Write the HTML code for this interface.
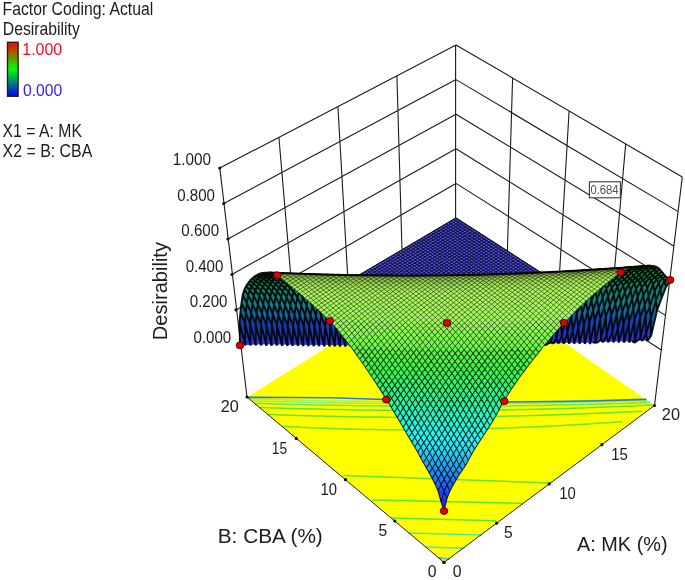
<!DOCTYPE html>
<html><head><meta charset="utf-8"><title>Desirability 3D surface</title>
<style>
html,body{margin:0;padding:0;background:#fff}
body{width:685px;height:580px;position:relative;overflow:hidden;font-family:"Liberation Sans",Arial,sans-serif}
svg text{font-family:"Liberation Sans",Arial,sans-serif}
.bar{position:absolute;left:6.4px;top:41.5px;width:9.9px;height:52.7px;border:1.3px solid #222;background:linear-gradient(to bottom,#ff0000 0%,#00ff00 50%,#0000ff 100%)}
</style></head><body>
<svg width="685" height="580" viewBox="0 0 685 580" style="position:absolute;left:0;top:0">
<path d="M219.8 168.1 L247.0 397.0M682.3 176.9 L654.5 405.5M455.6 45.0 L455.6 218.0M219.8 168.1 L456.0 45.0M456.0 45.0 L682.3 176.9M240.0 345.4 L456.0 218.0M661.7 350.3 L456.0 218.0M236.0 309.9 L456.0 183.4M665.8 315.6 L456.0 183.4M231.9 274.5 L456.0 148.8M669.9 280.9 L456.0 148.8M227.9 239.0 L456.0 114.2M674.1 246.3 L456.0 114.2M223.8 203.6 L456.0 79.6M678.2 211.6 L456.0 79.6M278.9 137.3 L294.0 313.5M625.7 143.9 L610.3 317.2M337.9 106.5 L348.0 281.7M569.1 111.0 L558.9 284.1M396.9 75.8 L402.0 249.8M512.6 78.0 L507.4 251.1" stroke="#1a1a1a" stroke-width="1.1" fill="none"/>
<polygon points="444.0,562.4 247.0,397.0 456.0,267.0 654.5,405.5" fill="#ffff00"/>
<path d="M343.2 475.4 L550.3 483.1" stroke="#62e628" stroke-width="1.5" fill="none"/>
<path d="M372.1 500.1 L523.0 503.4" stroke="#5ae630" stroke-width="1.5" fill="none"/>
<path d="M391.0 518.0 L496.1 520.7" stroke="#54e644" stroke-width="1.5" fill="none"/>
<path d="M408.5 532.9 L482.1 535.0" stroke="#5ae696" stroke-width="1.5" fill="none"/>
<path d="M425.2 547.0 L464.6 548.2" stroke="#5adcc8" stroke-width="1.5" fill="none"/>
<path d="M438.3 557.8 L449.7 559.2" stroke="#50aae6" stroke-width="1.5" fill="none"/>
<polyline points="622.8,421.6 619.9,421.8 616.2,422.1 613.1,422.3 610.7,422.5 607.1,422.7 603.5,423.0 601.1,423.1 597.9,423.3 594.2,423.6 591.5,423.8 588.7,423.9 585.0,424.2 582.0,424.3 579.5,424.5 575.7,424.7 572.5,424.9 570.1,425.0 566.4,425.2 563.0,425.4 560.6,425.6 557.1,425.7 553.6,425.9 551.2,426.0 547.7,426.2 544.2,426.4 541.9,426.5 538.2,426.7 534.9,426.8 532.5,426.9 528.7,427.1 525.6,427.2 523.0,427.3 519.2,427.5 516.4,427.6 513.5,427.7 509.6,427.8 507.2,427.9 503.9,428.1 500.4,428.2 498.1,428.2 494.2,428.4 491.2,428.5 488.4,428.6 484.5,428.7 482.2,428.7 478.7,428.8 475.4,428.9 472.8,429.0 468.9,429.1 466.4,429.1 463.1,429.2 459.7,429.3 457.2,429.3 453.2,429.4 450.8,429.5 447.3,429.5 444.1,429.6 441.4,429.6 437.5,429.6 435.3,429.7 431.4,429.7 428.7,429.7 425.5,429.8 422.2,429.8 419.4,429.8 415.7,429.8 413.4,429.8 409.4,429.8 407.0,429.9 403.3,429.9 400.5,429.8 397.3,429.8 394.1,429.8 391.2,429.8 387.8,429.8 385.0,429.7 381.4,429.7 378.9,429.7 375.1,429.6 372.7,429.6 368.9,429.5 366.5,429.5 362.6,429.4 360.3,429.3 356.4,429.2 354.1,429.2 350.3,429.1 347.8,429.0 344.1,428.9 341.5,428.8 338.0,428.7 335.2,428.6 332.0,428.5 328.9,428.4 325.9,428.3 322.5,428.2 319.9,428.1 316.1,427.9 313.9,427.8 310.0,427.7 307.6,427.6 304.0,427.4 301.2,427.3 298.0,427.1 294.8,427.0 292.1,426.9 288.4,426.7 286.2,426.6 282.3,426.4" stroke="#68e828" stroke-width="1.5" fill="none"/>
<polyline points="642.0,411.3 639.1,411.4 635.4,411.5 633.1,411.7 629.8,411.8 626.2,412.0 623.9,412.1 620.5,412.3 617.1,412.4 614.8,412.5 611.1,412.7 608.0,412.8 605.4,412.9 601.7,413.1 599.0,413.2 596.0,413.3 592.2,413.4 590.0,413.5 586.5,413.7 583.2,413.8 580.9,413.9 577.1,414.0 574.2,414.1 571.4,414.2 567.6,414.4 565.2,414.5 561.9,414.6 558.4,414.7 556.1,414.8 552.3,414.9 549.5,415.0 546.6,415.1 542.8,415.2 540.5,415.3 537.0,415.4 533.8,415.5 531.3,415.5 527.4,415.7 524.9,415.7 521.6,415.8 518.2,415.9 515.8,416.0 512.0,416.1 509.3,416.1 506.2,416.2 502.7,416.3 500.4,416.3 496.5,416.4 493.8,416.5 490.6,416.6 487.2,416.6 484.8,416.7 480.9,416.7 478.4,416.8 475.0,416.8 471.9,416.9 469.1,416.9 465.3,417.0 463.1,417.0 459.3,417.0 456.6,417.1 453.4,417.1 450.1,417.1 447.4,417.2 443.6,417.2 441.5,417.2 437.5,417.2 435.0,417.3 431.5,417.3 428.6,417.3 425.6,417.3 422.1,417.3 419.6,417.3 415.7,417.3 413.6,417.3 409.5,417.3 407.2,417.3 403.5,417.3 400.9,417.3 397.5,417.3 394.5,417.2 391.4,417.2 388.2,417.2 385.3,417.2 381.9,417.1 379.3,417.1 375.6,417.1 373.2,417.0 369.3,417.0 367.1,417.0 363.1,416.9 360.9,416.9 356.9,416.8 354.8,416.8 350.7,416.7 348.6,416.7 344.5,416.6 342.4,416.6 338.4,416.5 336.2,416.4 332.2,416.3 330.1,416.3 326.0,416.2 323.9,416.1 319.8,416.0 317.7,416.0 313.7,415.9 311.5,415.8 307.6,415.7 305.3,415.7 301.5,415.5 299.1,415.5 295.5,415.4 292.8,415.3 289.4,415.2 286.6,415.1 283.4,415.0 280.3,414.9 277.4,414.8 274.0,414.6 271.4,414.5 267.7,414.4" stroke="#62e62c" stroke-width="1.5" fill="none"/>
<polyline points="653.7,405.0 649.8,404.9 647.7,404.9 644.2,405.2 640.7,405.4 638.4,405.5 635.3,405.9 632.1,406.4 629.0,406.1 625.8,406.2 622.3,406.3 620.1,406.4 616.4,406.6 613.3,406.7 610.8,406.8 607.0,407.0 604.3,407.1 601.4,407.2 597.6,407.3 595.4,407.4 591.9,407.5 588.7,407.6 586.3,407.7 582.5,407.9 579.8,408.0 576.8,408.1 573.1,408.2 570.9,408.2 567.3,408.4 564.2,408.5 561.5,408.5 557.7,408.6 555.4,408.7 552.0,408.8 548.7,408.9 546.2,409.0 542.4,409.1 539.9,409.1 536.6,409.2 533.3,409.3 530.8,409.3 527.0,409.4 524.6,409.5 521.2,409.5 518.0,409.6 515.3,409.7 511.5,409.7 509.3,409.8 505.6,409.8 502.8,409.9 499.8,409.9 496.3,410.0 493.9,410.0 490.0,410.1 487.6,410.1 484.1,410.1 481.1,410.2 478.2,410.2 474.7,410.2 472.3,410.3 468.4,410.3 466.1,410.3 462.5,410.3 459.6,410.4 456.6,410.4 453.2,410.4 450.6,410.4 446.8,410.4 444.7,410.4 440.7,410.4 438.3,410.4 434.7,410.5 432.0,410.5 428.7,410.5 425.6,410.5 422.8,410.5 419.3,410.4 416.8,410.4 412.9,410.4 410.7,410.4 406.7,410.4 404.5,410.4 400.7,410.4 398.2,410.3 394.7,410.3 391.9,410.3 388.6,410.3 385.7,410.2 382.6,410.2 379.4,410.2 376.5,410.2 373.2,410.1 370.4,410.1 366.9,410.0 364.3,410.0 360.7,410.0 358.2,409.9 354.5,409.9 352.1,409.8 348.3,409.8 346.0,409.7 342.1,409.6 339.9,409.6 336.0,409.5 333.8,409.5 329.8,409.4 327.6,409.4 323.7,409.3 321.5,409.2 317.6,409.1 315.3,409.1 311.4,409.0 309.1,408.9 305.3,408.8 303.0,408.8 299.2,408.7 296.8,408.6 293.2,408.5 290.6,408.5 287.1,408.4 284.4,408.3 281.0,408.2 278.2,408.1 275.0,408.0 272.0,407.9 268.9,407.8 265.7,407.7 262.9,407.6 259.5,407.5" stroke="#5ee634" stroke-width="1.5" fill="none"/>
<polyline points="649.8,402.2 646.3,402.4 644.0,402.5 640.8,402.9 637.5,403.3 634.9,402.9 631.2,403.1 628.3,403.2 625.6,403.2 621.8,403.4 619.5,403.4 616.1,403.6 612.9,403.6 610.4,403.7 606.6,403.8 604.1,403.9 600.9,404.0 597.6,404.1 595.2,404.2 591.4,404.3 588.8,404.3 585.6,404.4 582.2,404.5 579.9,404.6 576.0,404.7 573.5,404.7 570.3,404.8 567.0,404.9 564.5,404.9 560.7,405.0 558.3,405.1 554.9,405.1 551.8,405.2 549.1,405.2 545.3,405.3 543.1,405.4 539.4,405.4 536.6,405.5 533.6,405.5 530.1,405.6 527.8,405.6 523.9,405.7 521.5,405.7 518.1,405.8 515.0,405.8 512.2,405.8 508.6,405.9 506.3,405.9 502.4,406.0 500.0,406.0 496.6,406.0 493.6,406.1 490.7,406.1 487.2,406.1 484.8,406.1 480.8,406.2 478.7,406.2 474.9,406.2 472.3,406.2 469.0,406.2 465.9,406.3 463.1,406.3 459.5,406.3 457.2,406.3 453.2,406.3 451.0,406.3 447.2,406.3 444.7,406.3 441.3,406.3 438.3,406.3 435.3,406.3 432.0,406.3 429.3,406.3 425.7,406.3 423.4,406.3 419.4,406.3 417.3,406.3 413.4,406.2 411.0,406.2 407.4,406.2 404.7,406.2 401.3,406.2 398.5,406.2 395.3,406.1 392.2,406.1 389.3,406.1 386.0,406.1 383.2,406.0 379.7,406.0 377.2,406.0 373.5,405.9 371.1,405.9 367.3,405.8 365.1,405.8 361.1,405.8 359.0,405.7 354.9,405.7 352.8,405.6 348.9,405.6 346.6,405.6 342.8,405.5 340.5,405.4 336.7,405.4 334.3,405.3 330.5,405.3 328.1,405.2 324.4,405.2 322.0,405.1 318.3,405.0 315.9,405.0 312.2,404.9 309.8,404.8 306.0,404.8 303.6,404.7 299.9,404.6 297.6,404.6 293.7,404.5 291.5,404.4 287.6,404.3 285.4,404.2 281.4,404.1 279.3,404.1 275.3,404.0 273.2,403.9 269.2,403.8 267.0,403.7 263.2,403.6 260.8,403.6 257.1,403.4 254.6,403.4" stroke="#6ae856" stroke-width="1.5" fill="none"/>
<polyline points="647.1,400.3 643.9,400.9 640.4,401.2 637.8,400.7 634.8,400.8 632.1,400.9 628.3,401.0 626.0,401.1 622.6,401.2 619.4,401.3 617.0,401.4 613.2,401.5 610.7,401.5 607.5,401.6 604.1,401.7 601.7,401.8 597.9,401.9 595.4,402.0 592.2,402.0 588.9,402.1 586.5,402.2 582.6,402.3 580.2,402.3 576.9,402.4 573.7,402.5 571.1,402.5 567.3,402.6 565.0,402.7 561.5,402.7 558.6,402.8 555.7,402.8 552.1,402.9 549.9,402.9 546.0,403.0 543.5,403.1 540.2,403.1 537.0,403.2 534.4,403.2 530.6,403.3 528.4,403.3 524.7,403.3 522.0,403.4 518.8,403.4 515.5,403.5 513.0,403.5 509.1,403.5 507.0,403.5 503.2,403.6 500.6,403.6 497.3,403.6 494.2,403.7 491.5,403.7 487.8,403.7 485.6,403.7 481.6,403.8 479.3,403.8 475.7,403.8 472.9,403.8 469.8,403.8 466.6,403.8 463.9,403.8 460.2,403.9 457.9,403.9 454.0,403.9 451.8,403.9 448.0,403.9 445.5,403.9 442.1,403.9 439.2,403.9 436.1,403.9 432.8,403.9 430.1,403.9 426.5,403.8 424.2,403.8 420.3,403.8 418.2,403.8 414.2,403.8 411.9,403.8 408.2,403.8 405.6,403.7 402.2,403.7 399.4,403.7 396.1,403.7 393.1,403.6 390.1,403.6 386.9,403.6 384.1,403.6 380.7,403.5 378.1,403.5 374.5,403.5 372.0,403.4 368.3,403.4 365.9,403.4 362.1,403.3 359.9,403.3 355.9,403.2 353.8,403.2 349.8,403.1 347.6,403.1 343.7,403.0 341.5,403.0 337.6,402.9 335.3,402.9 331.5,402.8 329.2,402.8 325.4,402.7 323.0,402.7 319.3,402.6 316.9,402.5 313.2,402.5 310.8,402.4 307.0,402.3 304.7,402.3 300.9,402.2 298.6,402.1 294.8,402.0 292.5,402.0 288.6,401.9 286.4,401.8 282.5,401.7 280.3,401.7 276.3,401.6 274.2,401.5 270.2,401.4 268.1,401.3 264.2,401.2 261.9,401.2 258.2,401.1 255.7,401.0 252.1,400.9" stroke="#96ee64" stroke-width="1.5" fill="none"/>
<polyline points="645.7,399.4 643.6,399.4 640.0,399.1 637.6,399.2 633.8,399.3 631.3,399.4 628.1,399.5 624.7,399.6 622.4,399.6 618.6,399.8 616.0,399.8 612.9,399.9 609.5,400.0 607.2,400.0 603.4,400.1 600.8,400.2 597.7,400.3 594.3,400.4 591.9,400.4 588.1,400.5 585.7,400.6 582.3,400.6 579.2,400.7 576.6,400.8 572.8,400.8 570.6,400.9 566.9,400.9 564.1,401.0 561.2,401.1 557.7,401.1 555.3,401.1 551.5,401.2 549.1,401.2 545.7,401.3 542.6,401.3 539.9,401.4 536.2,401.4 534.0,401.4 530.1,401.5 527.7,401.5 524.3,401.6 521.3,401.6 518.4,401.7 514.9,401.7 512.6,401.7 508.6,401.7 506.4,401.8 502.8,401.8 500.0,401.8 496.9,401.8 493.6,401.9 491.0,401.9 487.3,401.9 485.1,401.9 481.2,401.9 478.8,401.9 475.3,402.0 472.4,402.0 469.4,402.0 466.1,402.0 463.4,402.0 459.8,402.0 457.5,402.0 453.5,402.0 451.4,402.0 447.6,402.0 445.1,402.0 441.6,402.0 438.8,402.0 435.7,402.0 432.5,402.0 429.7,402.0 426.3,401.9 423.7,401.9 420.0,401.9 417.7,401.9 413.8,401.9 411.7,401.8 407.7,401.8 405.4,401.8 401.7,401.8 399.2,401.8 395.7,401.8 392.9,401.7 389.7,401.7 386.7,401.7 383.6,401.6 380.5,401.6 377.6,401.6 374.3,401.5 371.6,401.5 368.1,401.5 365.5,401.4 361.9,401.4 359.4,401.3 355.8,401.3 353.4,401.2 349.6,401.2 347.3,401.1 343.5,401.1 341.2,401.0 337.3,401.0 335.1,400.9 331.2,400.9 329.0,400.8 325.0,400.7 322.9,400.7 318.9,400.6 316.8,400.6 312.8,400.5 310.7,400.5 306.7,400.4 304.6,400.3 300.6,400.2 298.5,400.2 294.5,400.1 292.3,400.0 288.4,400.0 286.2,399.9 282.3,399.8 280.1,399.7 276.3,399.7 273.9,399.6 270.2,399.5 267.8,399.4 264.1,399.3 261.6,399.3 258.1,399.2 255.4,399.1 252.1,399.0 249.3,398.9" stroke="#aaf05a" stroke-width="1.5" fill="none"/>
<polyline points="247,397.4 290,397.5 330,397.8 386,399.5 445,401.2 505,402 560,401.5 600,400.7 646.5,399.4" stroke="#2878e6" stroke-width="1.6" fill="none"/>
<path d="M247.0 397.0 L444.0 562.4 L654.5 405.5" stroke="#222" stroke-width="1" fill="none"/>
<circle cx="444.0" cy="562.4" r="1.6" fill="#111"/>
<circle cx="444.0" cy="562.4" r="1.6" fill="#111"/>
<circle cx="394.8" cy="521.0" r="1.6" fill="#111"/>
<circle cx="496.6" cy="523.2" r="1.6" fill="#111"/>
<circle cx="345.5" cy="479.7" r="1.6" fill="#111"/>
<circle cx="549.2" cy="483.9" r="1.6" fill="#111"/>
<circle cx="296.2" cy="438.4" r="1.6" fill="#111"/>
<circle cx="601.9" cy="444.7" r="1.6" fill="#111"/>
<circle cx="247.0" cy="397.0" r="1.6" fill="#111"/>
<circle cx="654.5" cy="405.5" r="1.6" fill="#111"/>
<circle cx="240.0" cy="345.4" r="1.6" fill="#111"/>
<circle cx="236.0" cy="309.9" r="1.6" fill="#111"/>
<circle cx="231.9" cy="274.5" r="1.6" fill="#111"/>
<circle cx="227.9" cy="239.0" r="1.6" fill="#111"/>
<circle cx="223.8" cy="203.6" r="1.6" fill="#111"/>
<circle cx="219.8" cy="168.1" r="1.6" fill="#111"/>
<polygon points="240.0,345.4 264.3,344.1 290.7,344.5 317.0,344.8 343.1,345.0 369.2,345.1 395.1,345.1 420.9,345.1 446.6,344.9 472.1,344.7 497.5,344.3 522.7,343.9 547.8,343.4 572.7,342.8 597.4,342.1 622.0,341.3 646.3,340.4 456.0,218.0" fill="#4d4de4"/>
<path d="M350.7 283.1 L348.4 281.5M355.7 283.2 L353.4 281.5L351.1 279.9M360.7 283.3 L358.4 281.6L356.1 279.9L353.8 278.3M550.8 282.2 L553.3 280.6M365.7 283.3 L363.4 281.7L361.1 280.0L358.7 278.4L356.5 276.7M545.8 282.1 L548.3 280.5L550.7 278.9M370.7 283.4 L368.4 281.7L366.0 280.1L363.7 278.4L361.4 276.8L359.1 275.1M540.9 282.0 L543.3 280.5L545.7 278.9L548.2 277.3M375.7 283.4 L373.4 281.8L371.0 280.1L368.7 278.5L366.4 276.8L364.1 275.2L361.8 273.6M533.4 283.6 L535.9 282.0L538.3 280.4L540.7 278.8L543.2 277.2L545.6 275.6M380.7 283.5 L378.4 281.8L376.0 280.2L373.7 278.5L371.4 276.9L369.1 275.2L366.8 273.6L364.5 272.0M528.4 283.5 L530.9 281.9L533.3 280.3L535.8 278.7L538.2 277.2L540.6 275.6L543.1 274.0M385.7 283.5 L383.4 281.9L381.0 280.2L378.7 278.6L376.4 276.9L374.0 275.3L371.7 273.7L369.4 272.0L367.1 270.4M523.4 283.5 L525.9 281.9L528.3 280.3L530.8 278.7L533.2 277.1L535.7 275.5L538.1 274.0L540.5 272.4M390.7 283.6 L388.4 281.9L386.0 280.3L383.7 278.6L381.3 277.0L379.0 275.4L376.7 273.7L374.4 272.1L372.1 270.5L369.8 268.8M518.4 283.4 L520.9 281.8L523.3 280.2L525.8 278.6L528.3 277.1L530.7 275.5L533.2 273.9L535.6 272.3L538.0 270.8M395.7 283.7 L393.3 282.0L391.0 280.3L388.7 278.7L386.3 277.1L384.0 275.4L381.7 273.8L379.4 272.2L377.0 270.5L374.7 268.9L372.4 267.3M513.4 283.4 L515.9 281.8L518.3 280.2L520.8 278.6L523.3 277.0L525.7 275.4L528.2 273.8L530.6 272.3L533.1 270.7L535.5 269.1M398.3 282.1 L396.0 280.4L393.6 278.8L391.3 277.1L389.0 275.5L386.6 273.8L384.3 272.2L382.0 270.6L379.7 269.0L377.4 267.3L375.1 265.7M508.4 283.3 L510.9 281.7L513.4 280.1L515.8 278.5L518.3 276.9L520.8 275.4L523.2 273.8L525.7 272.2L528.1 270.6L530.6 269.1L533.0 267.5M403.3 282.1 L401.0 280.5L398.6 278.8L396.3 277.2L393.9 275.5L391.6 273.9L389.3 272.3L386.9 270.6L384.6 269.0L382.3 267.4L380.0 265.8L377.7 264.2M503.4 283.2 L505.9 281.6L508.4 280.1L510.8 278.5L513.3 276.9L515.8 275.3L518.3 273.7L520.7 272.2L523.2 270.6L525.6 269.0L528.1 267.5L530.5 265.9M408.3 282.2 L406.0 280.5L403.6 278.9L401.3 277.2L398.9 275.6L396.6 273.9L394.2 272.3L391.9 270.7L389.6 269.1L387.3 267.5L384.9 265.8L382.6 264.2L380.3 262.6M498.4 283.2 L500.9 281.6L503.4 280.0L505.9 278.4L508.3 276.8L510.8 275.2L513.3 273.7L515.8 272.1L518.2 270.5L520.7 269.0L523.1 267.4L525.6 265.8L528.0 264.3M413.3 282.2 L411.0 280.6L408.6 278.9L406.2 277.3L403.9 275.6L401.5 274.0L399.2 272.4L396.8 270.7L394.5 269.1L392.2 267.5L389.9 265.9L387.6 264.3L385.3 262.7L383.0 261.1M493.4 283.1 L495.9 281.5L498.4 279.9L500.9 278.4L503.4 276.8L505.9 275.2L508.3 273.6L510.8 272.0L513.3 270.5L515.7 268.9L518.2 267.3L520.6 265.8L523.1 264.2L525.5 262.7M418.3 282.3 L416.0 280.6L413.6 279.0L411.2 277.3L408.9 275.7L406.5 274.1L404.1 272.4L401.8 270.8L399.5 269.2L397.1 267.6L394.8 266.0L392.5 264.3L390.2 262.7L387.9 261.1L385.6 259.5M488.4 283.1 L490.9 281.5L493.4 279.9L495.9 278.3L498.4 276.7L500.9 275.1L503.4 273.6L505.8 272.0L508.3 270.4L510.8 268.9L513.2 267.3L515.7 265.7L518.1 264.2L520.6 262.6L523.0 261.1M423.3 282.3 L421.0 280.7L418.6 279.0L416.2 277.4L413.8 275.8L411.5 274.1L409.1 272.5L406.8 270.9L404.4 269.2L402.1 267.6L399.7 266.0L397.4 264.4L395.1 262.8L392.8 261.2L390.5 259.6L388.2 258.0M483.4 283.0 L485.9 281.4L488.4 279.8L490.9 278.2L493.4 276.7L495.9 275.1L498.4 273.5L500.9 271.9L503.4 270.4L505.8 268.8L508.3 267.2L510.8 265.7L513.2 264.1L515.7 262.6L518.1 261.0L520.5 259.5M428.3 282.4 L426.0 280.7L423.6 279.1L421.2 277.4L418.8 275.8L416.4 274.2L414.1 272.5L411.7 270.9L409.4 269.3L407.0 267.7L404.7 266.1L402.3 264.5L400.0 262.9L397.7 261.3L395.4 259.7L393.1 258.1L390.8 256.5M478.4 283.0 L480.9 281.4L483.4 279.8L485.9 278.2L488.4 276.6L490.9 275.0L493.4 273.4L495.9 271.9L498.4 270.3L500.9 268.7L503.4 267.2L505.8 265.6L508.3 264.1L510.7 262.5L513.2 261.0L515.6 259.4L518.1 257.9M433.3 282.5 L430.9 280.8L428.5 279.1L426.2 277.5L423.8 275.9L421.4 274.2L419.0 272.6L416.7 271.0L414.3 269.4L411.9 267.7L409.6 266.1L407.3 264.5L404.9 262.9L402.6 261.3L400.3 259.7L398.0 258.1L395.7 256.5L393.4 254.9M473.4 282.9 L475.9 281.3L478.4 279.7L480.9 278.1L483.5 276.5L486.0 275.0L488.5 273.4L491.0 271.8L493.5 270.2L496.0 268.7L498.4 267.1L500.9 265.6L503.4 264.0L505.8 262.5L508.3 260.9L510.7 259.4L513.2 257.9L515.6 256.3M438.3 282.5 L435.9 280.9L433.5 279.2L431.1 277.6L428.7 275.9L426.4 274.3L424.0 272.7L421.6 271.0L419.2 269.4L416.9 267.8L414.5 266.2L412.2 264.6L409.9 263.0L407.5 261.4L405.2 259.8L402.9 258.2L400.6 256.6L398.2 255.0L395.9 253.4M468.4 282.8 L470.9 281.3L473.4 279.7L476.0 278.1L478.5 276.5L481.0 274.9L483.5 273.3L486.0 271.8L488.5 270.2L491.0 268.6L493.5 267.1L496.0 265.5L498.4 264.0L500.9 262.4L503.4 260.9L505.8 259.3L508.3 257.8L510.7 256.3L513.1 254.7M443.3 282.6 L440.9 280.9L438.5 279.3L436.1 277.6L433.7 276.0L431.3 274.3L428.9 272.7L426.6 271.1L424.2 269.5L421.8 267.8L419.5 266.2L417.1 264.6L414.8 263.0L412.4 261.4L410.1 259.8L407.8 258.2L405.4 256.6L403.1 255.1L400.8 253.5L398.5 251.9M463.4 282.8 L465.9 281.2L468.4 279.6L471.0 278.0L473.5 276.4L476.0 274.9L478.6 273.3L481.1 271.7L483.6 270.1L486.1 268.6L488.6 267.0L491.0 265.5L493.5 263.9L496.0 262.4L498.5 260.8L500.9 259.3L503.4 257.7L505.8 256.2L508.2 254.7L510.7 253.2M448.3 282.6 L445.9 281.0L443.5 279.3L441.1 277.7L438.7 276.0L436.3 274.4L433.9 272.8L431.5 271.1L429.1 269.5L426.8 267.9L424.4 266.3L422.0 264.7L419.7 263.1L417.3 261.5L415.0 259.9L412.7 258.3L410.3 256.7L408.0 255.1L405.7 253.5L403.4 252.0L401.1 250.4M458.4 282.7 L460.9 281.1L463.5 279.5L466.0 278.0L468.5 276.4L471.1 274.8L473.6 273.2L476.1 271.6L478.6 270.1L481.1 268.5L483.6 267.0L486.1 265.4L488.6 263.9L491.1 262.3L493.5 260.8L496.0 259.2L498.5 257.7L500.9 256.2L503.4 254.6L505.8 253.1L508.2 251.6M453.4 282.7 L450.9 281.0L448.5 279.4L446.1 277.7L443.7 276.1L441.3 274.5L438.9 272.8L436.5 271.2L434.1 269.6L431.7 268.0L429.3 266.3L427.0 264.7L424.6 263.1L422.3 261.5L419.9 259.9L417.6 258.3L415.2 256.8L412.9 255.2L410.6 253.6L408.3 252.0L406.0 250.4L403.7 248.9M453.4 282.7 L455.9 281.1L458.5 279.5L461.0 277.9L463.6 276.3L466.1 274.7L468.6 273.2L471.2 271.6L473.7 270.0L476.2 268.5L478.7 266.9L481.2 265.3L483.7 263.8L486.2 262.3L488.6 260.7L491.1 259.2L493.6 257.6L496.0 256.1L498.5 254.6L500.9 253.1L503.4 251.5L505.8 250.0M458.4 282.7 L455.9 281.1L453.5 279.4L451.1 277.8L448.6 276.1L446.2 274.5L443.8 272.9L441.4 271.3L439.0 269.6L436.7 268.0L434.3 266.4L431.9 264.8L429.5 263.2L427.2 261.6L424.8 260.0L422.5 258.4L420.1 256.8L417.8 255.2L415.5 253.6L413.1 252.1L410.8 250.5L408.5 248.9L406.2 247.4M448.3 282.6 L450.9 281.0L453.5 279.4L456.0 277.8L458.6 276.3L461.1 274.7L463.7 273.1L466.2 271.5L468.7 270.0L471.2 268.4L473.7 266.8L476.3 265.3L478.7 263.7L481.2 262.2L483.7 260.7L486.2 259.1L488.7 257.6L491.1 256.0L493.6 254.5L496.0 253.0L498.5 251.5L500.9 250.0L503.4 248.5M463.4 282.8 L460.9 281.1L458.5 279.5L456.0 277.8L453.6 276.2L451.2 274.6L448.8 272.9L446.4 271.3L444.0 269.7L441.6 268.1L439.2 266.5L436.8 264.8L434.5 263.2L432.1 261.6L429.7 260.0L427.4 258.5L425.0 256.9L422.7 255.3L420.3 253.7L418.0 252.1L415.7 250.6L413.4 249.0L411.1 247.4L408.8 245.9M443.3 282.6 L445.9 281.0L448.5 279.4L451.1 277.8L453.6 276.2L456.2 274.6L458.7 273.0L461.2 271.5L463.8 269.9L466.3 268.3L468.8 266.8L471.3 265.2L473.8 263.7L476.3 262.1L478.8 260.6L481.3 259.1L483.8 257.5L486.2 256.0L488.7 254.5L491.2 252.9L493.6 251.4L496.1 249.9L498.5 248.4L500.9 246.9M468.4 282.8 L465.9 281.2L463.5 279.5L461.0 277.9L458.6 276.3L456.2 274.6L453.7 273.0L451.3 271.4L448.9 269.7L446.5 268.1L444.1 266.5L441.8 264.9L439.4 263.3L437.0 261.7L434.6 260.1L432.3 258.5L429.9 256.9L427.6 255.3L425.2 253.8L422.9 252.2L420.6 250.6L418.2 249.0L415.9 247.5L413.6 245.9L411.3 244.4M438.3 282.5 L440.9 280.9L443.5 279.3L446.1 277.7L448.6 276.1L451.2 274.6L453.7 273.0L456.3 271.4L458.8 269.9L461.4 268.3L463.9 266.7L466.4 265.2L468.9 263.6L471.4 262.1L473.9 260.5L476.4 259.0L478.9 257.5L481.4 255.9L483.8 254.4L486.3 252.9L488.7 251.4L491.2 249.9L493.6 248.3L496.1 246.8L498.5 245.3M473.4 282.9 L470.9 281.3L468.4 279.6L466.0 278.0L463.6 276.3L461.1 274.7L458.7 273.0L456.3 271.4L453.9 269.8L451.5 268.2L449.1 266.6L446.7 265.0L444.3 263.4L441.9 261.8L439.5 260.2L437.2 258.6L434.8 257.0L432.5 255.4L430.1 253.8L427.8 252.2L425.4 250.7L423.1 249.1L420.8 247.5L418.5 246.0L416.1 244.4L413.8 242.9M433.3 282.5 L435.9 280.9L438.5 279.3L441.1 277.7L443.7 276.1L446.2 274.5L448.8 272.9L451.3 271.4L453.9 269.8L456.4 268.2L458.9 266.7L461.5 265.1L464.0 263.6L466.5 262.0L469.0 260.5L471.5 258.9L474.0 257.4L476.5 255.9L478.9 254.4L481.4 252.8L483.9 251.3L486.3 249.8L488.8 248.3L491.2 246.8L493.7 245.3L496.1 243.8M478.4 283.0 L475.9 281.3L473.4 279.7L471.0 278.0L468.5 276.4L466.1 274.7L463.7 273.1L461.2 271.5L458.8 269.9L456.4 268.2L454.0 266.6L451.6 265.0L449.2 263.4L446.8 261.8L444.4 260.2L442.1 258.6L439.7 257.0L437.3 255.4L435.0 253.9L432.6 252.3L430.3 250.7L428.0 249.1L425.6 247.6L423.3 246.0L421.0 244.5L418.7 242.9L416.4 241.4M428.3 282.4 L430.9 280.8L433.5 279.2L436.1 277.6L438.7 276.0L441.3 274.5L443.8 272.9L446.4 271.3L448.9 269.7L451.5 268.2L454.0 266.6L456.5 265.1L459.1 263.5L461.6 262.0L464.1 260.4L466.6 258.9L469.1 257.4L471.6 255.8L474.1 254.3L476.5 252.8L479.0 251.3L481.5 249.7L483.9 248.2L486.4 246.7L488.8 245.2L491.3 243.7L493.7 242.2M483.4 283.0 L480.9 281.4L478.4 279.7L476.0 278.1L473.5 276.4L471.1 274.8L468.6 273.2L466.2 271.5L463.8 269.9L461.4 268.3L458.9 266.7L456.5 265.1L454.1 263.5L451.7 261.9L449.4 260.3L447.0 258.7L444.6 257.1L442.2 255.5L439.9 253.9L437.5 252.3L435.2 250.8L432.8 249.2L430.5 247.6L428.2 246.1L425.8 244.5L423.5 243.0L421.2 241.4L418.9 239.9M423.3 282.3 L426.0 280.7L428.5 279.1L431.1 277.6L433.7 276.0L436.3 274.4L438.9 272.8L441.4 271.3L444.0 269.7L446.5 268.1L449.1 266.6L451.6 265.0L454.1 263.5L456.7 261.9L459.2 260.4L461.7 258.8L464.2 257.3L466.7 255.8L469.2 254.2L471.7 252.7L474.1 251.2L476.6 249.7L479.1 248.2L481.5 246.7L484.0 245.2L486.4 243.7L488.9 242.2L491.3 240.7M488.4 283.1 L485.9 281.4L483.4 279.8L480.9 278.1L478.5 276.5L476.0 274.9L473.6 273.2L471.2 271.6L468.7 270.0L466.3 268.3L463.9 266.7L461.5 265.1L459.1 263.5L456.7 261.9L454.3 260.3L451.9 258.7L449.5 257.1L447.1 255.6L444.8 254.0L442.4 252.4L440.0 250.8L437.7 249.3L435.3 247.7L433.0 246.1L430.7 244.6L428.4 243.0L426.0 241.5L423.7 239.9L421.4 238.4M418.3 282.3 L421.0 280.7L423.6 279.1L426.2 277.5L428.7 275.9L431.3 274.3L433.9 272.8L436.5 271.2L439.0 269.6L441.6 268.1L444.1 266.5L446.7 265.0L449.2 263.4L451.7 261.9L454.3 260.3L456.8 258.8L459.3 257.2L461.8 255.7L464.3 254.2L466.8 252.7L469.3 251.2L471.7 249.6L474.2 248.1L476.7 246.6L479.1 245.1L481.6 243.6L484.0 242.1L486.5 240.6L488.9 239.2M493.4 283.1 L490.9 281.5L488.4 279.8L485.9 278.2L483.5 276.5L481.0 274.9L478.6 273.3L476.1 271.6L473.7 270.0L471.2 268.4L468.8 266.8L466.4 265.2L464.0 263.6L461.6 262.0L459.2 260.4L456.8 258.8L454.4 257.2L452.0 255.6L449.6 254.0L447.3 252.5L444.9 250.9L442.6 249.3L440.2 247.7L437.9 246.2L435.5 244.6L433.2 243.1L430.9 241.5L428.5 240.0L426.2 238.5L423.9 236.9M413.3 282.2 L416.0 280.6L418.6 279.0L421.2 277.4L423.8 275.9L426.4 274.3L428.9 272.7L431.5 271.1L434.1 269.6L436.7 268.0L439.2 266.5L441.8 264.9L444.3 263.4L446.8 261.8L449.4 260.3L451.9 258.7L454.4 257.2L456.9 255.7L459.4 254.1L461.9 252.6L464.4 251.1L466.9 249.6L469.3 248.1L471.8 246.6L474.3 245.1L476.7 243.6L479.2 242.1L481.6 240.6L484.1 239.1L486.5 237.6M498.4 283.2 L495.9 281.5L493.4 279.9L490.9 278.2L488.4 276.6L486.0 275.0L483.5 273.3L481.1 271.7L478.6 270.1L476.2 268.5L473.7 266.8L471.3 265.2L468.9 263.6L466.5 262.0L464.1 260.4L461.7 258.8L459.3 257.2L456.9 255.7L454.5 254.1L452.1 252.5L449.8 250.9L447.4 249.4L445.1 247.8L442.7 246.2L440.4 244.7L438.0 243.1L435.7 241.6L433.4 240.0L431.1 238.5L428.7 237.0L426.4 235.4M408.3 282.2 L411.0 280.6L413.6 279.0L416.2 277.4L418.8 275.8L421.4 274.2L424.0 272.7L426.6 271.1L429.1 269.5L431.7 268.0L434.3 266.4L436.8 264.8L439.4 263.3L441.9 261.8L444.4 260.2L447.0 258.7L449.5 257.1L452.0 255.6L454.5 254.1L457.0 252.6L459.5 251.0L462.0 249.5L464.5 248.0L467.0 246.5L469.4 245.0L471.9 243.5L474.4 242.0L476.8 240.5L479.2 239.0L481.7 237.6L484.1 236.1M503.4 283.2 L500.9 281.6L498.4 279.9L495.9 278.3L493.4 276.7L490.9 275.0L488.5 273.4L486.0 271.8L483.6 270.1L481.1 268.5L478.7 266.9L476.3 265.3L473.8 263.7L471.4 262.1L469.0 260.5L466.6 258.9L464.2 257.3L461.8 255.7L459.4 254.1L457.0 252.6L454.6 251.0L452.3 249.4L449.9 247.9L447.6 246.3L445.2 244.7L442.9 243.2L440.5 241.6L438.2 240.1L435.9 238.6L433.6 237.0L431.2 235.5L428.9 234.0M403.3 282.1 L406.0 280.5L408.6 278.9L411.2 277.3L413.8 275.8L416.4 274.2L419.0 272.6L421.6 271.0L424.2 269.5L426.8 267.9L429.3 266.3L431.9 264.8L434.5 263.2L437.0 261.7L439.5 260.2L442.1 258.6L444.6 257.1L447.1 255.6L449.6 254.0L452.1 252.5L454.6 251.0L457.1 249.5L459.6 248.0L462.1 246.5L464.6 245.0L467.1 243.5L469.5 242.0L472.0 240.5L474.4 239.0L476.9 237.5L479.3 236.0L481.7 234.6M508.4 283.3 L505.9 281.6L503.4 280.0L500.9 278.4L498.4 276.7L495.9 275.1L493.4 273.4L491.0 271.8L488.5 270.2L486.1 268.6L483.6 267.0L481.2 265.3L478.7 263.7L476.3 262.1L473.9 260.5L471.5 258.9L469.1 257.4L466.7 255.8L464.3 254.2L461.9 252.6L459.5 251.0L457.1 249.5L454.8 247.9L452.4 246.4L450.1 244.8L447.7 243.2L445.4 241.7L443.0 240.2L440.7 238.6L438.4 237.1L436.0 235.5L433.7 234.0L431.4 232.5M398.3 282.1 L401.0 280.5L403.6 278.9L406.2 277.3L408.9 275.7L411.5 274.1L414.1 272.5L416.7 271.0L419.2 269.4L421.8 267.8L424.4 266.3L427.0 264.7L429.5 263.2L432.1 261.6L434.6 260.1L437.2 258.6L439.7 257.0L442.2 255.5L444.8 254.0L447.3 252.5L449.8 250.9L452.3 249.4L454.8 247.9L457.3 246.4L459.7 244.9L462.2 243.4L464.7 241.9L467.2 240.4L469.6 238.9L472.1 237.5L474.5 236.0L476.9 234.5L479.4 233.0M513.4 283.4 L510.9 281.7L508.4 280.1L505.9 278.4L503.4 276.8L500.9 275.1L498.4 273.5L495.9 271.9L493.5 270.2L491.0 268.6L488.6 267.0L486.1 265.4L483.7 263.8L481.2 262.2L478.8 260.6L476.4 259.0L474.0 257.4L471.6 255.8L469.2 254.2L466.8 252.7L464.4 251.1L462.0 249.5L459.6 248.0L457.3 246.4L454.9 244.9L452.5 243.3L450.2 241.8L447.8 240.2L445.5 238.7L443.2 237.1L440.9 235.6L438.5 234.1L436.2 232.5L433.9 231.0M390.7 283.6 L393.3 282.0L396.0 280.4L398.6 278.8L401.3 277.2L403.9 275.6L406.5 274.1L409.1 272.5L411.7 270.9L414.3 269.4L416.9 267.8L419.5 266.2L422.0 264.7L424.6 263.1L427.2 261.6L429.7 260.0L432.3 258.5L434.8 257.0L437.3 255.4L439.9 253.9L442.4 252.4L444.9 250.9L447.4 249.4L449.9 247.9L452.4 246.4L454.9 244.9L457.4 243.4L459.9 241.9L462.3 240.4L464.8 238.9L467.2 237.4L469.7 235.9L472.1 234.4L474.6 233.0L477.0 231.5M518.4 283.4 L515.9 281.8L513.4 280.1L510.8 278.5L508.3 276.8L505.9 275.2L503.4 273.6L500.9 271.9L498.4 270.3L496.0 268.7L493.5 267.1L491.0 265.5L488.6 263.9L486.2 262.3L483.7 260.7L481.3 259.1L478.9 257.5L476.5 255.9L474.1 254.3L471.7 252.7L469.3 251.2L466.9 249.6L464.5 248.0L462.1 246.5L459.7 244.9L457.4 243.4L455.0 241.8L452.7 240.3L450.3 238.7L448.0 237.2L445.7 235.7L443.3 234.1L441.0 232.6L438.7 231.1L436.4 229.6M385.7 283.5 L388.4 281.9L391.0 280.3L393.6 278.8L396.3 277.2L398.9 275.6L401.5 274.0L404.1 272.4L406.8 270.9L409.4 269.3L411.9 267.7L414.5 266.2L417.1 264.6L419.7 263.1L422.3 261.5L424.8 260.0L427.4 258.5L429.9 256.9L432.5 255.4L435.0 253.9L437.5 252.3L440.0 250.8L442.6 249.3L445.1 247.8L447.6 246.3L450.1 244.8L452.5 243.3L455.0 241.8L457.5 240.3L460.0 238.8L462.4 237.3L464.9 235.9L467.3 234.4L469.8 232.9L472.2 231.5L474.6 230.0M523.4 283.5 L520.9 281.8L518.3 280.2L515.8 278.5L513.3 276.9L510.8 275.2L508.3 273.6L505.8 272.0L503.4 270.4L500.9 268.7L498.4 267.1L496.0 265.5L493.5 263.9L491.1 262.3L488.6 260.7L486.2 259.1L483.8 257.5L481.4 255.9L478.9 254.4L476.5 252.8L474.1 251.2L471.7 249.6L469.3 248.1L467.0 246.5L464.6 245.0L462.2 243.4L459.9 241.9L457.5 240.3L455.1 238.8L452.8 237.2L450.5 235.7L448.1 234.2L445.8 232.7L443.5 231.1L441.2 229.6L438.9 228.1M380.7 283.5 L383.4 281.9L386.0 280.3L388.7 278.7L391.3 277.1L393.9 275.5L396.6 273.9L399.2 272.4L401.8 270.8L404.4 269.2L407.0 267.7L409.6 266.1L412.2 264.6L414.8 263.0L417.3 261.5L419.9 259.9L422.5 258.4L425.0 256.9L427.6 255.3L430.1 253.8L432.6 252.3L435.2 250.8L437.7 249.3L440.2 247.7L442.7 246.2L445.2 244.7L447.7 243.2L450.2 241.8L452.7 240.3L455.1 238.8L457.6 237.3L460.1 235.8L462.5 234.3L465.0 232.9L467.4 231.4L469.9 229.9L472.3 228.5M528.4 283.5 L525.9 281.9L523.3 280.2L520.8 278.6L518.3 276.9L515.8 275.3L513.3 273.7L510.8 272.0L508.3 270.4L505.8 268.8L503.4 267.2L500.9 265.6L498.4 264.0L496.0 262.4L493.5 260.8L491.1 259.2L488.7 257.6L486.2 256.0L483.8 254.4L481.4 252.8L479.0 251.3L476.6 249.7L474.2 248.1L471.8 246.6L469.4 245.0L467.1 243.5L464.7 241.9L462.3 240.4L460.0 238.8L457.6 237.3L455.3 235.8L452.9 234.2L450.6 232.7L448.3 231.2L446.0 229.7L443.6 228.2L441.3 226.7M375.7 283.4 L378.4 281.8L381.0 280.2L383.7 278.6L386.3 277.1L389.0 275.5L391.6 273.9L394.2 272.3L396.8 270.7L399.5 269.2L402.1 267.6L404.7 266.1L407.3 264.5L409.9 263.0L412.4 261.4L415.0 259.9L417.6 258.3L420.1 256.8L422.7 255.3L425.2 253.8L427.8 252.2L430.3 250.7L432.8 249.2L435.3 247.7L437.9 246.2L440.4 244.7L442.9 243.2L445.4 241.7L447.8 240.2L450.3 238.7L452.8 237.2L455.3 235.8L457.7 234.3L460.2 232.8L462.6 231.3L465.1 229.9L467.5 228.4L469.9 227.0M533.4 283.6 L530.9 281.9L528.3 280.3L525.8 278.6L523.3 277.0L520.8 275.4L518.3 273.7L515.8 272.1L513.3 270.5L510.8 268.9L508.3 267.2L505.8 265.6L503.4 264.0L500.9 262.4L498.5 260.8L496.0 259.2L493.6 257.6L491.1 256.0L488.7 254.5L486.3 252.9L483.9 251.3L481.5 249.7L479.1 248.2L476.7 246.6L474.3 245.1L471.9 243.5L469.5 242.0L467.2 240.4L464.8 238.9L462.4 237.3L460.1 235.8L457.7 234.3L455.4 232.8L453.1 231.2L450.7 229.7L448.4 228.2L446.1 226.7L443.8 225.2M370.7 283.4 L373.4 281.8L376.0 280.2L378.7 278.6L381.3 277.0L384.0 275.4L386.6 273.8L389.3 272.3L391.9 270.7L394.5 269.1L397.1 267.6L399.7 266.0L402.3 264.5L404.9 262.9L407.5 261.4L410.1 259.8L412.7 258.3L415.2 256.8L417.8 255.2L420.3 253.7L422.9 252.2L425.4 250.7L428.0 249.1L430.5 247.6L433.0 246.1L435.5 244.6L438.0 243.1L440.5 241.6L443.0 240.2L445.5 238.7L448.0 237.2L450.5 235.7L452.9 234.2L455.4 232.8L457.9 231.3L460.3 229.8L462.7 228.4L465.2 226.9L467.6 225.5M538.4 283.6 L535.9 282.0L533.3 280.3L530.8 278.7L528.3 277.1L525.7 275.4L523.2 273.8L520.7 272.2L518.2 270.5L515.7 268.9L513.2 267.3L510.8 265.7L508.3 264.1L505.8 262.5L503.4 260.9L500.9 259.3L498.5 257.7L496.0 256.1L493.6 254.5L491.2 252.9L488.7 251.4L486.3 249.8L483.9 248.2L481.5 246.7L479.1 245.1L476.7 243.6L474.4 242.0L472.0 240.5L469.6 238.9L467.2 237.4L464.9 235.9L462.5 234.3L460.2 232.8L457.9 231.3L455.5 229.8L453.2 228.3L450.9 226.8L448.6 225.3L446.2 223.8M365.7 283.3 L368.4 281.7L371.0 280.1L373.7 278.5L376.4 276.9L379.0 275.4L381.7 273.8L384.3 272.2L386.9 270.6L389.6 269.1L392.2 267.5L394.8 266.0L397.4 264.4L400.0 262.9L402.6 261.3L405.2 259.8L407.8 258.2L410.3 256.7L412.9 255.2L415.5 253.6L418.0 252.1L420.6 250.6L423.1 249.1L425.6 247.6L428.2 246.1L430.7 244.6L433.2 243.1L435.7 241.6L438.2 240.1L440.7 238.6L443.2 237.1L445.7 235.7L448.1 234.2L450.6 232.7L453.1 231.2L455.5 229.8L458.0 228.3L460.4 226.9L462.8 225.4L465.3 224.0M540.9 282.0 L538.3 280.4L535.8 278.7L533.2 277.1L530.7 275.5L528.2 273.8L525.7 272.2L523.2 270.6L520.7 269.0L518.2 267.3L515.7 265.7L513.2 264.1L510.7 262.5L508.3 260.9L505.8 259.3L503.4 257.7L500.9 256.2L498.5 254.6L496.0 253.0L493.6 251.4L491.2 249.9L488.8 248.3L486.4 246.7L484.0 245.2L481.6 243.6L479.2 242.1L476.8 240.5L474.4 239.0L472.1 237.5L469.7 235.9L467.3 234.4L465.0 232.9L462.6 231.3L460.3 229.8L458.0 228.3L455.6 226.8L453.3 225.3L451.0 223.8L448.7 222.3M360.7 283.3 L363.4 281.7L366.0 280.1L368.7 278.5L371.4 276.9L374.0 275.3L376.7 273.7L379.4 272.2L382.0 270.6L384.6 269.0L387.3 267.5L389.9 265.9L392.5 264.3L395.1 262.8L397.7 261.3L400.3 259.7L402.9 258.2L405.4 256.6L408.0 255.1L410.6 253.6L413.1 252.1L415.7 250.6L418.2 249.0L420.8 247.5L423.3 246.0L425.8 244.5L428.4 243.0L430.9 241.5L433.4 240.0L435.9 238.6L438.4 237.1L440.9 235.6L443.3 234.1L445.8 232.7L448.3 231.2L450.7 229.7L453.2 228.3L455.6 226.8L458.1 225.4L460.5 223.9L462.9 222.5M545.8 282.1 L543.3 280.5L540.7 278.8L538.2 277.2L535.7 275.5L533.2 273.9L530.6 272.3L528.1 270.6L525.6 269.0L523.1 267.4L520.6 265.8L518.1 264.2L515.7 262.6L513.2 261.0L510.7 259.4L508.3 257.8L505.8 256.2L503.4 254.6L500.9 253.1L498.5 251.5L496.1 249.9L493.6 248.3L491.2 246.8L488.8 245.2L486.4 243.7L484.0 242.1L481.6 240.6L479.2 239.0L476.9 237.5L474.5 236.0L472.1 234.4L469.8 232.9L467.4 231.4L465.1 229.9L462.7 228.4L460.4 226.9L458.1 225.4L455.8 223.9L453.4 222.4L451.1 220.9M355.7 283.2 L358.4 281.6L361.1 280.0L363.7 278.4L366.4 276.8L369.1 275.2L371.7 273.7L374.4 272.1L377.0 270.5L379.7 269.0L382.3 267.4L384.9 265.8L387.6 264.3L390.2 262.7L392.8 261.2L395.4 259.7L398.0 258.1L400.6 256.6L403.1 255.1L405.7 253.5L408.3 252.0L410.8 250.5L413.4 249.0L415.9 247.5L418.5 246.0L421.0 244.5L423.5 243.0L426.0 241.5L428.5 240.0L431.1 238.5L433.6 237.0L436.0 235.5L438.5 234.1L441.0 232.6L443.5 231.1L446.0 229.7L448.4 228.2L450.9 226.8L453.3 225.3L455.8 223.9L458.2 222.4L460.6 221.0M550.8 282.2 L548.3 280.5L545.7 278.9L543.2 277.2L540.6 275.6L538.1 274.0L535.6 272.3L533.1 270.7L530.6 269.1L528.1 267.5L525.6 265.8L523.1 264.2L520.6 262.6L518.1 261.0L515.6 259.4L513.2 257.9L510.7 256.3L508.2 254.7L505.8 253.1L503.4 251.5L500.9 250.0L498.5 248.4L496.1 246.8L493.7 245.3L491.3 243.7L488.9 242.2L486.5 240.6L484.1 239.1L481.7 237.6L479.3 236.0L476.9 234.5L474.6 233.0L472.2 231.5L469.9 229.9L467.5 228.4L465.2 226.9L462.8 225.4L460.5 223.9L458.2 222.4L455.9 220.9L453.6 219.4M350.7 283.1 L353.4 281.5L356.1 279.9L358.7 278.4L361.4 276.8L364.1 275.2L366.8 273.6L369.4 272.0L372.1 270.5L374.7 268.9L377.4 267.3L380.0 265.8L382.6 264.2L385.3 262.7L387.9 261.1L390.5 259.6L393.1 258.1L395.7 256.5L398.2 255.0L400.8 253.5L403.4 252.0L406.0 250.4L408.5 248.9L411.1 247.4L413.6 245.9L416.1 244.4L418.7 242.9L421.2 241.4L423.7 239.9L426.2 238.5L428.7 237.0L431.2 235.5L433.7 234.0L436.2 232.5L438.7 231.1L441.2 229.6L443.6 228.2L446.1 226.7L448.6 225.3L451.0 223.8L453.4 222.4L455.9 220.9L458.3 219.5M555.8 282.2 L553.3 280.6L550.7 278.9L548.2 277.3L545.6 275.6L543.1 274.0L540.5 272.4L538.0 270.8L535.5 269.1L533.0 267.5L530.5 265.9L528.0 264.3L525.5 262.7L523.0 261.1L520.5 259.5L518.1 257.9L515.6 256.3L513.1 254.7L510.7 253.2L508.2 251.6L505.8 250.0L503.4 248.5L500.9 246.9L498.5 245.3L496.1 243.8L493.7 242.2L491.3 240.7L488.9 239.2L486.5 237.6L484.1 236.1L481.7 234.6L479.4 233.0L477.0 231.5L474.6 230.0L472.3 228.5L469.9 227.0L467.6 225.5L465.3 224.0L462.9 222.5L460.6 221.0L458.3 219.5L456.0 218.0M345.7 283.1 L348.4 281.5L351.1 279.9L353.8 278.3L356.5 276.7L359.1 275.1L361.8 273.6L364.5 272.0L367.1 270.4L369.8 268.8L372.4 267.3L375.1 265.7L377.7 264.2L380.3 262.6L383.0 261.1L385.6 259.5L388.2 258.0L390.8 256.5L393.4 254.9L395.9 253.4L398.5 251.9L401.1 250.4L403.7 248.9L406.2 247.4L408.8 245.9L411.3 244.4L413.8 242.9L416.4 241.4L418.9 239.9L421.4 238.4L423.9 236.9L426.4 235.4L428.9 234.0L431.4 232.5L433.9 231.0L436.4 229.6L438.9 228.1L441.3 226.7L443.8 225.2L446.2 223.8L448.7 222.3L451.1 220.9L453.6 219.4L456.0 218.0" stroke="#000" stroke-opacity="0.8" stroke-width="1.0" fill="none"/>
<polygon points="545.5,345.1 548.0,343.6 545.4,341.8 542.8,343.5" fill="#3b3be8"/>
<polygon points="634.6,342.6 637.0,341.0 634.2,339.2 631.7,341.0" fill="#3b3be8"/>
<polygon points="595.4,342.9 597.8,342.4 595.1,340.5 592.6,342.3" fill="#3a3be7"/>
<polygon points="550.9,342.1 553.3,343.6 550.6,341.8 548.0,343.6" fill="#393be6"/>
<polygon points="640.3,338.2 642.2,341.1 639.4,339.3 637.0,341.0" fill="#383be5"/>
<polygon points="601.0,339.1 603.1,342.4 600.3,340.6 597.8,342.4" fill="#373be5"/>
<polygon points="556.4,339.0 558.5,343.7 555.8,341.9 553.3,343.6" fill="#363ae4"/>
<polygon points="606.6,335.3 608.3,342.5 605.5,340.7 603.1,342.4" fill="#353ae2"/>
<polygon points="646.0,333.7 647.5,341.1 644.7,339.3 642.2,341.1" fill="#343ae2"/>
<polygon points="561.8,335.9 563.8,343.8 561.1,341.9 558.5,343.7" fill="#343ae2"/>
<polygon points="612.2,331.7 613.6,342.5 610.8,340.7 608.3,342.5" fill="#323ae0"/>
<polygon points="567.3,333.0 569.1,343.8 566.3,342.0 563.8,343.8" fill="#323ae0"/>
<polygon points="572.8,330.1 574.3,343.9 571.6,342.1 569.1,343.8" fill="#3039de"/>
<polygon points="617.8,328.2 618.8,342.6 616.0,340.8 613.6,342.5" fill="#2f39dd"/>
<polygon points="578.3,327.4 579.6,343.9 576.8,342.1 574.3,343.9" fill="#2e39dc"/>
<polygon points="623.4,324.9 624.1,342.7 621.3,340.8 618.8,342.6" fill="#2d39db"/>
<polygon points="583.8,324.9 584.8,344.0 582.1,342.2 579.6,343.9" fill="#2c39da"/>
<polygon points="629.0,322.0 629.3,342.7 626.5,340.9 624.1,342.7" fill="#2b39d9"/>
<polygon points="303.8,326.1 308.4,346.2 306.1,344.4 303.2,346.1" fill="#2b39da"/>
<polygon points="309.1,326.2 313.7,346.3 311.3,344.4 308.4,346.2" fill="#2b39da"/>
<polygon points="298.4,326.0 303.2,346.1 300.8,344.3 297.9,346.1" fill="#2b39da"/>
<polygon points="314.4,326.2 319.0,346.3 316.6,344.5 313.7,346.3" fill="#2b39da"/>
<polygon points="293.1,325.9 297.9,346.1 295.6,344.2 292.6,346.0" fill="#2b39d9"/>
<polygon points="319.7,326.2 324.2,346.4 321.9,344.5 319.0,346.3" fill="#2b39d9"/>
<polygon points="287.7,325.7 292.6,346.0 290.3,344.2 287.4,346.0" fill="#2b39d9"/>
<polygon points="325.1,326.2 329.5,346.4 327.1,344.6 324.2,346.4" fill="#2b39d9"/>
<polygon points="282.4,325.5 287.4,346.0 285.1,344.1 282.1,345.9" fill="#2b39d9"/>
<polygon points="330.4,326.1 334.8,346.5 332.4,344.7 329.5,346.4" fill="#2b39d9"/>
<polygon points="277.0,325.3 282.1,345.9 279.8,344.1 276.8,345.8" fill="#2b39d9"/>
<polygon points="589.3,322.7 590.1,344.1 587.3,342.2 584.8,344.0" fill="#2a39d8"/>
<polygon points="335.7,326.0 340.0,346.6 337.6,344.7 334.8,346.5" fill="#2b39d9"/>
<polygon points="271.7,325.0 276.8,345.8 274.5,344.0 271.6,345.8" fill="#2b39d9"/>
<polygon points="341.1,325.9 345.3,346.6 342.9,344.8 340.0,346.6" fill="#2b39d9"/>
<polygon points="266.3,324.7 271.6,345.8 269.3,343.9 266.3,345.7" fill="#2b39d9"/>
<polygon points="346.4,325.7 350.6,346.7 348.2,344.9 345.3,346.6" fill="#2b39d9"/>
<polygon points="261.0,324.3 266.3,345.7 264.0,343.9 261.1,345.6" fill="#2b39d9"/>
<polygon points="351.7,325.5 355.8,346.7 353.4,344.9 350.6,346.7" fill="#2b39d9"/>
<polygon points="255.6,324.0 261.1,345.6 258.8,343.8 255.8,345.6" fill="#2a39d9"/>
<polygon points="634.6,319.5 634.6,342.6 631.7,341.0 629.3,342.7" fill="#2939d7"/>
<polygon points="250.2,323.6 255.8,345.6 253.5,343.8 250.5,345.5" fill="#2a39d8"/>
<polygon points="544.1,322.7 545.5,345.1 542.8,343.5 540.2,345.3" fill="#2939d8"/>
<polygon points="244.9,323.1 250.5,345.5 248.3,343.7 245.3,345.5" fill="#2a39d8"/>
<polygon points="594.8,320.6 595.4,342.9 592.6,342.3 590.1,344.1" fill="#2838d6"/>
<polygon points="239.5,322.7 245.3,345.5 243.0,343.6 240.0,345.4" fill="#2a39d8"/>
<polygon points="549.5,321.2 550.9,342.1 548.0,343.6 545.5,345.1" fill="#2638d4"/>
<polygon points="640.2,317.1 640.3,338.2 637.0,341.0 634.6,342.6" fill="#2438d2"/>
<polygon points="600.3,318.7 601.0,339.1 597.8,342.4 595.4,342.9" fill="#2338d1"/>
<polygon points="554.9,319.7 556.4,339.0 553.3,343.6 550.9,342.1" fill="#2138cf"/>
<polygon points="645.8,314.9 646.0,333.7 642.2,341.1 640.3,338.2" fill="#1d38ca"/>
<polygon points="605.8,316.8 606.6,335.3 603.1,342.4 601.0,339.1" fill="#1d38cb"/>
<polygon points="560.4,318.3 561.8,335.9 558.5,343.7 556.4,339.0" fill="#1c38ca"/>
<polygon points="611.3,315.1 612.2,331.7 608.3,342.5 606.6,335.3" fill="#1737c4"/>
<polygon points="650.8,317.9 651.1,335.8 647.5,341.1 646.0,333.7" fill="#1d38cb"/>
<polygon points="565.8,316.9 567.3,333.0 563.8,343.8 561.8,335.9" fill="#1737c4"/>
<polygon points="616.8,313.4 617.8,328.2 613.6,342.5 612.2,331.7" fill="#1239be"/>
<polygon points="571.3,315.5 572.8,330.1 569.1,343.8 567.3,333.0" fill="#1338bf"/>
<polygon points="576.7,314.1 578.3,327.4 574.3,343.9 572.8,330.1" fill="#0f3ab9"/>
<polygon points="622.3,311.7 623.4,324.9 618.8,342.6 617.8,328.2" fill="#0e3bb7"/>
<polygon points="582.2,312.8 583.8,324.9 579.6,343.9 578.3,327.4" fill="#0e3db6"/>
<polygon points="627.9,310.1 629.0,322.0 624.1,342.7 623.4,324.9" fill="#0e40b4"/>
<polygon points="587.7,311.4 589.3,322.7 584.8,344.0 583.8,324.9" fill="#0d42b3"/>
<polygon points="633.4,308.4 634.6,319.5 629.3,342.7 629.0,322.0" fill="#0d45b1"/>
<polygon points="305.1,315.2 309.1,326.2 308.4,346.2 303.8,326.1" fill="#0e40b4"/>
<polygon points="310.5,315.3 314.4,326.2 313.7,346.3 309.1,326.2" fill="#0e40b4"/>
<polygon points="299.7,315.1 303.8,326.1 303.2,346.1 298.4,326.0" fill="#0e40b4"/>
<polygon points="294.4,315.0 298.4,326.0 297.9,346.1 293.1,325.9" fill="#0e40b4"/>
<polygon points="315.9,315.3 319.7,326.2 319.0,346.3 314.4,326.2" fill="#0e40b4"/>
<polygon points="289.0,314.8 293.1,325.9 292.6,346.0 287.7,325.7" fill="#0e40b4"/>
<polygon points="321.2,315.3 325.1,326.2 324.2,346.4 319.7,326.2" fill="#0e40b4"/>
<polygon points="326.6,315.3 330.4,326.1 329.5,346.4 325.1,326.2" fill="#0e40b4"/>
<polygon points="283.6,314.7 287.7,325.7 287.4,346.0 282.4,325.5" fill="#0e40b4"/>
<polygon points="278.2,314.5 282.4,325.5 282.1,345.9 277.0,325.3" fill="#0e40b4"/>
<polygon points="332.0,315.3 335.7,326.0 334.8,346.5 330.4,326.1" fill="#0e40b4"/>
<polygon points="593.2,310.0 594.8,320.6 590.1,344.1 589.3,322.7" fill="#0d45b1"/>
<polygon points="337.4,315.2 341.1,325.9 340.0,346.6 335.7,326.0" fill="#0e41b4"/>
<polygon points="272.8,314.2 277.0,325.3 276.8,345.8 271.7,325.0" fill="#0e41b4"/>
<polygon points="267.4,314.0 271.7,325.0 271.6,345.8 266.3,324.7" fill="#0e41b3"/>
<polygon points="342.7,315.2 346.4,325.7 345.3,346.6 341.1,325.9" fill="#0e41b4"/>
<polygon points="348.1,315.1 351.7,325.5 350.6,346.7 346.4,325.7" fill="#0d41b3"/>
<polygon points="262.0,313.7 266.3,324.7 266.3,345.7 261.0,324.3" fill="#0d42b3"/>
<polygon points="353.5,314.9 357.0,325.3 355.8,346.7 351.7,325.5" fill="#0d42b3"/>
<polygon points="256.6,313.4 261.0,324.3 261.1,345.6 255.6,324.0" fill="#0d42b3"/>
<polygon points="639.0,306.7 640.2,317.1 634.6,342.6 634.6,319.5" fill="#0d4aaf"/>
<polygon points="251.2,313.1 255.6,324.0 255.8,345.6 250.2,323.6" fill="#0d43b3"/>
<polygon points="547.5,311.1 549.5,321.2 545.5,345.1 544.1,322.7" fill="#0d47b0"/>
<polygon points="245.8,312.7 250.2,323.6 250.5,345.5 244.9,323.1" fill="#0d43b2"/>
<polygon points="598.7,308.5 600.3,318.7 595.4,342.9 594.8,320.6" fill="#0d4baf"/>
<polygon points="240.4,312.4 244.9,323.1 245.3,345.5 239.5,322.7" fill="#0d44b2"/>
<polygon points="553.0,309.9 554.9,319.7 550.9,342.1 549.5,321.2" fill="#0c4dae"/>
<polygon points="644.6,304.9 645.8,314.9 640.3,338.2 640.2,317.1" fill="#0c53ab"/>
<polygon points="604.2,307.0 605.8,316.8 601.0,339.1 600.3,318.7" fill="#0c52ab"/>
<polygon points="558.4,308.7 560.4,318.3 556.4,339.0 554.9,319.7" fill="#0c52ab"/>
<polygon points="649.8,306.9 650.8,317.9 646.0,333.7 645.8,314.9" fill="#0c54aa"/>
<polygon points="609.8,305.4 611.3,315.1 606.6,335.3 605.8,316.8" fill="#0b59a8"/>
<polygon points="563.9,307.4 565.8,316.9 561.8,335.9 560.4,318.3" fill="#0b58a8"/>
<polygon points="615.3,303.7 616.8,313.4 612.2,331.7 611.3,315.1" fill="#0b5fa4"/>
<polygon points="655.9,300.5 657.1,310.2 651.1,335.8 650.8,317.9" fill="#0b5ba6"/>
<polygon points="569.4,306.0 571.3,315.5 567.3,333.0 565.8,316.9" fill="#0b5da5"/>
<polygon points="620.9,302.1 622.3,311.7 617.8,328.2 616.8,313.4" fill="#0a65a1"/>
<polygon points="574.9,304.7 576.7,314.1 572.8,330.1 571.3,315.5" fill="#0b62a3"/>
<polygon points="580.4,303.3 582.2,312.8 578.3,327.4 576.7,314.1" fill="#0a67a0"/>
<polygon points="626.5,300.4 627.9,310.1 623.4,324.9 622.3,311.7" fill="#0a6b9e"/>
<polygon points="585.9,301.9 587.7,311.4 583.8,324.9 582.2,312.8" fill="#0a6c9e"/>
<polygon points="632.1,298.6 633.4,308.4 629.0,322.0 627.9,310.1" fill="#09719b"/>
<polygon points="591.5,300.4 593.2,310.0 589.3,322.7 587.7,311.4" fill="#09709b"/>
<polygon points="637.7,296.9 639.0,306.7 634.6,319.5 633.4,308.4" fill="#097698"/>
<polygon points="306.6,305.6 310.5,315.3 309.1,326.2 305.1,315.2" fill="#0a699f"/>
<polygon points="301.2,305.5 305.1,315.2 303.8,326.1 299.7,315.1" fill="#0a699f"/>
<polygon points="312.1,305.7 315.9,315.3 314.4,326.2 310.5,315.3" fill="#0a699f"/>
<polygon points="317.5,305.8 321.2,315.3 319.7,326.2 315.9,315.3" fill="#0a699f"/>
<polygon points="295.8,305.4 299.7,315.1 298.4,326.0 294.4,315.0" fill="#0a699f"/>
<polygon points="290.4,305.3 294.4,315.0 293.1,325.9 289.0,314.8" fill="#0a699f"/>
<polygon points="322.9,305.8 326.6,315.3 325.1,326.2 321.2,315.3" fill="#0a699f"/>
<polygon points="328.3,305.8 332.0,315.3 330.4,326.1 326.6,315.3" fill="#0a699f"/>
<polygon points="285.0,305.1 289.0,314.8 287.7,325.7 283.6,314.7" fill="#0a699f"/>
<polygon points="279.5,304.9 283.6,314.7 282.4,325.5 278.2,314.5" fill="#0a6a9f"/>
<polygon points="333.7,305.7 337.4,315.2 335.7,326.0 332.0,315.3" fill="#0a6a9f"/>
<polygon points="597.0,299.0 598.7,308.5 594.8,320.6 593.2,310.0" fill="#097599"/>
<polygon points="339.1,305.7 342.7,315.2 341.1,325.9 337.4,315.2" fill="#0a6a9e"/>
<polygon points="274.1,304.7 278.2,314.5 277.0,325.3 272.8,314.2" fill="#0a6a9e"/>
<polygon points="344.5,305.6 348.1,315.1 346.4,325.7 342.7,315.2" fill="#0a6b9e"/>
<polygon points="268.7,304.4 272.8,314.2 271.7,325.0 267.4,314.0" fill="#0a6b9e"/>
<polygon points="263.2,304.1 267.4,314.0 266.3,324.7 262.0,313.7" fill="#0a6b9e"/>
<polygon points="349.9,305.5 353.5,314.9 351.7,325.5 348.1,315.1" fill="#0a6b9e"/>
<polygon points="355.3,305.4 358.8,314.8 357.0,325.3 353.5,314.9" fill="#0a6c9e"/>
<polygon points="257.8,303.8 262.0,313.7 261.0,324.3 256.6,313.4" fill="#0a6c9e"/>
<polygon points="643.3,295.2 644.6,304.9 640.2,317.1 639.0,306.7" fill="#087b95"/>
<polygon points="252.4,303.5 256.6,313.4 255.6,324.0 251.2,313.1" fill="#0a6c9d"/>
<polygon points="550.9,300.6 553.0,309.9 549.5,321.2 547.5,311.1" fill="#097599"/>
<polygon points="246.9,303.2 251.2,313.1 250.2,323.6 245.8,312.7" fill="#0a6d9d"/>
<polygon points="602.6,297.5 604.2,307.0 600.3,318.7 598.7,308.5" fill="#097996"/>
<polygon points="241.5,302.8 245.8,312.7 244.9,323.1 240.4,312.4" fill="#0a6e9c"/>
<polygon points="556.4,299.4 558.4,308.7 554.9,319.7 553.0,309.9" fill="#097997"/>
<polygon points="648.6,296.4 649.8,306.9 645.8,314.9 644.6,304.9" fill="#087c95"/>
<polygon points="608.1,296.1 609.8,305.4 605.8,316.8 604.2,307.0" fill="#087e94"/>
<polygon points="561.9,298.3 563.9,307.4 560.4,318.3 558.4,308.7" fill="#087c95"/>
<polygon points="654.6,291.3 655.9,300.5 650.8,317.9 649.8,306.9" fill="#088092"/>
<polygon points="613.7,294.6 615.3,303.7 611.3,315.1 609.8,305.4" fill="#088291"/>
<polygon points="567.4,297.1 569.4,306.0 565.8,316.9 563.9,307.4" fill="#088093"/>
<polygon points="619.3,293.2 620.9,302.1 616.8,313.4 615.3,303.7" fill="#08838f"/>
<polygon points="660.3,289.3 661.6,298.1 657.1,310.2 655.9,300.5" fill="#07848b"/>
<polygon points="573.0,295.9 574.9,304.7 571.3,315.5 569.4,306.0" fill="#088291"/>
<polygon points="624.9,291.8 626.5,300.4 622.3,311.7 620.9,302.1" fill="#07848c"/>
<polygon points="578.5,294.8 580.4,303.3 576.7,314.1 574.9,304.7" fill="#08838f"/>
<polygon points="584.0,293.6 585.9,301.9 582.2,312.8 580.4,303.3" fill="#07848d"/>
<polygon points="630.5,290.3 632.1,298.6 627.9,310.1 626.5,300.4" fill="#07858a"/>
<polygon points="589.6,292.3 591.5,300.4 587.7,311.4 585.9,301.9" fill="#07848a"/>
<polygon points="636.1,288.9 637.7,296.9 633.4,308.4 632.1,298.6" fill="#078587"/>
<polygon points="595.2,291.1 597.0,299.0 593.2,310.0 591.5,300.4" fill="#078588"/>
<polygon points="641.7,287.4 643.3,295.2 639.0,306.7 637.7,296.9" fill="#068583"/>
<polygon points="308.3,297.5 312.1,305.7 310.5,315.3 306.6,305.6" fill="#08838f"/>
<polygon points="302.8,297.4 306.6,305.6 305.1,315.2 301.2,305.5" fill="#08838f"/>
<polygon points="313.7,297.6 317.5,305.8 315.9,315.3 312.1,305.7" fill="#08838f"/>
<polygon points="319.2,297.6 322.9,305.8 321.2,315.3 317.5,305.8" fill="#08838f"/>
<polygon points="297.4,297.3 301.2,305.5 299.7,315.1 295.8,305.4" fill="#08838f"/>
<polygon points="324.6,297.7 328.3,305.8 326.6,315.3 322.9,305.8" fill="#08838f"/>
<polygon points="291.9,297.1 295.8,305.4 294.4,315.0 290.4,305.3" fill="#08838f"/>
<polygon points="330.1,297.7 333.7,305.7 332.0,315.3 328.3,305.8" fill="#08838e"/>
<polygon points="286.5,297.0 290.4,305.3 289.0,314.8 285.0,305.1" fill="#08838e"/>
<polygon points="281.0,296.8 285.0,305.1 283.6,314.7 279.5,304.9" fill="#07838e"/>
<polygon points="335.5,297.7 339.1,305.7 337.4,315.2 333.7,305.7" fill="#07838e"/>
<polygon points="600.7,289.9 602.6,297.5 598.7,308.5 597.0,299.0" fill="#068686"/>
<polygon points="341.0,297.6 344.5,305.6 342.7,315.2 339.1,305.7" fill="#07838e"/>
<polygon points="275.6,296.6 279.5,304.9 278.2,314.5 274.1,304.7" fill="#07838e"/>
<polygon points="346.4,297.6 349.9,305.5 348.1,315.1 344.5,305.6" fill="#07838e"/>
<polygon points="270.1,296.4 274.1,304.7 272.8,314.2 268.7,304.4" fill="#07838e"/>
<polygon points="351.9,297.5 355.3,305.4 353.5,314.9 349.9,305.5" fill="#07838e"/>
<polygon points="264.6,296.1 268.7,304.4 267.4,314.0 263.2,304.1" fill="#07838e"/>
<polygon points="357.3,297.4 360.8,305.2 358.8,314.8 355.3,305.4" fill="#07838d"/>
<polygon points="259.2,295.9 263.2,304.1 262.0,313.7 257.8,303.8" fill="#07838d"/>
<polygon points="647.2,288.1 648.6,296.4 644.6,304.9 643.3,295.2" fill="#068481"/>
<polygon points="253.7,295.6 257.8,303.8 256.6,313.4 252.4,303.5" fill="#07838d"/>
<polygon points="554.2,292.1 556.4,299.4 553.0,309.9 550.9,300.6" fill="#078687"/>
<polygon points="248.2,295.3 252.4,303.5 251.2,313.1 246.9,303.2" fill="#07848d"/>
<polygon points="606.3,288.7 608.1,296.1 604.2,307.0 602.6,297.5" fill="#068481"/>
<polygon points="242.7,295.0 246.9,303.2 245.8,312.7 241.5,302.8" fill="#07848c"/>
<polygon points="559.8,291.1 561.9,298.3 558.4,308.7 556.4,299.4" fill="#068584"/>
<polygon points="653.1,284.2 654.6,291.3 649.8,306.9 648.6,296.4" fill="#07857e"/>
<polygon points="611.9,287.5 613.7,294.6 609.8,305.4 608.1,296.1" fill="#07857e"/>
<polygon points="565.3,290.2 567.4,297.1 563.9,307.4 561.9,298.3" fill="#068480"/>
<polygon points="658.7,282.6 660.3,289.3 655.9,300.5 654.6,291.3" fill="#088777"/>
<polygon points="617.5,286.4 619.3,293.2 615.3,303.7 613.7,294.6" fill="#07867b"/>
<polygon points="570.9,289.3 573.0,295.9 569.4,306.0 567.4,297.1" fill="#07857e"/>
<polygon points="623.1,285.3 624.9,291.8 620.9,302.1 619.3,293.2" fill="#078778"/>
<polygon points="664.5,280.7 666.0,286.9 661.6,298.1 660.3,289.3" fill="#088972"/>
<polygon points="576.4,288.4 578.5,294.8 574.9,304.7 573.0,295.9" fill="#07867c"/>
<polygon points="628.7,284.3 630.5,290.3 626.5,300.4 624.9,291.8" fill="#088876"/>
<polygon points="582.0,287.6 584.0,293.6 580.4,303.3 578.5,294.8" fill="#078679"/>
<polygon points="587.5,286.8 589.6,292.3 585.9,301.9 584.0,293.6" fill="#088777"/>
<polygon points="634.3,283.3 636.1,288.9 632.1,298.6 630.5,290.3" fill="#088973"/>
<polygon points="593.1,286.0 595.2,291.1 591.5,300.4 589.6,292.3" fill="#088874"/>
<polygon points="639.9,282.4 641.7,287.4 637.7,296.9 636.1,288.9" fill="#098970"/>
<polygon points="598.6,285.2 600.7,289.9 597.0,299.0 595.2,291.1" fill="#088972"/>
<polygon points="645.3,282.9 647.2,288.1 643.3,295.2 641.7,287.4" fill="#098a6f"/>
<polygon points="310.2,292.2 313.7,297.6 312.1,305.7 308.3,297.5" fill="#07857d"/>
<polygon points="315.7,292.3 319.2,297.6 317.5,305.8 313.7,297.6" fill="#07857d"/>
<polygon points="304.7,292.1 308.3,297.5 306.6,305.6 302.8,297.4" fill="#07857d"/>
<polygon points="321.2,292.4 324.6,297.7 322.9,305.8 319.2,297.6" fill="#07857d"/>
<polygon points="299.2,292.0 302.8,297.4 301.2,305.5 297.4,297.3" fill="#07857d"/>
<polygon points="326.6,292.4 330.1,297.7 328.3,305.8 324.6,297.7" fill="#07857d"/>
<polygon points="293.7,291.9 297.4,297.3 295.8,305.4 291.9,297.1" fill="#07857d"/>
<polygon points="332.1,292.4 335.5,297.7 333.7,305.7 330.1,297.7" fill="#07867d"/>
<polygon points="288.3,291.7 291.9,297.1 290.4,305.3 286.5,297.0" fill="#07867d"/>
<polygon points="282.8,291.5 286.5,297.0 285.0,305.1 281.0,296.8" fill="#07867c"/>
<polygon points="337.6,292.5 341.0,297.6 339.1,305.7 335.5,297.7" fill="#07867c"/>
<polygon points="604.2,284.4 606.3,288.7 602.6,297.5 600.7,289.9" fill="#098970"/>
<polygon points="343.1,292.5 346.4,297.6 344.5,305.6 341.0,297.6" fill="#07867c"/>
<polygon points="277.3,291.4 281.0,296.8 279.5,304.9 275.6,296.6" fill="#07867c"/>
<polygon points="348.5,292.4 351.9,297.5 349.9,305.5 346.4,297.6" fill="#07867c"/>
<polygon points="271.8,291.2 275.6,296.6 274.1,304.7 270.1,296.4" fill="#07867c"/>
<polygon points="354.0,292.4 357.3,297.4 355.3,305.4 351.9,297.5" fill="#07867c"/>
<polygon points="266.3,290.9 270.1,296.4 268.7,304.4 264.6,296.1" fill="#07867c"/>
<polygon points="359.5,292.3 362.8,297.3 360.8,305.2 357.3,297.4" fill="#07867b"/>
<polygon points="260.8,290.7 264.6,296.1 263.2,304.1 259.2,295.9" fill="#07867b"/>
<polygon points="651.1,280.4 653.1,284.2 648.6,296.4 647.2,288.1" fill="#098a6c"/>
<polygon points="255.3,290.5 259.2,295.9 257.8,303.8 253.7,295.6" fill="#07867b"/>
<polygon points="557.4,287.0 559.8,291.1 556.4,299.4 554.2,292.1" fill="#088972"/>
<polygon points="249.8,290.2 253.7,295.6 252.4,303.5 248.2,295.3" fill="#07867a"/>
<polygon points="609.8,283.6 611.9,287.5 608.1,296.1 606.3,288.7" fill="#098a6d"/>
<polygon points="244.3,289.9 248.2,295.3 246.9,303.2 242.7,295.0" fill="#07867a"/>
<polygon points="563.0,286.3 565.3,290.2 561.9,298.3 559.8,291.1" fill="#098970"/>
<polygon points="656.8,279.3 658.7,282.6 654.6,291.3 653.1,284.2" fill="#0a8c66"/>
<polygon points="615.4,282.9 617.5,286.4 613.7,294.6 611.9,287.5" fill="#0a8b6b"/>
<polygon points="568.5,285.7 570.9,289.3 567.4,297.1 565.3,290.2" fill="#098a6e"/>
<polygon points="662.5,278.0 664.5,280.7 660.3,289.3 658.7,282.6" fill="#0b8d62"/>
<polygon points="621.0,282.1 623.1,285.3 619.3,293.2 617.5,286.4" fill="#0a8c68"/>
<polygon points="574.1,285.1 576.4,288.4 573.0,295.9 570.9,289.3" fill="#098a6c"/>
<polygon points="626.6,281.4 628.7,284.3 624.9,291.8 623.1,285.3" fill="#0a8c66"/>
<polygon points="668.0,278.1 670.0,280.8 666.0,286.9 664.5,280.7" fill="#0b8e60"/>
<polygon points="579.7,284.5 582.0,287.6 578.5,294.8 576.4,288.4" fill="#0a8b6a"/>
<polygon points="632.2,280.7 634.3,283.3 630.5,290.3 628.7,284.3" fill="#0b8d63"/>
<polygon points="585.2,283.9 587.5,286.8 584.0,293.6 582.0,287.6" fill="#0a8c68"/>
<polygon points="590.8,283.2 593.1,286.0 589.6,292.3 587.5,286.8" fill="#0a8c66"/>
<polygon points="637.8,280.0 639.9,282.4 636.1,288.9 634.3,283.3" fill="#0b8d61"/>
<polygon points="596.4,282.6 598.6,285.2 595.2,291.1 593.1,286.0" fill="#0b8d64"/>
<polygon points="643.3,280.2 645.3,282.9 641.7,287.4 639.9,282.4" fill="#0b8e60"/>
<polygon points="601.9,282.0 604.2,284.4 600.7,289.9 598.6,285.2" fill="#0b8d62"/>
<polygon points="649.0,278.4 651.1,280.4 647.2,288.1 645.3,282.9" fill="#0b8e5e"/>
<polygon points="312.2,288.4 315.7,292.3 313.7,297.6 310.2,292.2" fill="#098a6e"/>
<polygon points="317.7,288.5 321.2,292.4 319.2,297.6 315.7,292.3" fill="#098a6e"/>
<polygon points="306.7,288.3 310.2,292.2 308.3,297.5 304.7,292.1" fill="#098a6e"/>
<polygon points="323.2,288.6 326.6,292.4 324.6,297.7 321.2,292.4" fill="#098a6e"/>
<polygon points="301.2,288.2 304.7,292.1 302.8,297.4 299.2,292.0" fill="#098a6e"/>
<polygon points="295.7,288.0 299.2,292.0 297.4,297.3 293.7,291.9" fill="#098a6e"/>
<polygon points="328.7,288.6 332.1,292.4 330.1,297.7 326.6,292.4" fill="#098a6e"/>
<polygon points="334.2,288.7 337.6,292.5 335.5,297.7 332.1,292.4" fill="#098a6e"/>
<polygon points="290.2,287.9 293.7,291.9 291.9,297.1 288.3,291.7" fill="#098a6e"/>
<polygon points="284.7,287.7 288.3,291.7 286.5,297.0 282.8,291.5" fill="#098a6e"/>
<polygon points="339.7,288.7 343.1,292.5 341.0,297.6 337.6,292.5" fill="#098a6e"/>
<polygon points="607.5,281.4 609.8,283.6 606.3,288.7 604.2,284.4" fill="#0b8e60"/>
<polygon points="345.2,288.7 348.5,292.4 346.4,297.6 343.1,292.5" fill="#098a6e"/>
<polygon points="279.2,287.5 282.8,291.5 281.0,296.8 277.3,291.4" fill="#098a6e"/>
<polygon points="350.7,288.7 354.0,292.4 351.9,297.5 348.5,292.4" fill="#098a6e"/>
<polygon points="273.7,287.3 277.3,291.4 275.6,296.6 271.8,291.2" fill="#098a6e"/>
<polygon points="268.2,287.1 271.8,291.2 270.1,296.4 266.3,290.9" fill="#098a6d"/>
<polygon points="356.3,288.7 359.5,292.3 357.3,297.4 354.0,292.4" fill="#098a6d"/>
<polygon points="361.8,288.7 365.0,292.3 362.8,297.3 359.5,292.3" fill="#098a6d"/>
<polygon points="262.7,286.9 266.3,290.9 264.6,296.1 260.8,290.7" fill="#098a6d"/>
<polygon points="654.6,277.5 656.8,279.3 653.1,284.2 651.1,280.4" fill="#0c9059"/>
<polygon points="257.1,286.7 260.8,290.7 259.2,295.9 255.3,290.5" fill="#098a6d"/>
<polygon points="560.6,283.9 563.0,286.3 559.8,291.1 557.4,287.0" fill="#0b8d63"/>
<polygon points="251.6,286.4 255.3,290.5 253.7,295.6 249.8,290.2" fill="#098a6c"/>
<polygon points="613.1,280.8 615.4,282.9 611.9,287.5 609.8,283.6" fill="#0b8e5e"/>
<polygon points="246.1,286.1 249.8,290.2 248.2,295.3 244.3,289.9" fill="#098a6c"/>
<polygon points="566.1,283.4 568.5,285.7 565.3,290.2 563.0,286.3" fill="#0b8d61"/>
<polygon points="660.3,276.4 662.5,278.0 658.7,282.6 656.8,279.3" fill="#0d9056"/>
<polygon points="618.7,280.1 621.0,282.1 617.5,286.4 615.4,282.9" fill="#0c8f5c"/>
<polygon points="571.7,282.8 574.1,285.1 570.9,289.3 568.5,285.7" fill="#0b8e60"/>
<polygon points="665.8,276.4 668.0,278.1 664.5,280.7 662.5,278.0" fill="#0d9155"/>
<polygon points="624.3,279.5 626.6,281.4 623.1,285.3 621.0,282.1" fill="#0c8f5a"/>
<polygon points="577.3,282.3 579.7,284.5 576.4,288.4 574.1,285.1" fill="#0b8e5e"/>
<polygon points="629.9,278.8 632.2,280.7 628.7,284.3 626.6,281.4" fill="#0c9058"/>
<polygon points="582.8,281.7 585.2,283.9 582.0,287.6 579.7,284.5" fill="#0c8f5d"/>
<polygon points="635.5,278.1 637.8,280.0 634.3,283.3 632.2,280.7" fill="#0d9056"/>
<polygon points="588.4,281.1 590.8,283.2 587.5,286.8 585.2,283.9" fill="#0c8f5b"/>
<polygon points="594.0,280.5 596.4,282.6 593.1,286.0 590.8,283.2" fill="#0c9059"/>
<polygon points="641.1,277.8 643.3,280.2 639.9,282.4 637.8,280.0" fill="#0d9155"/>
<polygon points="599.6,279.9 601.9,282.0 598.6,285.2 596.4,282.6" fill="#0c9058"/>
<polygon points="646.8,276.5 649.0,278.4 645.3,282.9 643.3,280.2" fill="#0d9154"/>
<polygon points="605.2,279.3 607.5,281.4 604.2,284.4 601.9,282.0" fill="#0d9056"/>
<polygon points="652.5,275.6 654.6,277.5 651.1,280.4 649.0,278.4" fill="#0d9250"/>
<polygon points="314.3,285.4 317.7,288.5 315.7,292.3 312.2,288.4" fill="#0b8d62"/>
<polygon points="319.9,285.5 323.2,288.6 321.2,292.4 317.7,288.5" fill="#0b8d62"/>
<polygon points="308.8,285.3 312.2,288.4 310.2,292.2 306.7,288.3" fill="#0b8d62"/>
<polygon points="303.3,285.2 306.7,288.3 304.7,292.1 301.2,288.2" fill="#0b8d62"/>
<polygon points="325.4,285.6 328.7,288.6 326.6,292.4 323.2,288.6" fill="#0b8d62"/>
<polygon points="297.8,285.0 301.2,288.2 299.2,292.0 295.7,288.0" fill="#0b8d62"/>
<polygon points="330.9,285.7 334.2,288.7 332.1,292.4 328.7,288.6" fill="#0b8d62"/>
<polygon points="336.4,285.7 339.7,288.7 337.6,292.5 334.2,288.7" fill="#0b8d62"/>
<polygon points="292.2,284.9 295.7,288.0 293.7,291.9 290.2,287.9" fill="#0b8d62"/>
<polygon points="286.7,284.7 290.2,287.9 288.3,291.7 284.7,287.7" fill="#0b8d62"/>
<polygon points="342.0,285.8 345.2,288.7 343.1,292.5 339.7,288.7" fill="#0b8d62"/>
<polygon points="610.8,278.6 613.1,280.8 609.8,283.6 607.5,281.4" fill="#0d9154"/>
<polygon points="347.5,285.8 350.7,288.7 348.5,292.4 345.2,288.7" fill="#0b8d62"/>
<polygon points="281.2,284.5 284.7,287.7 282.8,291.5 279.2,287.5" fill="#0b8d62"/>
<polygon points="275.6,284.3 279.2,287.5 277.3,291.4 273.7,287.3" fill="#0b8d62"/>
<polygon points="353.0,285.8 356.3,288.7 354.0,292.4 350.7,288.7" fill="#0b8d62"/>
<polygon points="358.5,285.8 361.8,288.7 359.5,292.3 356.3,288.7" fill="#0b8d62"/>
<polygon points="270.1,284.1 273.7,287.3 271.8,291.2 268.2,287.1" fill="#0b8d61"/>
<polygon points="364.1,285.8 367.3,288.6 365.0,292.3 361.8,288.7" fill="#0b8d61"/>
<polygon points="264.6,283.9 268.2,287.1 266.3,290.9 262.7,286.9" fill="#0b8e61"/>
<polygon points="658.2,274.5 660.3,276.4 656.8,279.3 654.6,277.5" fill="#0e934d"/>
<polygon points="259.0,283.7 262.7,286.9 260.8,290.7 257.1,286.7" fill="#0b8e61"/>
<polygon points="563.7,281.0 566.1,283.4 563.0,286.3 560.6,283.9" fill="#0c9058"/>
<polygon points="253.5,283.4 257.1,286.7 255.3,290.5 251.6,286.4" fill="#0b8e60"/>
<polygon points="616.5,277.9 618.7,280.1 615.4,282.9 613.1,280.8" fill="#0d9153"/>
<polygon points="248.0,283.2 251.6,286.4 249.8,290.2 246.1,286.1" fill="#0b8e60"/>
<polygon points="569.3,280.5 571.7,282.8 568.5,285.7 566.1,283.4" fill="#0d9056"/>
<polygon points="663.8,274.2 665.8,276.4 662.5,278.0 660.3,276.4" fill="#0e934b"/>
<polygon points="622.1,277.2 624.3,279.5 621.0,282.1 618.7,280.1" fill="#0d9251"/>
<polygon points="574.9,279.9 577.3,282.3 574.1,285.1 571.7,282.8" fill="#0d9155"/>
<polygon points="627.7,276.4 629.9,278.8 626.6,281.4 624.3,279.5" fill="#0e924f"/>
<polygon points="580.5,279.3 582.8,281.7 579.7,284.5 577.3,282.3" fill="#0d9153"/>
<polygon points="633.4,275.7 635.5,278.1 632.2,280.7 629.9,278.8" fill="#0e934d"/>
<polygon points="586.1,278.7 588.4,281.1 585.2,283.9 582.8,281.7" fill="#0d9252"/>
<polygon points="639.0,275.0 641.1,277.8 637.8,280.0 635.5,278.1" fill="#0e934b"/>
<polygon points="591.7,278.0 594.0,280.5 590.8,283.2 588.4,281.1" fill="#0d9250"/>
<polygon points="597.3,277.4 599.6,279.9 596.4,282.6 594.0,280.5" fill="#0e924e"/>
<polygon points="644.7,274.0 646.8,276.5 643.3,280.2 641.1,277.8" fill="#0e9449"/>
<polygon points="602.9,276.7 605.2,279.3 601.9,282.0 599.6,279.9" fill="#0e934c"/>
<polygon points="650.4,273.1 652.5,275.6 649.0,278.4 646.8,276.5" fill="#0f9545"/>
<polygon points="608.6,276.0 610.8,278.6 607.5,281.4 605.2,279.3" fill="#0e934a"/>
<polygon points="656.1,272.0 658.2,274.5 654.6,277.5 652.5,275.6" fill="#0f9541"/>
<polygon points="316.5,282.9 319.9,285.5 317.7,288.5 314.3,285.4" fill="#0c9058"/>
<polygon points="311.0,282.8 314.3,285.4 312.2,288.4 308.8,285.3" fill="#0c9058"/>
<polygon points="322.1,283.0 325.4,285.6 323.2,288.6 319.9,285.5" fill="#0c9058"/>
<polygon points="327.6,283.1 330.9,285.7 328.7,288.6 325.4,285.6" fill="#0c9058"/>
<polygon points="305.4,282.6 308.8,285.3 306.7,288.3 303.3,285.2" fill="#0c9058"/>
<polygon points="299.9,282.5 303.3,285.2 301.2,288.2 297.8,285.0" fill="#0c9058"/>
<polygon points="333.2,283.1 336.4,285.7 334.2,288.7 330.9,285.7" fill="#0c9058"/>
<polygon points="338.7,283.2 342.0,285.8 339.7,288.7 336.4,285.7" fill="#0c9058"/>
<polygon points="294.3,282.4 297.8,285.0 295.7,288.0 292.2,284.9" fill="#0c9058"/>
<polygon points="288.8,282.2 292.2,284.9 290.2,287.9 286.7,284.7" fill="#0c9057"/>
<polygon points="344.2,283.2 347.5,285.8 345.2,288.7 342.0,285.8" fill="#0c9058"/>
<polygon points="614.2,275.3 616.5,277.9 613.1,280.8 610.8,278.6" fill="#0e9447"/>
<polygon points="349.8,283.3 353.0,285.8 350.7,288.7 347.5,285.8" fill="#0c9058"/>
<polygon points="283.2,282.0 286.7,284.7 284.7,287.7 281.2,284.5" fill="#0c9057"/>
<polygon points="355.3,283.3 358.5,285.8 356.3,288.7 353.0,285.8" fill="#0c9057"/>
<polygon points="277.7,281.8 281.2,284.5 279.2,287.5 275.6,284.3" fill="#0c9057"/>
<polygon points="272.1,281.6 275.6,284.3 273.7,287.3 270.1,284.1" fill="#0c9057"/>
<polygon points="360.9,283.3 364.1,285.8 361.8,288.7 358.5,285.8" fill="#0c9057"/>
<polygon points="366.4,283.3 369.6,285.8 367.3,288.6 364.1,285.8" fill="#0c9057"/>
<polygon points="266.6,281.4 270.1,284.1 268.2,287.1 264.6,283.9" fill="#0d9056"/>
<polygon points="661.7,271.5 663.8,274.2 660.3,276.4 658.2,274.5" fill="#10963f"/>
<polygon points="261.0,281.2 264.6,283.9 262.7,286.9 259.0,283.7" fill="#0d9056"/>
<polygon points="566.8,278.0 569.3,280.5 566.1,283.4 563.7,281.0" fill="#0e934c"/>
<polygon points="255.4,280.9 259.0,283.7 257.1,286.7 253.5,283.4" fill="#0d9156"/>
<polygon points="619.9,274.6 622.1,277.2 618.7,280.1 616.5,277.9" fill="#0f9445"/>
<polygon points="249.9,280.7 253.5,283.4 251.6,286.4 248.0,283.2" fill="#0d9155"/>
<polygon points="572.5,277.4 574.9,279.9 571.7,282.8 569.3,280.5" fill="#0e934a"/>
<polygon points="625.5,273.8 627.7,276.4 624.3,279.5 622.1,277.2" fill="#0f9543"/>
<polygon points="578.1,276.8 580.5,279.3 577.3,282.3 574.9,279.9" fill="#0e9448"/>
<polygon points="631.2,273.0 633.4,275.7 629.9,278.8 627.7,276.4" fill="#0f9640"/>
<polygon points="583.7,276.2 586.1,278.7 582.8,281.7 580.5,279.3" fill="#0f9446"/>
<polygon points="636.9,272.3 639.0,275.0 635.5,278.1 633.4,275.7" fill="#10963e"/>
<polygon points="589.3,275.6 591.7,278.0 588.4,281.1 586.1,278.7" fill="#0f9544"/>
<polygon points="642.6,271.4 644.7,274.0 641.1,277.8 639.0,275.0" fill="#10973b"/>
<polygon points="595.0,274.9 597.3,277.4 594.0,280.5 591.7,278.0" fill="#0f9542"/>
<polygon points="600.6,274.3 602.9,276.7 599.6,279.9 597.3,277.4" fill="#0f963f"/>
<polygon points="648.2,270.6 650.4,273.1 646.8,276.5 644.7,274.0" fill="#109838"/>
<polygon points="606.3,273.6 608.6,276.0 605.2,279.3 602.9,276.7" fill="#10963d"/>
<polygon points="654.0,269.6 656.1,272.0 652.5,275.6 650.4,273.1" fill="#119935"/>
<polygon points="611.9,272.9 614.2,275.3 610.8,278.6 608.6,276.0" fill="#10973b"/>
<polygon points="659.6,269.0 661.7,271.5 658.2,274.5 656.1,272.0" fill="#119932"/>
<polygon points="318.7,280.8 322.1,283.0 319.9,285.5 316.5,282.9" fill="#0e934e"/>
<polygon points="313.2,280.7 316.5,282.9 314.3,285.4 311.0,282.8" fill="#0e934e"/>
<polygon points="324.3,280.9 327.6,283.1 325.4,285.6 322.1,283.0" fill="#0e934e"/>
<polygon points="329.9,280.9 333.2,283.1 330.9,285.7 327.6,283.1" fill="#0e934e"/>
<polygon points="307.6,280.5 311.0,282.8 308.8,285.3 305.4,282.6" fill="#0e934e"/>
<polygon points="335.4,281.0 338.7,283.2 336.4,285.7 333.2,283.1" fill="#0e934e"/>
<polygon points="302.0,280.4 305.4,282.6 303.3,285.2 299.9,282.5" fill="#0e934d"/>
<polygon points="341.0,281.1 344.2,283.2 342.0,285.8 338.7,283.2" fill="#0e934e"/>
<polygon points="296.5,280.2 299.9,282.5 297.8,285.0 294.3,282.4" fill="#0e934d"/>
<polygon points="290.9,280.1 294.3,282.4 292.2,284.9 288.8,282.2" fill="#0e934d"/>
<polygon points="346.6,281.1 349.8,283.3 347.5,285.8 344.2,283.2" fill="#0e934d"/>
<polygon points="617.6,272.3 619.9,274.6 616.5,277.9 614.2,275.3" fill="#109838"/>
<polygon points="352.1,281.2 355.3,283.3 353.0,285.8 349.8,283.3" fill="#0e934d"/>
<polygon points="285.3,279.9 288.8,282.2 286.7,284.7 283.2,282.0" fill="#0e934d"/>
<polygon points="357.7,281.2 360.9,283.3 358.5,285.8 355.3,283.3" fill="#0e934d"/>
<polygon points="279.7,279.7 283.2,282.0 281.2,284.5 277.7,281.8" fill="#0e934c"/>
<polygon points="363.3,281.2 366.4,283.3 364.1,285.8 360.9,283.3" fill="#0e934d"/>
<polygon points="274.2,279.5 277.7,281.8 275.6,284.3 272.1,281.6" fill="#0e934c"/>
<polygon points="368.8,281.2 372.0,283.2 369.6,285.8 366.4,283.3" fill="#0e934c"/>
<polygon points="268.6,279.3 272.1,281.6 270.1,284.1 266.6,281.4" fill="#0e934c"/>
<polygon points="263.0,279.1 266.6,281.4 264.6,283.9 261.0,281.2" fill="#0e934b"/>
<polygon points="570.0,275.3 572.5,277.4 569.3,280.5 566.8,278.0" fill="#10963d"/>
<polygon points="257.5,278.8 261.0,281.2 259.0,283.7 255.4,280.9" fill="#0e934b"/>
<polygon points="623.3,271.6 625.5,273.8 622.1,277.2 619.9,274.6" fill="#119836"/>
<polygon points="251.9,278.6 255.4,280.9 253.5,283.4 249.9,280.7" fill="#0e934a"/>
<polygon points="575.6,274.7 578.1,276.8 574.9,279.9 572.5,277.4" fill="#10973b"/>
<polygon points="629.0,270.9 631.2,273.0 627.7,276.4 625.5,273.8" fill="#119933"/>
<polygon points="581.3,274.2 583.7,276.2 580.5,279.3 578.1,276.8" fill="#109739"/>
<polygon points="634.6,270.2 636.9,272.3 633.4,275.7 631.2,273.0" fill="#119a31"/>
<polygon points="586.9,273.6 589.3,275.6 586.1,278.7 583.7,276.2" fill="#109837"/>
<polygon points="640.3,269.5 642.6,271.4 639.0,275.0 636.9,272.3" fill="#129a2e"/>
<polygon points="592.6,273.0 595.0,274.9 591.7,278.0 589.3,275.6" fill="#119935"/>
<polygon points="646.0,268.8 648.2,270.6 644.7,274.0 642.6,271.4" fill="#129b2b"/>
<polygon points="598.3,272.5 600.6,274.3 597.3,277.4 595.0,274.9" fill="#119933"/>
<polygon points="603.9,271.9 606.3,273.6 602.9,276.7 600.6,274.3" fill="#119a31"/>
<polygon points="651.7,268.0 654.0,269.6 650.4,273.1 648.2,270.6" fill="#129c28"/>
<polygon points="609.6,271.3 611.9,272.9 608.6,276.0 606.3,273.6" fill="#129a2e"/>
<polygon points="657.4,267.4 659.6,269.0 656.1,272.0 654.0,269.6" fill="#139c25"/>
<polygon points="615.3,270.8 617.6,272.3 614.2,275.3 611.9,272.9" fill="#129b2c"/>
<polygon points="321.0,279.1 324.3,280.9 322.1,283.0 318.7,280.8" fill="#0f9542"/>
<polygon points="326.6,279.2 329.9,280.9 327.6,283.1 324.3,280.9" fill="#0f9542"/>
<polygon points="315.4,278.9 318.7,280.8 316.5,282.9 313.2,280.7" fill="#0f9542"/>
<polygon points="332.2,279.2 335.4,281.0 333.2,283.1 329.9,280.9" fill="#0f9542"/>
<polygon points="309.8,278.8 313.2,280.7 311.0,282.8 307.6,280.5" fill="#0f9542"/>
<polygon points="337.7,279.3 341.0,281.1 338.7,283.2 335.4,281.0" fill="#0f9542"/>
<polygon points="304.2,278.7 307.6,280.5 305.4,282.6 302.0,280.4" fill="#0f9541"/>
<polygon points="343.3,279.4 346.6,281.1 344.2,283.2 341.0,281.1" fill="#0f9542"/>
<polygon points="298.6,278.5 302.0,280.4 299.9,282.5 296.5,280.2" fill="#0f9541"/>
<polygon points="293.1,278.4 296.5,280.2 294.3,282.4 290.9,280.1" fill="#0f9541"/>
<polygon points="348.9,279.4 352.1,281.2 349.8,283.3 346.6,281.1" fill="#0f9541"/>
<polygon points="620.9,270.2 623.3,271.6 619.9,274.6 617.6,272.3" fill="#129b29"/>
<polygon points="354.5,279.5 357.7,281.2 355.3,283.3 352.1,281.2" fill="#0f9541"/>
<polygon points="287.5,278.2 290.9,280.1 288.8,282.2 285.3,279.9" fill="#0f9641"/>
<polygon points="360.1,279.5 363.3,281.2 360.9,283.3 357.7,281.2" fill="#0f9541"/>
<polygon points="281.9,278.0 285.3,279.9 283.2,282.0 279.7,279.7" fill="#0f9641"/>
<polygon points="365.7,279.5 368.8,281.2 366.4,283.3 363.3,281.2" fill="#0f9641"/>
<polygon points="276.3,277.8 279.7,279.7 277.7,281.8 274.2,279.5" fill="#0f9640"/>
<polygon points="371.3,279.5 374.4,281.1 372.0,283.2 368.8,281.2" fill="#0f9640"/>
<polygon points="270.7,277.6 274.2,279.5 272.1,281.6 268.6,279.3" fill="#0f9640"/>
<polygon points="265.1,277.4 268.6,279.3 266.6,281.4 263.0,279.1" fill="#0f963f"/>
<polygon points="573.1,273.4 575.6,274.7 572.5,277.4 570.0,275.3" fill="#119a30"/>
<polygon points="259.5,277.1 263.0,279.1 261.0,281.2 257.5,278.8" fill="#10963f"/>
<polygon points="626.6,269.6 629.0,270.9 625.5,273.8 623.3,271.6" fill="#129c27"/>
<polygon points="253.9,276.9 257.5,278.8 255.4,280.9 251.9,278.6" fill="#10963f"/>
<polygon points="578.8,272.9 581.3,274.2 578.1,276.8 575.6,274.7" fill="#129a2e"/>
<polygon points="632.3,269.0 634.6,270.2 631.2,273.0 629.0,270.9" fill="#139d24"/>
<polygon points="584.5,272.4 586.9,273.6 583.7,276.2 581.3,274.2" fill="#129b2c"/>
<polygon points="638.0,268.4 640.3,269.5 636.9,272.3 634.6,270.2" fill="#139d22"/>
<polygon points="590.1,271.9 592.6,273.0 589.3,275.6 586.9,273.6" fill="#129b2a"/>
<polygon points="643.7,267.8 646.0,268.8 642.6,271.4 640.3,269.5" fill="#139e1f"/>
<polygon points="595.8,271.4 598.3,272.5 595.0,274.9 592.6,273.0" fill="#129c27"/>
<polygon points="649.4,267.1 651.7,268.0 648.2,270.6 646.0,268.8" fill="#159f1e"/>
<polygon points="601.5,270.9 603.9,271.9 600.6,274.3 598.3,272.5" fill="#139c25"/>
<polygon points="607.2,270.4 609.6,271.3 606.3,273.6 603.9,271.9" fill="#139d23"/>
<polygon points="655.1,266.5 657.4,267.4 654.0,269.6 651.7,268.0" fill="#179f1d"/>
<polygon points="612.8,269.8 615.3,270.8 611.9,272.9 609.6,271.3" fill="#139d21"/>
<polygon points="618.5,269.3 620.9,270.2 617.6,272.3 615.3,270.8" fill="#139e1f"/>
<polygon points="323.3,277.7 326.6,279.2 324.3,280.9 321.0,279.1" fill="#109837"/>
<polygon points="328.9,277.8 332.2,279.2 329.9,280.9 326.6,279.2" fill="#109837"/>
<polygon points="317.7,277.6 321.0,279.1 318.7,280.8 315.4,278.9" fill="#119837"/>
<polygon points="334.5,277.9 337.7,279.3 335.4,281.0 332.2,279.2" fill="#119837"/>
<polygon points="312.1,277.4 315.4,278.9 313.2,280.7 309.8,278.8" fill="#119837"/>
<polygon points="306.5,277.3 309.8,278.8 307.6,280.5 304.2,278.7" fill="#119837"/>
<polygon points="340.1,278.0 343.3,279.4 341.0,281.1 337.7,279.3" fill="#119837"/>
<polygon points="345.7,278.0 348.9,279.4 346.6,281.1 343.3,279.4" fill="#119837"/>
<polygon points="300.9,277.2 304.2,278.7 302.0,280.4 298.6,278.5" fill="#119836"/>
<polygon points="295.3,277.0 298.6,278.5 296.5,280.2 293.1,278.4" fill="#119836"/>
<polygon points="351.3,278.1 354.5,279.5 352.1,281.2 348.9,279.4" fill="#119837"/>
<polygon points="624.2,268.7 626.6,269.6 623.3,271.6 620.9,270.2" fill="#159f1e"/>
<polygon points="356.9,278.1 360.1,279.5 357.7,281.2 354.5,279.5" fill="#119836"/>
<polygon points="289.7,276.8 293.1,278.4 290.9,280.1 287.5,278.2" fill="#119836"/>
<polygon points="362.5,278.1 365.7,279.5 363.3,281.2 360.1,279.5" fill="#119836"/>
<polygon points="284.1,276.6 287.5,278.2 285.3,279.9 281.9,278.0" fill="#119836"/>
<polygon points="278.5,276.4 281.9,278.0 279.7,279.7 276.3,277.8" fill="#119835"/>
<polygon points="368.1,278.2 371.3,279.5 368.8,281.2 365.7,279.5" fill="#119836"/>
<polygon points="373.7,278.2 376.8,279.5 374.4,281.1 371.3,279.5" fill="#119836"/>
<polygon points="272.8,276.2 276.3,277.8 274.2,279.5 270.7,277.6" fill="#119935"/>
<polygon points="267.2,276.0 270.7,277.6 268.6,279.3 265.1,277.4" fill="#119935"/>
<polygon points="576.3,272.0 578.8,272.9 575.6,274.7 573.1,273.4" fill="#139d24"/>
<polygon points="261.6,275.8 265.1,277.4 263.0,279.1 259.5,277.1" fill="#119934"/>
<polygon points="629.9,268.2 632.3,269.0 629.0,270.9 626.6,269.6" fill="#179f1d"/>
<polygon points="256.0,275.5 259.5,277.1 257.5,278.8 253.9,276.9" fill="#119934"/>
<polygon points="581.9,271.6 584.5,272.4 581.3,274.2 578.8,272.9" fill="#139d22"/>
<polygon points="635.6,267.6 638.0,268.4 634.6,270.2 632.3,269.0" fill="#18a01d"/>
<polygon points="587.6,271.1 590.1,271.9 586.9,273.6 584.5,272.4" fill="#139e20"/>
<polygon points="641.4,267.1 643.7,267.8 640.3,269.5 638.0,268.4" fill="#1aa01c"/>
<polygon points="593.3,270.7 595.8,271.4 592.6,273.0 590.1,271.9" fill="#149e1e"/>
<polygon points="647.1,266.5 649.4,267.1 646.0,268.8 643.7,267.8" fill="#1ca11b"/>
<polygon points="599.0,270.2 601.5,270.9 598.3,272.5 595.8,271.4" fill="#159f1e"/>
<polygon points="652.8,265.9 655.1,266.5 651.7,268.0 649.4,267.1" fill="#1ea11b"/>
<polygon points="604.7,269.7 607.2,270.4 603.9,271.9 601.5,270.9" fill="#179f1d"/>
<polygon points="610.4,269.2 612.8,269.8 609.6,271.3 607.2,270.4" fill="#18a01d"/>
<polygon points="616.1,268.7 618.5,269.3 615.3,270.8 612.8,269.8" fill="#1aa01c"/>
<polygon points="621.8,268.2 624.2,268.7 620.9,270.2 618.5,269.3" fill="#1ca11b"/>
<polygon points="325.6,276.6 328.9,277.8 326.6,279.2 323.3,277.7" fill="#129b2d"/>
<polygon points="331.2,276.7 334.5,277.9 332.2,279.2 328.9,277.8" fill="#129b2d"/>
<polygon points="320.0,276.5 323.3,277.7 321.0,279.1 317.7,277.6" fill="#129b2d"/>
<polygon points="314.4,276.3 317.7,277.6 315.4,278.9 312.1,277.4" fill="#129b2d"/>
<polygon points="336.9,276.8 340.1,278.0 337.7,279.3 334.5,277.9" fill="#129b2d"/>
<polygon points="308.8,276.2 312.1,277.4 309.8,278.8 306.5,277.3" fill="#129b2c"/>
<polygon points="342.5,276.9 345.7,278.0 343.3,279.4 340.1,278.0" fill="#129b2d"/>
<polygon points="348.1,276.9 351.3,278.1 348.9,279.4 345.7,278.0" fill="#129b2d"/>
<polygon points="303.1,276.0 306.5,277.3 304.2,278.7 300.9,277.2" fill="#129b2c"/>
<polygon points="297.5,275.9 300.9,277.2 298.6,278.5 295.3,277.0" fill="#129b2c"/>
<polygon points="353.7,277.0 356.9,278.1 354.5,279.5 351.3,278.1" fill="#129b2d"/>
<polygon points="627.5,267.7 629.9,268.2 626.6,269.6 624.2,268.7" fill="#1da11b"/>
<polygon points="359.3,277.0 362.5,278.1 360.1,279.5 356.9,278.1" fill="#129b2c"/>
<polygon points="291.9,275.7 295.3,277.0 293.1,278.4 289.7,276.8" fill="#129b2c"/>
<polygon points="286.3,275.5 289.7,276.8 287.5,278.2 284.1,276.6" fill="#129b2c"/>
<polygon points="365.0,277.1 368.1,278.2 365.7,279.5 362.5,278.1" fill="#129b2c"/>
<polygon points="370.6,277.1 373.7,278.2 371.3,279.5 368.1,278.2" fill="#129b2c"/>
<polygon points="280.6,275.3 284.1,276.6 281.9,278.0 278.5,276.4" fill="#129b2b"/>
<polygon points="376.2,277.1 379.3,278.2 376.8,279.5 373.7,278.2" fill="#129b2c"/>
<polygon points="275.0,275.1 278.5,276.4 276.3,277.8 272.8,276.2" fill="#129b2b"/>
<polygon points="269.4,274.9 272.8,276.2 270.7,277.6 267.2,276.0" fill="#129b2a"/>
<polygon points="579.4,271.0 581.9,271.6 578.8,272.9 576.3,272.0" fill="#189f1d"/>
<polygon points="263.8,274.6 267.2,276.0 265.1,277.4 261.6,275.8" fill="#129b2a"/>
<polygon points="633.2,267.2 635.6,267.6 632.3,269.0 629.9,268.2" fill="#1fa21a"/>
<polygon points="258.1,274.4 261.6,275.8 259.5,277.1 256.0,275.5" fill="#129b2a"/>
<polygon points="585.1,270.6 587.6,271.1 584.5,272.4 581.9,271.6" fill="#19a01c"/>
<polygon points="638.9,266.7 641.4,267.1 638.0,268.4 635.6,267.6" fill="#20a21a"/>
<polygon points="590.8,270.2 593.3,270.7 590.1,271.9 587.6,271.1" fill="#1aa01c"/>
<polygon points="644.7,266.2 647.1,266.5 643.7,267.8 641.4,267.1" fill="#22a319"/>
<polygon points="596.5,269.8 599.0,270.2 595.8,271.4 593.3,270.7" fill="#1ca11b"/>
<polygon points="650.4,265.6 652.8,265.9 649.4,267.1 647.1,266.5" fill="#24a318"/>
<polygon points="602.2,269.3 604.7,269.7 601.5,270.9 599.0,270.2" fill="#1da11b"/>
<polygon points="607.9,268.9 610.4,269.2 607.2,270.4 604.7,269.7" fill="#1fa21a"/>
<polygon points="613.6,268.4 616.1,268.7 612.8,269.8 610.4,269.2" fill="#20a21a"/>
<polygon points="619.3,268.0 621.8,268.2 618.5,269.3 616.1,268.7" fill="#21a319"/>
<polygon points="625.0,267.5 627.5,267.7 624.2,268.7 621.8,268.2" fill="#23a319"/>
<polygon points="328.0,275.7 331.2,276.7 328.9,277.8 325.6,276.6" fill="#139d23"/>
<polygon points="322.4,275.6 325.6,276.6 323.3,277.7 320.0,276.5" fill="#139d23"/>
<polygon points="333.6,275.8 336.9,276.8 334.5,277.9 331.2,276.7" fill="#139d23"/>
<polygon points="339.3,275.9 342.5,276.9 340.1,278.0 336.9,276.8" fill="#139d23"/>
<polygon points="316.7,275.4 320.0,276.5 317.7,277.6 314.4,276.3" fill="#139d23"/>
<polygon points="311.1,275.3 314.4,276.3 312.1,277.4 308.8,276.2" fill="#139d23"/>
<polygon points="344.9,276.0 348.1,276.9 345.7,278.0 342.5,276.9" fill="#139d23"/>
<polygon points="350.5,276.1 353.7,277.0 351.3,278.1 348.1,276.9" fill="#139d23"/>
<polygon points="305.4,275.1 308.8,276.2 306.5,277.3 303.1,276.0" fill="#139d23"/>
<polygon points="299.8,275.0 303.1,276.0 300.9,277.2 297.5,275.9" fill="#139d23"/>
<polygon points="356.2,276.1 359.3,277.0 356.9,278.1 353.7,277.0" fill="#139d23"/>
<polygon points="630.8,267.1 633.2,267.2 629.9,268.2 627.5,267.7" fill="#25a318"/>
<polygon points="361.8,276.2 365.0,277.1 362.5,278.1 359.3,277.0" fill="#139d23"/>
<polygon points="294.2,274.8 297.5,275.9 295.3,277.0 291.9,275.7" fill="#139d22"/>
<polygon points="367.5,276.2 370.6,277.1 368.1,278.2 365.0,277.1" fill="#139d23"/>
<polygon points="288.5,274.6 291.9,275.7 289.7,276.8 286.3,275.5" fill="#139d22"/>
<polygon points="282.9,274.4 286.3,275.5 284.1,276.6 280.6,275.3" fill="#139d22"/>
<polygon points="373.1,276.3 376.2,277.1 373.7,278.2 370.6,277.1" fill="#139d23"/>
<polygon points="378.7,276.3 381.8,277.1 379.3,278.2 376.2,277.1" fill="#139d22"/>
<polygon points="277.2,274.2 280.6,275.3 278.5,276.4 275.0,275.1" fill="#139d21"/>
<polygon points="271.6,274.0 275.0,275.1 272.8,276.2 269.4,274.9" fill="#139d21"/>
<polygon points="582.5,270.4 585.1,270.6 581.9,271.6 579.4,271.0" fill="#1fa21a"/>
<polygon points="265.9,273.7 269.4,274.9 267.2,276.0 263.8,274.6" fill="#139e21"/>
<polygon points="636.5,266.6 638.9,266.7 635.6,267.6 633.2,267.2" fill="#26a417"/>
<polygon points="260.3,273.5 263.8,274.6 261.6,275.8 258.1,274.4" fill="#139e20"/>
<polygon points="588.2,270.0 590.8,270.2 587.6,271.1 585.1,270.6" fill="#20a21a"/>
<polygon points="642.2,266.1 644.7,266.2 641.4,267.1 638.9,266.7" fill="#28a417"/>
<polygon points="593.9,269.6 596.5,269.8 593.3,270.7 590.8,270.2" fill="#21a219"/>
<polygon points="648.0,265.7 650.4,265.6 647.1,266.5 644.7,266.2" fill="#2aa517"/>
<polygon points="599.6,269.2 602.2,269.3 599.0,270.2 596.5,269.8" fill="#23a319"/>
<polygon points="605.4,268.8 607.9,268.9 604.7,269.7 602.2,269.3" fill="#24a318"/>
<polygon points="611.1,268.4 613.6,268.4 610.4,269.2 607.9,268.9" fill="#25a418"/>
<polygon points="616.8,268.0 619.3,268.0 616.1,268.7 613.6,268.4" fill="#27a417"/>
<polygon points="622.5,267.6 625.0,267.5 621.8,268.2 619.3,268.0" fill="#28a517"/>
<polygon points="628.3,267.2 630.8,267.1 627.5,267.7 625.0,267.5" fill="#2aa517"/>
<polygon points="330.4,275.1 333.6,275.8 331.2,276.7 328.0,275.7" fill="#169f1d"/>
<polygon points="324.7,275.0 328.0,275.7 325.6,276.6 322.4,275.6" fill="#169f1d"/>
<polygon points="336.0,275.2 339.3,275.9 336.9,276.8 333.6,275.8" fill="#169f1d"/>
<polygon points="341.7,275.3 344.9,276.0 342.5,276.9 339.3,275.9" fill="#169f1d"/>
<polygon points="319.1,274.8 322.4,275.6 320.0,276.5 316.7,275.4" fill="#179f1d"/>
<polygon points="347.3,275.4 350.5,276.1 348.1,276.9 344.9,276.0" fill="#169f1d"/>
<polygon points="313.4,274.7 316.7,275.4 314.4,276.3 311.1,275.3" fill="#179f1d"/>
<polygon points="353.0,275.5 356.2,276.1 353.7,277.0 350.5,276.1" fill="#169f1d"/>
<polygon points="307.8,274.5 311.1,275.3 308.8,276.2 305.4,275.1" fill="#179f1d"/>
<polygon points="302.1,274.4 305.4,275.1 303.1,276.0 299.8,275.0" fill="#179f1d"/>
<polygon points="358.7,275.6 361.8,276.2 359.3,277.0 356.2,276.1" fill="#179f1d"/>
<polygon points="634.0,266.7 636.5,266.6 633.2,267.2 630.8,267.1" fill="#2ca517"/>
<polygon points="364.3,275.6 367.5,276.2 365.0,277.1 361.8,276.2" fill="#179f1d"/>
<polygon points="296.5,274.2 299.8,275.0 297.5,275.9 294.2,274.8" fill="#179f1d"/>
<polygon points="370.0,275.7 373.1,276.3 370.6,277.1 367.5,276.2" fill="#179f1d"/>
<polygon points="290.8,274.0 294.2,274.8 291.9,275.7 288.5,274.6" fill="#179f1d"/>
<polygon points="375.6,275.7 378.7,276.3 376.2,277.1 373.1,276.3" fill="#179f1d"/>
<polygon points="285.1,273.8 288.5,274.6 286.3,275.5 282.9,274.4" fill="#189f1d"/>
<polygon points="381.3,275.8 384.4,276.3 381.8,277.1 378.7,276.3" fill="#179f1d"/>
<polygon points="279.5,273.6 282.9,274.4 280.6,275.3 277.2,274.2" fill="#18a01d"/>
<polygon points="273.8,273.4 277.2,274.2 275.0,275.1 271.6,274.0" fill="#18a01d"/>
<polygon points="585.6,270.0 588.2,270.0 585.1,270.6 582.5,270.4" fill="#25a418"/>
<polygon points="268.2,273.1 271.6,274.0 269.4,274.9 265.9,273.7" fill="#19a01c"/>
<polygon points="639.8,266.3 642.2,266.1 638.9,266.7 636.5,266.6" fill="#2ea618"/>
<polygon points="262.5,272.9 265.9,273.7 263.8,274.6 260.3,273.5" fill="#19a01c"/>
<polygon points="591.3,269.7 593.9,269.6 590.8,270.2 588.2,270.0" fill="#26a417"/>
<polygon points="645.5,265.8 648.0,265.7 644.7,266.2 642.2,266.1" fill="#30a618"/>
<polygon points="597.1,269.3 599.6,269.2 596.5,269.8 593.9,269.6" fill="#28a417"/>
<polygon points="602.8,268.9 605.4,268.8 602.2,269.3 599.6,269.2" fill="#29a517"/>
<polygon points="608.5,268.5 611.1,268.4 607.9,268.9 605.4,268.8" fill="#2ba517"/>
<polygon points="614.3,268.1 616.8,268.0 613.6,268.4 611.1,268.4" fill="#2da618"/>
<polygon points="620.0,267.7 622.5,267.6 619.3,268.0 616.8,268.0" fill="#2ea618"/>
<polygon points="625.8,267.3 628.3,267.2 625.0,267.5 622.5,267.6" fill="#30a618"/>
<polygon points="631.5,266.9 634.0,266.7 630.8,267.1 628.3,267.2" fill="#32a718"/>
<polygon points="332.8,274.9 336.0,275.2 333.6,275.8 330.4,275.1" fill="#1ca11b"/>
<polygon points="338.5,275.0 341.7,275.3 339.3,275.9 336.0,275.2" fill="#1ca11b"/>
<polygon points="327.2,274.8 330.4,275.1 328.0,275.7 324.7,275.0" fill="#1ca11b"/>
<polygon points="344.2,275.2 347.3,275.4 344.9,276.0 341.7,275.3" fill="#1ca11b"/>
<polygon points="321.5,274.7 324.7,275.0 322.4,275.6 319.1,274.8" fill="#1da11b"/>
<polygon points="349.8,275.3 353.0,275.5 350.5,276.1 347.3,275.4" fill="#1ca11b"/>
<polygon points="315.8,274.5 319.1,274.8 316.7,275.4 313.4,274.7" fill="#1da11b"/>
<polygon points="355.5,275.3 358.7,275.6 356.2,276.1 353.0,275.5" fill="#1ca11b"/>
<polygon points="310.1,274.4 313.4,274.7 311.1,275.3 307.8,274.5" fill="#1da11b"/>
<polygon points="304.5,274.2 307.8,274.5 305.4,275.1 302.1,274.4" fill="#1da11b"/>
<polygon points="361.2,275.4 364.3,275.6 361.8,276.2 358.7,275.6" fill="#1ca11b"/>
<polygon points="637.3,266.5 639.8,266.3 636.5,266.6 634.0,266.7" fill="#33a718"/>
<polygon points="366.8,275.5 370.0,275.7 367.5,276.2 364.3,275.6" fill="#1da11b"/>
<polygon points="298.8,274.0 302.1,274.4 299.8,275.0 296.5,274.2" fill="#1da11b"/>
<polygon points="372.5,275.5 375.6,275.7 373.1,276.3 370.0,275.7" fill="#1da11b"/>
<polygon points="293.1,273.8 296.5,274.2 294.2,274.8 290.8,274.0" fill="#1da11b"/>
<polygon points="378.2,275.6 381.3,275.8 378.7,276.3 375.6,275.7" fill="#1da11b"/>
<polygon points="287.5,273.6 290.8,274.0 288.5,274.6 285.1,273.8" fill="#1ea11b"/>
<polygon points="383.8,275.6 386.9,275.8 384.4,276.3 381.3,275.8" fill="#1da11b"/>
<polygon points="281.8,273.4 285.1,273.8 282.9,274.4 279.5,273.6" fill="#1ea11a"/>
<polygon points="276.1,273.2 279.5,273.6 277.2,274.2 273.8,273.4" fill="#1ea21a"/>
<polygon points="588.7,269.8 591.3,269.7 588.2,270.0 585.6,270.0" fill="#2ca517"/>
<polygon points="270.5,273.0 273.8,273.4 271.6,274.0 268.2,273.1" fill="#1fa21a"/>
<polygon points="643.0,266.0 645.5,265.8 642.2,266.1 639.8,266.3" fill="#35a819"/>
<polygon points="264.8,272.7 268.2,273.1 265.9,273.7 262.5,272.9" fill="#1fa21a"/>
<polygon points="594.5,269.5 597.1,269.3 593.9,269.6 591.3,269.7" fill="#2da618"/>
<polygon points="600.2,269.1 602.8,268.9 599.6,269.2 597.1,269.3" fill="#2fa618"/>
<polygon points="606.0,268.7 608.5,268.5 605.4,268.8 602.8,268.9" fill="#31a718"/>
<polygon points="611.7,268.3 614.3,268.1 611.1,268.4 608.5,268.5" fill="#32a718"/>
<polygon points="617.5,267.9 620.0,267.7 616.8,268.0 614.3,268.1" fill="#34a718"/>
<polygon points="623.2,267.5 625.8,267.3 622.5,267.6 620.0,267.7" fill="#35a819"/>
<polygon points="629.0,267.1 631.5,266.9 628.3,267.2 625.8,267.3" fill="#37a819"/>
<polygon points="634.8,266.7 637.3,266.5 634.0,266.7 631.5,266.9" fill="#38a819"/>
<polygon points="335.3,274.9 338.5,275.0 336.0,275.2 332.8,274.9" fill="#22a319"/>
<polygon points="341.0,275.0 344.2,275.2 341.7,275.3 338.5,275.0" fill="#22a319"/>
<polygon points="329.6,274.7 332.8,274.9 330.4,275.1 327.2,274.8" fill="#22a319"/>
<polygon points="346.6,275.1 349.8,275.3 347.3,275.4 344.2,275.2" fill="#22a319"/>
<polygon points="323.9,274.6 327.2,274.8 324.7,275.0 321.5,274.7" fill="#22a319"/>
<polygon points="318.2,274.4 321.5,274.7 319.1,274.8 315.8,274.5" fill="#22a319"/>
<polygon points="352.3,275.2 355.5,275.3 353.0,275.5 349.8,275.3" fill="#22a319"/>
<polygon points="358.0,275.3 361.2,275.4 358.7,275.6 355.5,275.3" fill="#22a319"/>
<polygon points="312.5,274.3 315.8,274.5 313.4,274.7 310.1,274.4" fill="#22a319"/>
<polygon points="306.9,274.1 310.1,274.4 307.8,274.5 304.5,274.2" fill="#22a319"/>
<polygon points="363.7,275.4 366.8,275.5 364.3,275.6 361.2,275.4" fill="#22a319"/>
<polygon points="640.5,266.2 643.0,266.0 639.8,266.3 637.3,266.5" fill="#3aa819"/>
<polygon points="369.4,275.4 372.5,275.5 370.0,275.7 366.8,275.5" fill="#22a319"/>
<polygon points="301.2,273.9 304.5,274.2 302.1,274.4 298.8,274.0" fill="#23a319"/>
<polygon points="375.1,275.5 378.2,275.6 375.6,275.7 372.5,275.5" fill="#22a319"/>
<polygon points="295.5,273.7 298.8,274.0 296.5,274.2 293.1,273.8" fill="#23a319"/>
<polygon points="289.8,273.5 293.1,273.8 290.8,274.0 287.5,273.6" fill="#23a318"/>
<polygon points="380.7,275.5 383.8,275.6 381.3,275.8 378.2,275.6" fill="#22a319"/>
<polygon points="386.4,275.6 389.5,275.6 386.9,275.8 383.8,275.6" fill="#22a319"/>
<polygon points="284.1,273.3 287.5,273.6 285.1,273.8 281.8,273.4" fill="#23a318"/>
<polygon points="278.4,273.1 281.8,273.4 279.5,273.6 276.1,273.2" fill="#24a318"/>
<polygon points="591.9,269.6 594.5,269.5 591.3,269.7 588.7,269.8" fill="#33a718"/>
<polygon points="272.7,272.9 276.1,273.2 273.8,273.4 270.5,273.0" fill="#24a318"/>
<polygon points="267.1,272.6 270.5,273.0 268.2,273.1 264.8,272.7" fill="#24a318"/>
<polygon points="597.6,269.3 600.2,269.1 597.1,269.3 594.5,269.5" fill="#34a719"/>
<polygon points="603.4,268.9 606.0,268.7 602.8,268.9 600.2,269.1" fill="#36a819"/>
<polygon points="609.2,268.5 611.7,268.3 608.5,268.5 606.0,268.7" fill="#37a819"/>
<polygon points="614.9,268.1 617.5,267.9 614.3,268.1 611.7,268.3" fill="#39a819"/>
<polygon points="620.7,267.7 623.2,267.5 620.0,267.7 617.5,267.9" fill="#3aa819"/>
<polygon points="626.5,267.3 629.0,267.1 625.8,267.3 623.2,267.5" fill="#3ca819"/>
<polygon points="632.3,266.9 634.8,266.7 631.5,266.9 629.0,267.1" fill="#3da819"/>
<polygon points="638.0,266.5 640.5,266.2 637.3,266.5 634.8,266.7" fill="#3ea819"/>
<polygon points="337.7,274.8 341.0,275.0 338.5,275.0 335.3,274.9" fill="#27a417"/>
<polygon points="343.4,274.9 346.6,275.1 344.2,275.2 341.0,275.0" fill="#27a417"/>
<polygon points="332.1,274.7 335.3,274.9 332.8,274.9 329.6,274.7" fill="#27a417"/>
<polygon points="326.4,274.5 329.6,274.7 327.2,274.8 323.9,274.6" fill="#27a417"/>
<polygon points="349.1,275.1 352.3,275.2 349.8,275.3 346.6,275.1" fill="#27a417"/>
<polygon points="320.7,274.4 323.9,274.6 321.5,274.7 318.2,274.4" fill="#27a417"/>
<polygon points="354.8,275.2 358.0,275.3 355.5,275.3 352.3,275.2" fill="#27a417"/>
<polygon points="360.5,275.2 363.7,275.4 361.2,275.4 358.0,275.3" fill="#27a417"/>
<polygon points="315.0,274.2 318.2,274.4 315.8,274.5 312.5,274.3" fill="#27a417"/>
<polygon points="309.3,274.0 312.5,274.3 310.1,274.4 306.9,274.1" fill="#27a417"/>
<polygon points="366.2,275.3 369.4,275.4 366.8,275.5 363.7,275.4" fill="#27a417"/>
<polygon points="371.9,275.4 375.1,275.5 372.5,275.5 369.4,275.4" fill="#27a417"/>
<polygon points="303.6,273.9 306.9,274.1 304.5,274.2 301.2,273.9" fill="#28a417"/>
<polygon points="297.9,273.7 301.2,273.9 298.8,274.0 295.5,273.7" fill="#28a417"/>
<polygon points="377.6,275.5 380.7,275.5 378.2,275.6 375.1,275.5" fill="#27a417"/>
<polygon points="292.2,273.5 295.5,273.7 293.1,273.8 289.8,273.5" fill="#28a517"/>
<polygon points="383.3,275.5 386.4,275.6 383.8,275.6 380.7,275.5" fill="#27a417"/>
<polygon points="389.0,275.5 392.1,275.6 389.5,275.6 386.4,275.6" fill="#27a417"/>
<polygon points="286.5,273.2 289.8,273.5 287.5,273.6 284.1,273.3" fill="#29a517"/>
<polygon points="280.8,273.0 284.1,273.3 281.8,273.4 278.4,273.1" fill="#29a517"/>
<polygon points="595.0,269.5 597.6,269.3 594.5,269.5 591.9,269.6" fill="#39a819"/>
<polygon points="275.1,272.8 278.4,273.1 276.1,273.2 272.7,272.9" fill="#2aa517"/>
<polygon points="269.4,272.5 272.7,272.9 270.5,273.0 267.1,272.6" fill="#2aa517"/>
<polygon points="600.8,269.2 603.4,268.9 600.2,269.1 597.6,269.3" fill="#3ba819"/>
<polygon points="606.6,268.8 609.2,268.5 606.0,268.7 603.4,268.9" fill="#3ca819"/>
<polygon points="612.4,268.4 614.9,268.1 611.7,268.3 609.2,268.5" fill="#3da819"/>
<polygon points="618.1,268.0 620.7,267.7 617.5,267.9 614.9,268.1" fill="#3fa819"/>
<polygon points="623.9,267.6 626.5,267.3 623.2,267.5 620.7,267.7" fill="#40a819"/>
<polygon points="629.7,267.2 632.3,266.9 629.0,267.1 626.5,267.3" fill="#41a819"/>
<polygon points="635.5,266.8 638.0,266.5 634.8,266.7 632.3,266.9" fill="#43a819"/>
<polygon points="340.2,275.0 343.4,274.9 341.0,275.0 337.7,274.8" fill="#2da618"/>
<polygon points="334.5,274.8 337.7,274.8 335.3,274.9 332.1,274.7" fill="#2da618"/>
<polygon points="346.0,275.1 349.1,275.1 346.6,275.1 343.4,274.9" fill="#2da618"/>
<polygon points="351.7,275.2 354.8,275.2 352.3,275.2 349.1,275.1" fill="#2da618"/>
<polygon points="328.8,274.7 332.1,274.7 329.6,274.7 326.4,274.5" fill="#2da618"/>
<polygon points="323.1,274.6 326.4,274.5 323.9,274.6 320.7,274.4" fill="#2da618"/>
<polygon points="357.4,275.3 360.5,275.2 358.0,275.3 354.8,275.2" fill="#2da618"/>
<polygon points="363.1,275.4 366.2,275.3 363.7,275.4 360.5,275.2" fill="#2da618"/>
<polygon points="317.4,274.4 320.7,274.4 318.2,274.4 315.0,274.2" fill="#2da618"/>
<polygon points="311.7,274.2 315.0,274.2 312.5,274.3 309.3,274.0" fill="#2ea618"/>
<polygon points="368.8,275.5 371.9,275.4 369.4,275.4 366.2,275.3" fill="#2da618"/>
<polygon points="374.5,275.6 377.6,275.5 375.1,275.5 371.9,275.4" fill="#2da618"/>
<polygon points="306.0,274.0 309.3,274.0 306.9,274.1 303.6,273.9" fill="#2ea618"/>
<polygon points="380.2,275.6 383.3,275.5 380.7,275.5 377.6,275.5" fill="#2da618"/>
<polygon points="300.3,273.8 303.6,273.9 301.2,273.9 297.9,273.7" fill="#2ea618"/>
<polygon points="294.5,273.6 297.9,273.7 295.5,273.7 292.2,273.5" fill="#2fa618"/>
<polygon points="385.9,275.7 389.0,275.5 386.4,275.6 383.3,275.5" fill="#2da618"/>
<polygon points="391.7,275.7 394.7,275.6 392.1,275.6 389.0,275.5" fill="#2da618"/>
<polygon points="288.8,273.4 292.2,273.5 289.8,273.5 286.5,273.2" fill="#2fa618"/>
<polygon points="283.1,273.2 286.5,273.2 284.1,273.3 280.8,273.0" fill="#2fa618"/>
<polygon points="598.2,269.5 600.8,269.2 597.6,269.3 595.0,269.5" fill="#3fa819"/>
<polygon points="277.4,273.0 280.8,273.0 278.4,273.1 275.1,272.8" fill="#30a618"/>
<polygon points="271.7,272.7 275.1,272.8 272.7,272.9 269.4,272.5" fill="#30a618"/>
<polygon points="342.8,275.6 346.0,275.1 343.4,274.9 340.2,275.0" fill="#32a718"/>
<polygon points="337.1,275.4 340.2,275.0 337.7,274.8 334.5,274.8" fill="#32a718"/>
<polygon points="348.5,275.7 351.7,275.2 349.1,275.1 346.0,275.1" fill="#32a718"/>
<polygon points="354.2,275.8 357.4,275.3 354.8,275.2 351.7,275.2" fill="#32a718"/>
<polygon points="331.3,275.3 334.5,274.8 332.1,274.7 328.8,274.7" fill="#33a718"/>
<polygon points="359.9,275.9 363.1,275.4 360.5,275.2 357.4,275.3" fill="#32a718"/>
<polygon points="325.6,275.1 328.8,274.7 326.4,274.5 323.1,274.6" fill="#33a718"/>
<polygon points="365.7,276.0 368.8,275.5 366.2,275.3 363.1,275.4" fill="#32a718"/>
<polygon points="319.9,275.0 323.1,274.6 320.7,274.4 317.4,274.4" fill="#33a718"/>
<polygon points="314.2,274.8 317.4,274.4 315.0,274.2 311.7,274.2" fill="#33a718"/>
<polygon points="371.4,276.1 374.5,275.6 371.9,275.4 368.8,275.5" fill="#32a718"/>
<polygon points="377.1,276.2 380.2,275.6 377.6,275.5 374.5,275.6" fill="#32a718"/>
<polygon points="308.4,274.6 311.7,274.2 309.3,274.0 306.0,274.0" fill="#33a718"/>
<polygon points="382.9,276.2 385.9,275.7 383.3,275.5 380.2,275.6" fill="#32a718"/>
<polygon points="302.7,274.4 306.0,274.0 303.6,273.9 300.3,273.8" fill="#34a718"/>
<polygon points="388.6,276.3 391.7,275.7 389.0,275.5 385.9,275.7" fill="#33a718"/>
<polygon points="297.0,274.2 300.3,273.8 297.9,273.7 294.5,273.6" fill="#34a718"/>
<polygon points="394.3,276.3 397.4,275.8 394.7,275.6 391.7,275.7" fill="#33a718"/>
<polygon points="291.2,274.0 294.5,273.6 292.2,273.5 288.8,273.4" fill="#34a719"/>
<polygon points="285.5,273.8 288.8,273.4 286.5,273.2 283.1,273.2" fill="#35a819"/>
<polygon points="279.8,273.6 283.1,273.2 280.8,273.0 277.4,273.0" fill="#35a819"/>
<polygon points="274.1,273.4 277.4,273.0 275.1,272.8 271.7,272.7" fill="#36a819"/>
<polygon points="345.4,276.7 348.5,275.7 346.0,275.1 342.8,275.6" fill="#36a819"/>
<polygon points="351.1,276.8 354.2,275.8 351.7,275.2 348.5,275.7" fill="#36a819"/>
<polygon points="339.6,276.6 342.8,275.6 340.2,275.0 337.1,275.4" fill="#37a819"/>
<polygon points="356.8,277.0 359.9,275.9 357.4,275.3 354.2,275.8" fill="#36a819"/>
<polygon points="333.9,276.5 337.1,275.4 334.5,274.8 331.3,275.3" fill="#37a819"/>
<polygon points="362.6,277.1 365.7,276.0 363.1,275.4 359.9,275.9" fill="#36a819"/>
<polygon points="328.1,276.3 331.3,275.3 328.8,274.7 325.6,275.1" fill="#37a819"/>
<polygon points="368.3,277.2 371.4,276.1 368.8,275.5 365.7,276.0" fill="#36a819"/>
<polygon points="322.4,276.2 325.6,275.1 323.1,274.6 319.9,275.0" fill="#37a819"/>
<polygon points="316.7,276.0 319.9,275.0 317.4,274.4 314.2,274.8" fill="#37a819"/>
<polygon points="374.0,277.2 377.1,276.2 374.5,275.6 371.4,276.1" fill="#36a819"/>
<polygon points="379.8,277.3 382.9,276.2 380.2,275.6 377.1,276.2" fill="#36a819"/>
<polygon points="310.9,275.8 314.2,274.8 311.7,274.2 308.4,274.6" fill="#37a819"/>
<polygon points="385.5,277.4 388.6,276.3 385.9,275.7 382.9,276.2" fill="#37a819"/>
<polygon points="305.2,275.6 308.4,274.6 306.0,274.0 302.7,274.4" fill="#38a819"/>
<polygon points="391.2,277.5 394.3,276.3 391.7,275.7 388.6,276.3" fill="#37a819"/>
<polygon points="299.5,275.5 302.7,274.4 300.3,273.8 297.0,274.2" fill="#38a819"/>
<polygon points="397.0,277.5 400.0,276.4 397.4,275.8 394.3,276.3" fill="#37a819"/>
<polygon points="293.7,275.3 297.0,274.2 294.5,273.6 291.2,274.0" fill="#38a819"/>
<polygon points="288.0,275.1 291.2,274.0 288.8,273.4 285.5,273.8" fill="#38a819"/>
<polygon points="282.3,274.8 285.5,273.8 283.1,273.2 279.8,273.6" fill="#39a819"/>
<polygon points="276.5,274.6 279.8,273.6 277.4,273.0 274.1,273.4" fill="#39a819"/>
<polygon points="348.0,278.6 351.1,276.8 348.5,275.7 345.4,276.7" fill="#39a819"/>
<polygon points="353.7,278.7 356.8,277.0 354.2,275.8 351.1,276.8" fill="#38a819"/>
<polygon points="342.2,278.4 345.4,276.7 342.8,275.6 339.6,276.6" fill="#39a819"/>
<polygon points="359.5,278.8 362.6,277.1 359.9,275.9 356.8,277.0" fill="#38a819"/>
<polygon points="336.5,278.3 339.6,276.6 337.1,275.4 333.9,276.5" fill="#39a819"/>
<polygon points="330.7,278.2 333.9,276.5 331.3,275.3 328.1,276.3" fill="#39a819"/>
<polygon points="365.2,278.9 368.3,277.2 365.7,276.0 362.6,277.1" fill="#38a819"/>
<polygon points="371.0,279.0 374.0,277.2 371.4,276.1 368.3,277.2" fill="#38a819"/>
<polygon points="325.0,278.0 328.1,276.3 325.6,275.1 322.4,276.2" fill="#39a819"/>
<polygon points="319.3,277.9 322.4,276.2 319.9,275.0 316.7,276.0" fill="#39a819"/>
<polygon points="376.7,279.1 379.8,277.3 377.1,276.2 374.0,277.2" fill="#39a819"/>
<polygon points="382.5,279.1 385.5,277.4 382.9,276.2 379.8,277.3" fill="#39a819"/>
<polygon points="313.5,277.7 316.7,276.0 314.2,274.8 310.9,275.8" fill="#39a819"/>
<polygon points="388.2,279.2 391.2,277.5 388.6,276.3 385.5,277.4" fill="#39a819"/>
<polygon points="307.8,277.5 310.9,275.8 308.4,274.6 305.2,275.6" fill="#3aa819"/>
<polygon points="302.0,277.3 305.2,275.6 302.7,274.4 299.5,275.5" fill="#3aa819"/>
<polygon points="393.9,279.2 397.0,277.5 394.3,276.3 391.2,277.5" fill="#39a819"/>
<polygon points="399.7,279.3 402.7,277.5 400.0,276.4 397.0,277.5" fill="#39a819"/>
<polygon points="296.3,277.1 299.5,275.5 297.0,274.2 293.7,275.3" fill="#3aa819"/>
<polygon points="290.5,277.0 293.7,275.3 291.2,274.0 288.0,275.1" fill="#3aa819"/>
<polygon points="284.8,276.7 288.0,275.1 285.5,273.8 282.3,274.8" fill="#3ba819"/>
<polygon points="279.0,276.5 282.3,274.8 279.8,273.6 276.5,274.6" fill="#3ba819"/>
<path d="M269.4 272.5 L267.1 272.6L264.8 272.7L262.5 272.9L260.3 273.5L258.1 274.4L256.0 275.5L253.9 276.9L251.9 278.6L249.9 280.7L248.0 283.2L246.1 286.1L244.3 289.9L242.7 295.0L241.5 302.8L240.4 312.4L239.5 322.7L240.0 345.4M648.0 265.7 L650.4 265.6L652.8 265.9L655.1 266.5L657.4 267.4L659.6 269.0L661.7 271.5L663.8 274.2L665.8 276.4L668.0 278.1L670.0 280.8M275.1 272.8 L272.7 272.9L270.5 273.0L268.2 273.1L265.9 273.7L263.8 274.6L261.6 275.8L259.5 277.1L257.5 278.8L255.4 280.9L253.5 283.4L251.6 286.4L249.8 290.2L248.2 295.3L246.9 303.2L245.8 312.7L244.9 323.1L245.3 345.5M642.2 266.1 L644.7 266.2L647.1 266.5L649.4 267.1L651.7 268.0L654.0 269.6L656.1 272.0L658.2 274.5L660.3 276.4L662.5 278.0L664.5 280.7L666.0 286.9M280.8 273.0 L278.4 273.1L276.1 273.2L273.8 273.4L271.6 274.0L269.4 274.9L267.2 276.0L265.1 277.4L263.0 279.1L261.0 281.2L259.0 283.7L257.1 286.7L255.3 290.5L253.7 295.6L252.4 303.5L251.2 313.1L250.2 323.6L250.5 345.5M636.5 266.6 L638.9 266.7L641.4 267.1L643.7 267.8L646.0 268.8L648.2 270.6L650.4 273.1L652.5 275.6L654.6 277.5L656.8 279.3L658.7 282.6L660.3 289.3L661.6 298.1M286.5 273.2 L284.1 273.3L281.8 273.4L279.5 273.6L277.2 274.2L275.0 275.1L272.8 276.2L270.7 277.6L268.6 279.3L266.6 281.4L264.6 283.9L262.7 286.9L260.8 290.7L259.2 295.9L257.8 303.8L256.6 313.4L255.6 324.0L255.8 345.6M630.8 267.1 L633.2 267.2L635.6 267.6L638.0 268.4L640.3 269.5L642.6 271.4L644.7 274.0L646.8 276.5L649.0 278.4L651.1 280.4L653.1 284.2L654.6 291.3L655.9 300.5L657.1 310.2M292.2 273.5 L289.8 273.5L287.5 273.6L285.1 273.8L282.9 274.4L280.6 275.3L278.5 276.4L276.3 277.8L274.2 279.5L272.1 281.6L270.1 284.1L268.2 287.1L266.3 290.9L264.6 296.1L263.2 304.1L262.0 313.7L261.0 324.3L261.1 345.6M625.0 267.5 L627.5 267.7L629.9 268.2L632.3 269.0L634.6 270.2L636.9 272.3L639.0 275.0L641.1 277.8L643.3 280.2L645.3 282.9L647.2 288.1L648.6 296.4L649.8 306.9L650.8 317.9L651.1 335.8M297.9 273.7 L295.5 273.7L293.1 273.8L290.8 274.0L288.5 274.6L286.3 275.5L284.1 276.6L281.9 278.0L279.7 279.7L277.7 281.8L275.6 284.3L273.7 287.3L271.8 291.2L270.1 296.4L268.7 304.4L267.4 314.0L266.3 324.7L266.3 345.7M619.3 268.0 L621.8 268.2L624.2 268.7L626.6 269.6L629.0 270.9L631.2 273.0L633.4 275.7L635.5 278.1L637.8 280.0L639.9 282.4L641.7 287.4L643.3 295.2L644.6 304.9L645.8 314.9L646.0 333.7L647.5 341.1M303.6 273.9 L301.2 273.9L298.8 274.0L296.5 274.2L294.2 274.8L291.9 275.7L289.7 276.8L287.5 278.2L285.3 279.9L283.2 282.0L281.2 284.5L279.2 287.5L277.3 291.4L275.6 296.6L274.1 304.7L272.8 314.2L271.7 325.0L271.6 345.8M611.1 268.4 L613.6 268.4L616.1 268.7L618.5 269.3L620.9 270.2L623.3 271.6L625.5 273.8L627.7 276.4L629.9 278.8L632.2 280.7L634.3 283.3L636.1 288.9L637.7 296.9L639.0 306.7L640.2 317.1L640.3 338.2L642.2 341.1M309.3 274.0 L306.9 274.1L304.5 274.2L302.1 274.4L299.8 275.0L297.5 275.9L295.3 277.0L293.1 278.4L290.9 280.1L288.8 282.2L286.7 284.7L284.7 287.7L282.8 291.5L281.0 296.8L279.5 304.9L278.2 314.5L277.0 325.3L276.8 345.8M605.4 268.8 L607.9 268.9L610.4 269.2L612.8 269.8L615.3 270.8L617.6 272.3L619.9 274.6L622.1 277.2L624.3 279.5L626.6 281.4L628.7 284.3L630.5 290.3L632.1 298.6L633.4 308.4L634.6 319.5L634.6 342.6L637.0 341.0M315.0 274.2 L312.5 274.3L310.1 274.4L307.8 274.5L305.4 275.1L303.1 276.0L300.9 277.2L298.6 278.5L296.5 280.2L294.3 282.4L292.2 284.9L290.2 287.9L288.3 291.7L286.5 297.0L285.0 305.1L283.6 314.7L282.4 325.5L282.1 345.9M599.6 269.2 L602.2 269.3L604.7 269.7L607.2 270.4L609.6 271.3L611.9 272.9L614.2 275.3L616.5 277.9L618.7 280.1L621.0 282.1L623.1 285.3L624.9 291.8L626.5 300.4L627.9 310.1L629.0 322.0L629.3 342.7M320.7 274.4 L318.2 274.4L315.8 274.5L313.4 274.7L311.1 275.3L308.8 276.2L306.5 277.3L304.2 278.7L302.0 280.4L299.9 282.5L297.8 285.0L295.7 288.0L293.7 291.9L291.9 297.1L290.4 305.3L289.0 314.8L287.7 325.7L287.4 346.0M593.9 269.6 L596.5 269.8L599.0 270.2L601.5 270.9L603.9 271.9L606.3 273.6L608.6 276.0L610.8 278.6L613.1 280.8L615.4 282.9L617.5 286.4L619.3 293.2L620.9 302.1L622.3 311.7L623.4 324.9L624.1 342.7M326.4 274.5 L323.9 274.6L321.5 274.7L319.1 274.8L316.7 275.4L314.4 276.3L312.1 277.4L309.8 278.8L307.6 280.5L305.4 282.6L303.3 285.2L301.2 288.2L299.2 292.0L297.4 297.3L295.8 305.4L294.4 315.0L293.1 325.9L292.6 346.0M585.6 270.0 L588.2 270.0L590.8 270.2L593.3 270.7L595.8 271.4L598.3 272.5L600.6 274.3L602.9 276.7L605.2 279.3L607.5 281.4L609.8 283.6L611.9 287.5L613.7 294.6L615.3 303.7L616.8 313.4L617.8 328.2L618.8 342.6M332.1 274.7 L329.6 274.7L327.2 274.8L324.7 275.0L322.4 275.6L320.0 276.5L317.7 277.6L315.4 278.9L313.2 280.7L311.0 282.8L308.8 285.3L306.7 288.3L304.7 292.1L302.8 297.4L301.2 305.5L299.7 315.1L298.4 326.0L297.9 346.1M582.5 270.4 L585.1 270.6L587.6 271.1L590.1 271.9L592.6 273.0L595.0 274.9L597.3 277.4L599.6 279.9L601.9 282.0L604.2 284.4L606.3 288.7L608.1 296.1L609.8 305.4L611.3 315.1L612.2 331.7L613.6 342.5M337.7 274.8 L335.3 274.9L332.8 274.9L330.4 275.1L328.0 275.7L325.6 276.6L323.3 277.7L321.0 279.1L318.7 280.8L316.5 282.9L314.3 285.4L312.2 288.4L310.2 292.2L308.3 297.5L306.6 305.6L305.1 315.2L303.8 326.1L303.2 346.1M579.4 271.0 L581.9 271.6L584.5 272.4L586.9 273.6L589.3 275.6L591.7 278.0L594.0 280.5L596.4 282.6L598.6 285.2L600.7 289.9L602.6 297.5L604.2 307.0L605.8 316.8L606.6 335.3L608.3 342.5M343.4 274.9 L341.0 275.0L338.5 275.0L336.0 275.2L333.6 275.8L331.2 276.7L328.9 277.8L326.6 279.2L324.3 280.9L322.1 283.0L319.9 285.5L317.7 288.5L315.7 292.3L313.7 297.6L312.1 305.7L310.5 315.3L309.1 326.2L308.4 346.2M576.3 272.0 L578.8 272.9L581.3 274.2L583.7 276.2L586.1 278.7L588.4 281.1L590.8 283.2L593.1 286.0L595.2 291.1L597.0 299.0L598.7 308.5L600.3 318.7L601.0 339.1L603.1 342.4M349.1 275.1 L346.6 275.1L344.2 275.2L341.7 275.3L339.3 275.9L336.9 276.8L334.5 277.9L332.2 279.2L329.9 280.9L327.6 283.1L325.4 285.6L323.2 288.6L321.2 292.4L319.2 297.6L317.5 305.8L315.9 315.3L314.4 326.2L313.7 346.3M573.1 273.4 L575.6 274.7L578.1 276.8L580.5 279.3L582.8 281.7L585.2 283.9L587.5 286.8L589.6 292.3L591.5 300.4L593.2 310.0L594.8 320.6L595.4 342.9L597.8 342.4M354.8 275.2 L352.3 275.2L349.8 275.3L347.3 275.4L344.9 276.0L342.5 276.9L340.1 278.0L337.7 279.3L335.4 281.0L333.2 283.1L330.9 285.7L328.7 288.6L326.6 292.4L324.6 297.7L322.9 305.8L321.2 315.3L319.7 326.2L319.0 346.3M570.0 275.3 L572.5 277.4L574.9 279.9L577.3 282.3L579.7 284.5L582.0 287.6L584.0 293.6L585.9 301.9L587.7 311.4L589.3 322.7L590.1 344.1M360.5 275.2 L358.0 275.3L355.5 275.3L353.0 275.5L350.5 276.1L348.1 276.9L345.7 278.0L343.3 279.4L341.0 281.1L338.7 283.2L336.4 285.7L334.2 288.7L332.1 292.4L330.1 297.7L328.3 305.8L326.6 315.3L325.1 326.2L324.2 346.4M566.8 278.0 L569.3 280.5L571.7 282.8L574.1 285.1L576.4 288.4L578.5 294.8L580.4 303.3L582.2 312.8L583.8 324.9L584.8 344.0M366.2 275.3 L363.7 275.4L361.2 275.4L358.7 275.6L356.2 276.1L353.7 277.0L351.3 278.1L348.9 279.4L346.6 281.1L344.2 283.2L342.0 285.8L339.7 288.7L337.6 292.5L335.5 297.7L333.7 305.7L332.0 315.3L330.4 326.1L329.5 346.4M563.7 281.0 L566.1 283.4L568.5 285.7L570.9 289.3L573.0 295.9L574.9 304.7L576.7 314.1L578.3 327.4L579.6 343.9M371.9 275.4 L369.4 275.4L366.8 275.5L364.3 275.6L361.8 276.2L359.3 277.0L356.9 278.1L354.5 279.5L352.1 281.2L349.8 283.3L347.5 285.8L345.2 288.7L343.1 292.5L341.0 297.6L339.1 305.7L337.4 315.2L335.7 326.0L334.8 346.5M560.6 283.9 L563.0 286.3L565.3 290.2L567.4 297.1L569.4 306.0L571.3 315.5L572.8 330.1L574.3 343.9M377.6 275.5 L375.1 275.5L372.5 275.5L370.0 275.7L367.5 276.2L365.0 277.1L362.5 278.1L360.1 279.5L357.7 281.2L355.3 283.3L353.0 285.8L350.7 288.7L348.5 292.4L346.4 297.6L344.5 305.6L342.7 315.2L341.1 325.9L340.0 346.6M557.4 287.0 L559.8 291.1L561.9 298.3L563.9 307.4L565.8 316.9L567.3 333.0L569.1 343.8M383.3 275.5 L380.7 275.5L378.2 275.6L375.6 275.7L373.1 276.3L370.6 277.1L368.1 278.2L365.7 279.5L363.3 281.2L360.9 283.3L358.5 285.8L356.3 288.7L354.0 292.4L351.9 297.5L349.9 305.5L348.1 315.1L346.4 325.7L345.3 346.6M554.2 292.1 L556.4 299.4L558.4 308.7L560.4 318.3L561.8 335.9L563.8 343.8M389.0 275.5 L386.4 275.6L383.8 275.6L381.3 275.8L378.7 276.3L376.2 277.1L373.7 278.2L371.3 279.5L368.8 281.2L366.4 283.3L364.1 285.8L361.8 288.7L359.5 292.3L357.3 297.4L355.3 305.4L353.5 314.9L351.7 325.5L350.6 346.7M550.9 300.6 L553.0 309.9L554.9 319.7L556.4 339.0L558.5 343.7M547.5 311.1 L549.5 321.2L550.9 342.1L553.3 343.6M544.1 322.7 L545.5 345.1L548.0 343.6M389.0 275.5 L392.1 275.6M383.3 275.5 L386.4 275.6L389.5 275.6M377.6 275.5 L380.7 275.5L383.8 275.6L386.9 275.8M371.9 275.4 L375.1 275.5L378.2 275.6L381.3 275.8L384.4 276.3M366.2 275.3 L369.4 275.4L372.5 275.5L375.6 275.7L378.7 276.3L381.8 277.1M360.5 275.2 L363.7 275.4L366.8 275.5L370.0 275.7L373.1 276.3L376.2 277.1L379.3 278.2M354.8 275.2 L358.0 275.3L361.2 275.4L364.3 275.6L367.5 276.2L370.6 277.1L373.7 278.2L376.8 279.5M349.1 275.1 L352.3 275.2L355.5 275.3L358.7 275.6L361.8 276.2L365.0 277.1L368.1 278.2L371.3 279.5L374.4 281.1M343.4 274.9 L346.6 275.1L349.8 275.3L353.0 275.5L356.2 276.1L359.3 277.0L362.5 278.1L365.7 279.5L368.8 281.2L372.0 283.2M337.7 274.8 L341.0 275.0L344.2 275.2L347.3 275.4L350.5 276.1L353.7 277.0L356.9 278.1L360.1 279.5L363.3 281.2L366.4 283.3L369.6 285.8M332.1 274.7 L335.3 274.9L338.5 275.0L341.7 275.3L344.9 276.0L348.1 276.9L351.3 278.1L354.5 279.5L357.7 281.2L360.9 283.3L364.1 285.8L367.3 288.6M326.4 274.5 L329.6 274.7L332.8 274.9L336.0 275.2L339.3 275.9L342.5 276.9L345.7 278.0L348.9 279.4L352.1 281.2L355.3 283.3L358.5 285.8L361.8 288.7L365.0 292.3M320.7 274.4 L323.9 274.6L327.2 274.8L330.4 275.1L333.6 275.8L336.9 276.8L340.1 278.0L343.3 279.4L346.6 281.1L349.8 283.3L353.0 285.8L356.3 288.7L359.5 292.3L362.8 297.3M315.0 274.2 L318.2 274.4L321.5 274.7L324.7 275.0L328.0 275.7L331.2 276.7L334.5 277.9L337.7 279.3L341.0 281.1L344.2 283.2L347.5 285.8L350.7 288.7L354.0 292.4L357.3 297.4L360.8 305.2M309.3 274.0 L312.5 274.3L315.8 274.5L319.1 274.8L322.4 275.6L325.6 276.6L328.9 277.8L332.2 279.2L335.4 281.0L338.7 283.2L342.0 285.8L345.2 288.7L348.5 292.4L351.9 297.5L355.3 305.4L358.8 314.8M303.6 273.9 L306.9 274.1L310.1 274.4L313.4 274.7L316.7 275.4L320.0 276.5L323.3 277.7L326.6 279.2L329.9 280.9L333.2 283.1L336.4 285.7L339.7 288.7L343.1 292.5L346.4 297.6L349.9 305.5L353.5 314.9L357.0 325.3M585.6 270.0 L582.5 270.4L579.4 271.0L576.3 272.0L573.1 273.4L570.0 275.3L566.8 278.0L563.7 281.0L560.6 283.9L557.4 287.0L554.2 292.1L550.9 300.6L547.5 311.1L544.1 322.7L540.2 345.3M297.9 273.7 L301.2 273.9L304.5 274.2L307.8 274.5L311.1 275.3L314.4 276.3L317.7 277.6L321.0 279.1L324.3 280.9L327.6 283.1L330.9 285.7L334.2 288.7L337.6 292.5L341.0 297.6L344.5 305.6L348.1 315.1L351.7 325.5L355.8 346.7M588.2 270.0 L585.1 270.6L581.9 271.6L578.8 272.9L575.6 274.7L572.5 277.4L569.3 280.5L566.1 283.4L563.0 286.3L559.8 291.1L556.4 299.4L553.0 309.9L549.5 321.2L545.5 345.1L542.8 343.5M292.2 273.5 L295.5 273.7L298.8 274.0L302.1 274.4L305.4 275.1L308.8 276.2L312.1 277.4L315.4 278.9L318.7 280.8L322.1 283.0L325.4 285.6L328.7 288.6L332.1 292.4L335.5 297.7L339.1 305.7L342.7 315.2L346.4 325.7L350.6 346.7M593.9 269.6 L590.8 270.2L587.6 271.1L584.5 272.4L581.3 274.2L578.1 276.8L574.9 279.9L571.7 282.8L568.5 285.7L565.3 290.2L561.9 298.3L558.4 308.7L554.9 319.7L550.9 342.1L548.0 343.6M286.5 273.2 L289.8 273.5L293.1 273.8L296.5 274.2L299.8 275.0L303.1 276.0L306.5 277.3L309.8 278.8L313.2 280.7L316.5 282.9L319.9 285.5L323.2 288.6L326.6 292.4L330.1 297.7L333.7 305.7L337.4 315.2L341.1 325.9L345.3 346.6M599.6 269.2 L596.5 269.8L593.3 270.7L590.1 271.9L586.9 273.6L583.7 276.2L580.5 279.3L577.3 282.3L574.1 285.1L570.9 289.3L567.4 297.1L563.9 307.4L560.4 318.3L556.4 339.0L553.3 343.6M280.8 273.0 L284.1 273.3L287.5 273.6L290.8 274.0L294.2 274.8L297.5 275.9L300.9 277.2L304.2 278.7L307.6 280.5L311.0 282.8L314.3 285.4L317.7 288.5L321.2 292.4L324.6 297.7L328.3 305.8L332.0 315.3L335.7 326.0L340.0 346.6M605.4 268.8 L602.2 269.3L599.0 270.2L595.8 271.4L592.6 273.0L589.3 275.6L586.1 278.7L582.8 281.7L579.7 284.5L576.4 288.4L573.0 295.9L569.4 306.0L565.8 316.9L561.8 335.9L558.5 343.7M275.1 272.8 L278.4 273.1L281.8 273.4L285.1 273.8L288.5 274.6L291.9 275.7L295.3 277.0L298.6 278.5L302.0 280.4L305.4 282.6L308.8 285.3L312.2 288.4L315.7 292.3L319.2 297.6L322.9 305.8L326.6 315.3L330.4 326.1L334.8 346.5M611.1 268.4 L607.9 268.9L604.7 269.7L601.5 270.9L598.3 272.5L595.0 274.9L591.7 278.0L588.4 281.1L585.2 283.9L582.0 287.6L578.5 294.8L574.9 304.7L571.3 315.5L567.3 333.0L563.8 343.8M269.4 272.5 L272.7 272.9L276.1 273.2L279.5 273.6L282.9 274.4L286.3 275.5L289.7 276.8L293.1 278.4L296.5 280.2L299.9 282.5L303.3 285.2L306.7 288.3L310.2 292.2L313.7 297.6L317.5 305.8L321.2 315.3L325.1 326.2L329.5 346.4M613.6 268.4 L610.4 269.2L607.2 270.4L603.9 271.9L600.6 274.3L597.3 277.4L594.0 280.5L590.8 283.2L587.5 286.8L584.0 293.6L580.4 303.3L576.7 314.1L572.8 330.1L569.1 343.8M267.1 272.6 L270.5 273.0L273.8 273.4L277.2 274.2L280.6 275.3L284.1 276.6L287.5 278.2L290.9 280.1L294.3 282.4L297.8 285.0L301.2 288.2L304.7 292.1L308.3 297.5L312.1 305.7L315.9 315.3L319.7 326.2L324.2 346.4M619.3 268.0 L616.1 268.7L612.8 269.8L609.6 271.3L606.3 273.6L602.9 276.7L599.6 279.9L596.4 282.6L593.1 286.0L589.6 292.3L585.9 301.9L582.2 312.8L578.3 327.4L574.3 343.9M264.8 272.7 L268.2 273.1L271.6 274.0L275.0 275.1L278.5 276.4L281.9 278.0L285.3 279.9L288.8 282.2L292.2 284.9L295.7 288.0L299.2 292.0L302.8 297.4L306.6 305.6L310.5 315.3L314.4 326.2L319.0 346.3M625.0 267.5 L621.8 268.2L618.5 269.3L615.3 270.8L611.9 272.9L608.6 276.0L605.2 279.3L601.9 282.0L598.6 285.2L595.2 291.1L591.5 300.4L587.7 311.4L583.8 324.9L579.6 343.9M262.5 272.9 L265.9 273.7L269.4 274.9L272.8 276.2L276.3 277.8L279.7 279.7L283.2 282.0L286.7 284.7L290.2 287.9L293.7 291.9L297.4 297.3L301.2 305.5L305.1 315.2L309.1 326.2L313.7 346.3M630.8 267.1 L627.5 267.7L624.2 268.7L620.9 270.2L617.6 272.3L614.2 275.3L610.8 278.6L607.5 281.4L604.2 284.4L600.7 289.9L597.0 299.0L593.2 310.0L589.3 322.7L584.8 344.0M260.3 273.5 L263.8 274.6L267.2 276.0L270.7 277.6L274.2 279.5L277.7 281.8L281.2 284.5L284.7 287.7L288.3 291.7L291.9 297.1L295.8 305.4L299.7 315.1L303.8 326.1L308.4 346.2M636.5 266.6 L633.2 267.2L629.9 268.2L626.6 269.6L623.3 271.6L619.9 274.6L616.5 277.9L613.1 280.8L609.8 283.6L606.3 288.7L602.6 297.5L598.7 308.5L594.8 320.6L590.1 344.1M258.1 274.4 L261.6 275.8L265.1 277.4L268.6 279.3L272.1 281.6L275.6 284.3L279.2 287.5L282.8 291.5L286.5 297.0L290.4 305.3L294.4 315.0L298.4 326.0L303.2 346.1M642.2 266.1 L638.9 266.7L635.6 267.6L632.3 269.0L629.0 270.9L625.5 273.8L622.1 277.2L618.7 280.1L615.4 282.9L611.9 287.5L608.1 296.1L604.2 307.0L600.3 318.7L595.4 342.9L592.6 342.3M256.0 275.5 L259.5 277.1L263.0 279.1L266.6 281.4L270.1 284.1L273.7 287.3L277.3 291.4L281.0 296.8L285.0 305.1L289.0 314.8L293.1 325.9L297.9 346.1M648.0 265.7 L644.7 266.2L641.4 267.1L638.0 268.4L634.6 270.2L631.2 273.0L627.7 276.4L624.3 279.5L621.0 282.1L617.5 286.4L613.7 294.6L609.8 305.4L605.8 316.8L601.0 339.1L597.8 342.4M253.9 276.9 L257.5 278.8L261.0 281.2L264.6 283.9L268.2 287.1L271.8 291.2L275.6 296.6L279.5 304.9L283.6 314.7L287.7 325.7L292.6 346.0M650.4 265.6 L647.1 266.5L643.7 267.8L640.3 269.5L636.9 272.3L633.4 275.7L629.9 278.8L626.6 281.4L623.1 285.3L619.3 293.2L615.3 303.7L611.3 315.1L606.6 335.3L603.1 342.4M251.9 278.6 L255.4 280.9L259.0 283.7L262.7 286.9L266.3 290.9L270.1 296.4L274.1 304.7L278.2 314.5L282.4 325.5L287.4 346.0M652.8 265.9 L649.4 267.1L646.0 268.8L642.6 271.4L639.0 275.0L635.5 278.1L632.2 280.7L628.7 284.3L624.9 291.8L620.9 302.1L616.8 313.4L612.2 331.7L608.3 342.5M249.9 280.7 L253.5 283.4L257.1 286.7L260.8 290.7L264.6 296.1L268.7 304.4L272.8 314.2L277.0 325.3L282.1 345.9M655.1 266.5 L651.7 268.0L648.2 270.6L644.7 274.0L641.1 277.8L637.8 280.0L634.3 283.3L630.5 290.3L626.5 300.4L622.3 311.7L617.8 328.2L613.6 342.5M248.0 283.2 L251.6 286.4L255.3 290.5L259.2 295.9L263.2 304.1L267.4 314.0L271.7 325.0L276.8 345.8M657.4 267.4 L654.0 269.6L650.4 273.1L646.8 276.5L643.3 280.2L639.9 282.4L636.1 288.9L632.1 298.6L627.9 310.1L623.4 324.9L618.8 342.6M246.1 286.1 L249.8 290.2L253.7 295.6L257.8 303.8L262.0 313.7L266.3 324.7L271.6 345.8M659.6 269.0 L656.1 272.0L652.5 275.6L649.0 278.4L645.3 282.9L641.7 287.4L637.7 296.9L633.4 308.4L629.0 322.0L624.1 342.7M244.3 289.9 L248.2 295.3L252.4 303.5L256.6 313.4L261.0 324.3L266.3 345.7M661.7 271.5 L658.2 274.5L654.6 277.5L651.1 280.4L647.2 288.1L643.3 295.2L639.0 306.7L634.6 319.5L629.3 342.7M242.7 295.0 L246.9 303.2L251.2 313.1L255.6 324.0L261.1 345.6M663.8 274.2 L660.3 276.4L656.8 279.3L653.1 284.2L648.6 296.4L644.6 304.9L640.2 317.1L634.6 342.6L631.7 341.0M241.5 302.8 L245.8 312.7L250.2 323.6L255.8 345.6M665.8 276.4 L662.5 278.0L658.7 282.6L654.6 291.3L649.8 306.9L645.8 314.9L640.3 338.2L637.0 341.0M240.4 312.4 L244.9 323.1L250.5 345.5M668.0 278.1 L664.5 280.7L660.3 289.3L655.9 300.5L650.8 317.9L646.0 333.7L642.2 341.1M239.5 322.7 L245.3 345.5M670.0 280.8 L666.0 286.9L661.6 298.1L657.1 310.2L651.1 335.8L647.5 341.1" stroke="#000" stroke-opacity="0.92" stroke-width="1.9" stroke-linejoin="round" fill="none"/>
<polygon points="268.9,272.5 300.4,273.8 331.6,274.7 362.9,275.3 394.0,275.6 425.1,275.5 456.2,275.1 488.5,274.4 520.2,273.3 551.9,271.9 584.5,270.1 617.4,268.1 649.8,265.6 649.8,265.6 617.4,268.1 584.5,270.1 551.9,271.9 520.2,273.3 488.5,274.4 456.2,275.1 425.1,275.5 394.0,275.6 362.9,275.3 331.6,274.7 300.4,273.8 268.9,272.5" fill="#4d9c3b"/>
<polygon points="268.9,272.5 300.4,273.8 331.6,274.7 362.9,275.3 394.0,275.6 425.1,275.5 456.2,275.1 488.5,274.4 520.2,273.3 551.9,271.9 584.5,270.1 617.4,268.1 649.8,265.6 649.8,265.6 617.4,268.1 584.5,270.1 551.9,271.9 520.2,273.3 488.5,274.4 456.2,275.1 425.1,275.5 394.0,275.6 362.9,275.3 331.6,274.7 300.4,273.8 268.9,272.5" fill="#529d3b"/>
<polygon points="268.9,272.5 300.4,273.8 331.6,274.7 362.9,275.3 394.0,275.6 425.1,275.5 456.2,275.1 488.5,274.4 520.2,273.3 551.9,271.9 584.5,270.1 616.2,268.1 647.5,265.7 649.8,265.6 617.4,268.1 584.5,270.1 551.9,271.9 520.2,273.3 488.5,274.4 456.2,275.1 425.1,275.5 394.0,275.6 362.9,275.3 331.6,274.7 300.4,273.8 268.9,272.5" fill="#579d3b"/>
<polygon points="268.9,272.5 300.4,273.8 331.6,274.7 362.9,275.3 394.0,275.6 425.1,275.5 456.2,275.1 488.5,274.4 520.2,273.3 551.6,271.9 582.9,270.2 614.0,268.2 645.0,265.9 648.4,265.6 616.9,268.0 584.5,270.1 551.9,271.9 520.2,273.3 488.5,274.4 456.2,275.1 425.1,275.5 394.0,275.6 362.9,275.3 331.6,274.7 300.4,273.8 268.9,272.5" fill="#5c9d3b"/>
<polygon points="268.9,272.5 300.4,273.8 331.6,274.7 362.9,275.3 394.0,275.6 425.1,275.5 456.2,275.1 487.9,274.4 519.1,273.3 550.2,272.0 581.1,270.3 611.9,268.3 642.5,266.1 645.9,265.8 614.8,268.1 583.6,270.2 551.9,271.9 520.2,273.3 488.5,274.4 456.2,275.1 425.1,275.5 394.0,275.6 362.9,275.3 331.6,274.7 300.4,273.8 268.9,272.5" fill="#609d3c"/>
<polygon points="268.9,272.5 300.4,273.8 331.6,274.7 362.9,275.3 394.0,275.6 425.1,275.5 456.2,275.1 487.2,274.4 518.1,273.4 548.8,272.0 579.3,270.4 609.8,268.5 640.0,266.3 643.4,266.0 612.7,268.3 581.8,270.2 550.7,271.9 519.5,273.3 488.2,274.4 456.2,275.1 425.1,275.5 394.0,275.6 362.9,275.3 331.6,274.7 300.4,273.8 268.9,272.5" fill="#659f3c"/>
<polygon points="269.1,272.5 300.6,273.8 332.0,274.7 363.2,275.3 394.2,275.6 425.1,275.5 455.9,275.1 486.5,274.5 517.0,273.5 547.4,272.2 577.6,270.6 607.6,268.7 637.5,266.6 640.9,266.2 610.5,268.4 580.0,270.3 549.3,272.0 518.5,273.4 487.5,274.4 456.2,275.1 425.1,275.5 394.0,275.6 362.9,275.3 331.6,274.7 300.4,273.8 268.9,272.5" fill="#6ca43e"/>
<polygon points="271.2,272.7 302.3,273.9 333.2,274.8 364.0,275.4 394.7,275.7 425.2,275.7 455.6,275.3 485.8,274.7 516.0,273.7 545.9,272.4 575.8,270.9 605.5,269.0 635.0,266.9 638.4,266.4 608.4,268.6 578.2,270.5 547.9,272.1 517.4,273.4 486.8,274.4 456.0,275.1 425.1,275.5 394.1,275.6 362.9,275.3 331.6,274.7 300.4,273.8 268.9,272.5" fill="#72a840"/>
<polygon points="273.3,273.1 304.0,274.3 334.5,275.2 364.9,275.8 395.2,276.1 425.3,276.1 455.3,275.8 485.2,275.1 514.9,274.2 544.5,272.9 573.9,271.4 603.3,269.5 632.5,267.4 635.9,266.8 606.2,268.9 576.4,270.7 546.4,272.3 516.3,273.6 486.1,274.6 455.7,275.2 425.2,275.6 394.5,275.6 363.7,275.3 332.8,274.7 301.7,273.8 270.4,272.6" fill="#78ad41"/>
<polygon points="275.4,274.0 305.7,275.2 335.8,276.1 365.8,276.7 395.7,277.0 425.4,277.0 455.0,276.6 484.5,275.9 513.8,275.0 543.0,273.7 572.1,272.1 601.1,270.2 629.9,268.1 633.4,267.2 604.1,269.3 574.6,271.1 545.0,272.7 515.3,274.0 485.4,274.9 455.4,275.6 425.3,275.9 395.0,275.9 364.6,275.6 334.0,275.0 303.3,274.1 272.5,272.9" fill="#7db243"/>
<polygon points="277.6,275.4 307.5,276.7 337.2,277.6 366.8,278.1 396.2,278.4 425.5,278.3 454.7,277.9 483.8,277.2 512.7,276.2 541.5,274.8 570.2,273.2 598.8,271.2 627.3,269.0 630.8,267.8 601.9,270.0 572.8,271.8 543.5,273.4 514.2,274.6 484.7,275.6 455.1,276.3 425.4,276.6 395.5,276.6 365.5,276.3 335.3,275.7 305.1,274.8 274.6,273.6" fill="#84b846"/>
<polygon points="279.9,277.2 309.3,278.4 338.6,279.3 367.7,279.8 396.7,280.1 425.6,280.0 454.4,279.5 483.1,278.8 511.6,277.7 540.0,276.2 568.4,274.5 596.6,272.5 624.7,270.2 628.3,268.7 599.7,270.8 570.9,272.7 542.1,274.4 513.1,275.7 484.0,276.7 454.8,277.4 425.5,277.8 396.0,277.8 366.4,277.6 336.7,277.0 306.8,276.1 276.8,274.8" fill="#89bf48"/>
<polygon points="282.1,279.0 311.1,280.2 340.0,281.0 368.7,281.6 397.3,281.8 425.8,281.7 454.1,281.2 482.4,280.4 510.5,279.3 538.5,277.8 566.5,276.1 594.3,274.0 622.1,271.6 625.7,269.7 597.4,272.0 569.1,274.0 540.6,275.7 512.0,277.1 483.3,278.2 454.5,278.9 425.6,279.4 396.5,279.5 367.4,279.2 338.1,278.7 308.6,277.8 279.1,276.6" fill="#8fc74b"/>
<polygon points="284.4,280.8 312.9,282.0 341.4,282.8 369.7,283.4 397.8,283.6 425.9,283.5 453.8,283.0 481.7,282.2 509.4,281.0 537.0,279.6 564.6,277.8 592.0,275.8 619.4,273.4 623.0,271.1 595.2,273.4 567.2,275.5 539.1,277.2 510.9,278.7 482.6,279.8 454.2,280.6 425.7,281.1 397.1,281.2 368.3,281.0 339.5,280.4 310.5,279.5 281.3,278.3" fill="#94ce4e"/>
<polygon points="286.7,282.6 314.8,283.8 342.8,284.7 370.6,285.2 398.4,285.4 426.0,285.3 453.5,284.8 481.0,284.0 508.3,282.9 535.5,281.5 562.7,279.7 589.7,277.7 616.7,275.3 620.4,272.7 592.9,275.1 565.3,277.2 537.6,278.9 509.8,280.4 481.9,281.5 453.9,282.3 425.8,282.8 397.6,282.9 369.3,282.7 340.9,282.2 312.3,281.3 283.6,280.1" fill="#9bd852"/>
<polygon points="289.0,284.5 316.6,285.7 344.2,286.5 371.6,287.1 398.9,287.3 426.2,287.1 453.3,286.7 480.3,285.9 507.2,284.8 534.0,283.4 560.8,281.7 587.4,279.6 614.0,277.3 617.7,274.6 590.6,277.0 563.4,279.0 536.1,280.8 508.7,282.2 481.2,283.4 453.6,284.2 426.0,284.6 398.2,284.7 370.3,284.5 342.3,284.0 314.1,283.1 285.9,282.0" fill="#a1e155"/>
<polygon points="291.2,286.4 318.5,287.5 345.6,288.4 372.6,288.9 399.5,289.1 426.3,289.0 453.0,288.6 479.6,287.8 506.1,286.8 532.5,285.4 558.9,283.7 585.1,281.7 611.3,279.4 615.0,276.6 588.3,278.9 561.5,281.0 534.6,282.7 507.6,284.1 480.5,285.2 453.4,286.0 426.1,286.5 398.7,286.6 371.3,286.4 343.7,285.8 316.0,285.0 288.1,283.8" fill="#a5e758"/>
<polygon points="293.5,288.3 320.3,289.4 347.0,290.3 373.6,290.8 400.1,291.1 426.4,291.0 452.7,290.5 478.9,289.8 505.0,288.8 531.0,287.4 557.0,285.7 582.8,283.8 608.6,281.6 612.3,278.7 586.0,280.9 559.6,282.9 533.1,284.7 506.5,286.1 479.8,287.1 453.1,287.9 426.2,288.4 399.3,288.5 372.2,288.3 345.1,287.7 317.8,286.9 290.4,285.7" fill="#a8eb59"/>
<polygon points="295.8,290.2 322.2,291.4 348.5,292.2 374.6,292.8 400.7,293.0 426.6,292.9 452.5,292.5 478.2,291.8 503.9,290.8 529.5,289.5 555.0,287.9 580.5,286.0 605.9,283.8 609.6,280.8 583.7,283.0 557.6,285.0 531.6,286.7 505.4,288.0 479.2,289.1 452.8,289.8 426.4,290.3 399.9,290.4 373.2,290.1 346.5,289.6 319.7,288.8 292.7,287.6" fill="#aaef5b"/>
<polygon points="298.2,292.2 324.1,293.3 349.9,294.1 375.6,294.7 401.2,294.9 426.8,294.9 452.2,294.5 477.5,293.8 502.8,292.8 528.0,291.6 553.1,290.0 578.2,288.2 603.2,286.0 606.9,283.0 581.3,285.2 555.7,287.1 530.1,288.7 504.3,290.1 478.5,291.1 452.6,291.8 426.5,292.2 400.4,292.3 374.2,292.1 347.9,291.5 321.5,290.7 295.0,289.5" fill="#acf35c"/>
<polygon points="300.5,294.1 326.0,295.3 351.3,296.1 376.6,296.6 401.8,296.9 426.9,296.8 451.9,296.5 476.9,295.9 501.7,294.9 526.5,293.7 551.2,292.2 575.9,290.4 600.5,288.3 604.2,285.2 579.0,287.4 553.8,289.2 528.6,290.8 503.2,292.1 477.8,293.1 452.3,293.8 426.7,294.2 401.0,294.2 375.3,294.0 349.4,293.4 323.4,292.6 297.3,291.5" fill="#aef75d"/>
<polygon points="302.8,296.1 327.8,297.2 352.8,298.0 377.6,298.6 402.4,298.9 427.1,298.8 451.7,298.5 476.2,297.9 500.6,297.0 525.0,295.8 549.3,294.4 573.5,292.6 597.7,290.6 601.4,287.5 576.7,289.6 551.9,291.4 527.0,292.9 502.1,294.2 477.1,295.1 452.0,295.8 426.9,296.1 401.6,296.2 376.3,295.9 350.8,295.4 325.3,294.5 299.6,293.4" fill="#adf75d"/>
<polygon points="305.1,298.1 329.7,299.2 354.2,300.0 378.7,300.6 403.0,300.8 427.3,300.8 451.4,300.5 475.5,300.0 499.5,299.1 523.5,298.0 547.4,296.6 571.2,294.9 595.0,293.0 598.7,289.8 574.4,291.8 550.0,293.6 525.5,295.1 501.0,296.3 476.4,297.2 451.8,297.8 427.0,298.1 402.2,298.2 377.3,297.9 352.3,297.3 327.2,296.5 302.0,295.4" fill="#acf75d"/>
<polygon points="307.5,300.1 331.6,301.2 355.7,302.0 379.7,302.6 403.6,302.9 427.4,302.9 451.2,302.6 474.9,302.0 498.5,301.2 522.0,300.1 545.5,298.8 568.9,297.2 592.3,295.3 596.0,292.1 572.1,294.1 548.1,295.8 524.0,297.2 499.9,298.3 475.8,299.2 451.5,299.8 427.2,300.1 402.8,300.1 378.3,299.9 353.7,299.3 329.1,298.5 304.3,297.4" fill="#acf75d"/>
<polygon points="309.8,302.2 333.5,303.2 357.2,304.0 380.7,304.6 404.2,304.9 427.6,304.9 450.9,304.7 474.2,304.2 497.4,303.4 520.5,302.4 543.6,301.0 566.6,299.5 589.5,297.7 593.3,294.5 569.7,296.3 546.2,298.0 522.5,299.3 498.9,300.5 475.1,301.3 451.3,301.9 427.4,302.1 403.4,302.1 379.3,301.8 355.2,301.3 330.9,300.5 306.6,299.4" fill="#abf75d"/>
<polygon points="312.2,304.2 335.5,305.3 358.7,306.1 381.8,306.7 404.8,307.0 427.8,307.1 450.7,306.8 473.5,306.4 496.3,305.6 519.0,304.6 541.7,303.4 564.2,301.9 586.8,300.2 590.5,296.8 567.4,298.6 544.3,300.2 521.0,301.5 497.8,302.6 474.4,303.4 451.0,303.9 427.6,304.2 404.0,304.2 380.4,303.9 356.7,303.3 332.9,302.5 309.0,301.4" fill="#aaf75d"/>
<polygon points="314.5,306.4 337.4,307.4 360.1,308.3 382.8,308.8 405.5,309.2 428.0,309.2 450.5,309.0 472.9,308.6 495.2,307.9 517.5,307.0 539.7,305.8 561.9,304.4 584.0,302.7 587.8,299.3 565.1,301.0 542.3,302.5 519.5,303.8 496.7,304.8 473.8,305.6 450.8,306.1 427.7,306.3 404.6,306.3 381.4,305.9 358.1,305.4 334.8,304.6 311.3,303.5" fill="#a8f75d"/>
<polygon points="316.9,308.6 339.3,309.6 361.6,310.4 383.9,311.0 406.1,311.3 428.2,311.4 450.2,311.3 472.2,310.9 494.1,310.3 516.0,309.4 537.8,308.3 559.6,306.9 581.3,305.4 585.0,301.8 562.8,303.5 540.4,304.9 518.0,306.1 495.6,307.1 473.1,307.8 450.6,308.2 427.9,308.4 405.2,308.4 382.5,308.1 359.6,307.5 336.7,306.7 313.7,305.6" fill="#a7f75d"/>
<polygon points="319.3,310.8 341.2,311.8 363.1,312.6 385.0,313.2 406.7,313.6 428.4,313.7 450.0,313.6 471.6,313.2 493.1,312.6 514.5,311.8 535.9,310.8 557.2,309.5 578.5,308.0 582.3,304.4 560.4,306.0 538.5,307.4 516.5,308.5 494.5,309.4 472.5,310.1 450.3,310.5 428.1,310.6 405.9,310.5 383.5,310.2 361.1,309.6 338.6,308.8 316.0,307.8" fill="#a6f75d"/>
<polygon points="321.7,313.0 343.2,314.1 364.6,314.9 386.0,315.5 407.3,315.8 428.6,316.0 449.8,315.9 470.9,315.6 492.0,315.1 513.0,314.3 534.0,313.4 554.9,312.2 575.8,310.8 579.5,307.1 558.1,308.6 536.6,309.9 515.0,310.9 493.5,311.8 471.8,312.4 450.1,312.7 428.3,312.9 406.5,312.8 384.6,312.4 362.6,311.8 340.5,311.0 318.4,310.0" fill="#a4f75d"/>
<polygon points="324.1,315.3 345.1,316.4 366.2,317.2 387.1,317.8 408.0,318.2 428.8,318.3 449.6,318.3 470.3,318.0 490.9,317.5 511.5,316.9 532.1,316.0 552.6,314.9 573.0,313.6 576.8,309.8 555.7,311.2 534.7,312.4 513.5,313.4 492.4,314.2 471.2,314.7 449.9,315.1 428.5,315.2 407.1,315.0 385.6,314.6 364.1,314.1 342.5,313.2 320.8,312.2" fill="#a3f75d"/>
<polygon points="326.5,317.7 347.1,318.7 367.7,319.5 388.2,320.1 408.6,320.5 429.0,320.7 449.4,320.7 469.6,320.5 489.8,320.1 510.0,319.4 530.1,318.6 550.2,317.6 570.3,316.4 574.0,312.6 553.4,313.9 532.7,315.0 512.1,315.9 491.3,316.7 470.5,317.1 449.6,317.4 428.7,317.5 407.8,317.3 386.7,316.9 365.6,316.3 344.4,315.5 323.2,314.5" fill="#a1f75d"/>
<polygon points="328.9,320.1 349.1,321.1 369.2,321.9 389.3,322.5 409.3,322.9 429.2,323.1 449.1,323.2 469.0,323.0 488.8,322.6 508.5,322.1 528.2,321.3 547.9,320.4 567.5,319.3 571.2,315.4 551.1,316.6 530.8,317.7 510.6,318.5 490.2,319.2 469.9,319.6 449.4,319.8 428.9,319.8 408.4,319.7 387.8,319.3 367.1,318.7 346.4,317.8 325.6,316.8" fill="#9ff75d"/>
<polygon points="331.3,322.6 351.1,323.5 370.7,324.3 390.4,324.9 410.0,325.4 429.5,325.6 448.9,325.7 468.3,325.6 487.7,325.2 507.0,324.7 526.3,324.1 545.5,323.2 564.7,322.2 568.5,318.2 548.7,319.4 528.9,320.4 509.1,321.1 489.2,321.7 469.2,322.1 449.2,322.3 429.2,322.3 409.1,322.0 388.9,321.6 368.7,321.0 348.4,320.2 328.0,319.2" fill="#9cf75c"/>
<polygon points="333.7,325.2 353.1,326.2 372.3,327.0 391.5,327.6 410.6,328.0 429.7,328.3 448.7,328.4 467.7,328.3 486.6,328.0 505.5,327.5 524.4,326.9 543.2,326.1 562.0,325.1 565.7,321.1 546.4,322.2 527.0,323.1 507.6,323.8 488.1,324.3 468.6,324.6 449.0,324.8 429.4,324.7 409.7,324.5 390.0,324.0 370.2,323.4 350.3,322.6 330.4,321.6" fill="#98f75a"/>
<polygon points="336.2,328.1 355.1,329.0 373.9,329.8 392.6,330.4 411.3,330.9 429.9,331.1 448.5,331.2 467.1,331.1 485.6,330.9 504.0,330.4 522.5,329.8 540.8,329.1 559.2,328.1 563.0,324.1 544.0,325.0 525.1,325.9 506.1,326.5 487.0,327.0 467.9,327.3 448.8,327.4 429.6,327.3 410.4,327.1 391.1,326.6 371.7,326.0 352.3,325.2 332.9,324.2" fill="#93f757"/>
<polygon points="338.7,331.1 357.1,332.0 375.4,332.8 393.7,333.4 412.0,333.8 430.2,334.1 448.3,334.2 466.5,334.1 484.5,333.9 502.5,333.4 520.5,332.9 538.5,332.1 556.4,331.2 560.2,327.0 541.7,328.0 523.2,328.8 504.6,329.4 486.0,329.8 467.3,330.1 448.6,330.2 429.9,330.1 411.1,329.8 392.2,329.4 373.3,328.8 354.3,328.0 335.3,327.0" fill="#8df755"/>
<polygon points="341.2,334.2 359.1,335.2 377.0,335.9 394.9,336.5 412.7,336.9 430.4,337.2 448.2,337.3 465.8,337.2 483.5,337.0 501.1,336.6 518.6,336.0 536.1,335.3 553.6,334.4 557.4,330.1 539.3,331.0 521.2,331.8 503.1,332.4 484.9,332.8 466.7,333.0 448.4,333.1 430.1,333.0 411.7,332.8 393.3,332.3 374.9,331.7 356.4,330.9 337.8,330.0" fill="#87f753"/>
<polygon points="343.6,337.5 361.2,338.4 378.6,339.1 396.0,339.7 413.4,340.1 430.7,340.4 448.0,340.4 465.2,340.4 482.4,340.1 499.6,339.7 516.7,339.2 533.8,338.5 550.9,337.6 554.6,333.2 537.0,334.1 519.3,334.9 501.6,335.4 483.8,335.8 466.1,336.1 448.2,336.2 430.3,336.1 412.4,335.8 394.5,335.4 376.4,334.8 358.4,334.0 340.3,333.1" fill="#81f750"/>
<polygon points="346.1,340.7 363.2,341.6 380.2,342.3 397.2,342.9 414.1,343.3 431.0,343.6 447.8,343.6 464.6,343.6 481.3,343.4 498.1,343.0 514.8,342.4 531.4,341.7 548.1,340.9 551.9,336.4 534.6,337.3 517.4,338.0 500.1,338.6 482.8,339.0 465.4,339.2 448.0,339.3 430.6,339.2 413.1,339.0 395.6,338.5 378.0,337.9 360.4,337.2 342.8,336.3" fill="#7af74e"/>
<polygon points="348.6,344.0 365.2,344.8 381.8,345.5 398.3,346.1 414.8,346.5 431.2,346.8 447.6,346.9 464.0,346.8 480.3,346.6 496.6,346.2 512.8,345.7 529.1,345.1 545.3,344.2 549.1,339.7 532.3,340.6 515.5,341.3 498.6,341.8 481.7,342.2 464.8,342.4 447.9,342.5 430.9,342.4 413.8,342.1 396.8,341.7 379.6,341.2 362.5,340.4 345.2,339.5" fill="#73f74b"/>
<polygon points="351.2,347.3 367.3,348.1 383.4,348.8 399.5,349.4 415.5,349.8 431.5,350.0 447.4,350.1 463.4,350.1 479.2,349.9 495.1,349.6 510.9,349.1 526.7,348.4 542.5,347.7 546.3,343.0 529.9,343.9 513.5,344.5 497.1,345.1 480.7,345.4 464.2,345.6 447.7,345.7 431.1,345.6 414.5,345.4 397.9,344.9 381.2,344.4 364.5,343.7 347.7,342.8" fill="#6cf749"/>
<polygon points="353.7,350.7 369.4,351.5 385.0,352.2 400.6,352.8 416.2,353.2 431.8,353.4 447.3,353.5 462.7,353.5 478.2,353.3 493.6,353.0 509.0,352.5 524.4,351.9 539.7,351.1 543.5,346.4 527.6,347.2 511.6,347.9 495.6,348.4 479.6,348.7 463.6,348.9 447.5,349.0 431.4,348.8 415.2,348.6 399.1,348.2 382.8,347.6 366.6,346.9 350.2,346.1" fill="#64f747"/>
<polygon points="356.2,354.2 371.4,355.0 386.6,355.7 401.8,356.2 416.9,356.6 432.0,356.9 447.1,357.0 462.1,356.9 477.2,356.8 492.1,356.4 507.1,356.0 522.0,355.4 536.9,354.6 540.7,349.9 525.2,350.6 509.7,351.2 494.2,351.7 478.6,352.1 463.0,352.3 447.3,352.3 431.7,352.2 416.0,351.9 400.2,351.5 384.4,351.0 368.6,350.3 352.8,349.5" fill="#5cf744"/>
<polygon points="358.7,357.8 373.5,358.6 388.3,359.3 403.0,359.8 417.7,360.2 432.3,360.4 446.9,360.5 461.5,360.5 476.1,360.3 490.7,360.0 505.2,359.5 519.7,358.9 534.2,358.2 537.9,353.4 522.9,354.1 507.8,354.7 492.7,355.2 477.5,355.5 462.4,355.7 447.2,355.7 431.9,355.6 416.7,355.4 401.4,355.0 386.1,354.4 370.7,353.8 355.3,353.0" fill="#54f744"/>
<polygon points="361.3,361.5 375.6,362.2 389.9,362.9 404.2,363.4 418.4,363.7 432.6,364.0 446.8,364.1 460.9,364.0 475.1,363.8 489.2,363.5 503.3,363.1 517.3,362.5 531.4,361.8 535.2,356.9 520.5,357.6 505.9,358.2 491.2,358.7 476.5,359.0 461.8,359.2 447.0,359.2 432.2,359.1 417.4,358.9 402.6,358.5 387.7,358.0 372.8,357.3 357.8,356.5" fill="#4df745"/>
<polygon points="363.8,365.2 377.7,365.9 391.5,366.5 405.4,367.0 419.1,367.4 432.9,367.6 446.6,367.7 460.4,367.6 474.0,367.5 487.7,367.1 501.4,366.7 515.0,366.1 528.6,365.4 532.4,360.5 518.2,361.2 504.0,361.8 489.7,362.2 475.4,362.6 461.2,362.7 446.8,362.8 432.5,362.7 418.1,362.4 403.7,362.1 389.3,361.6 374.8,360.9 360.3,360.2" fill="#45f746"/>
<polygon points="366.3,368.9 379.8,369.6 393.2,370.2 406.5,370.7 419.9,371.0 433.2,371.2 446.5,371.3 459.8,371.3 473.0,371.1 486.2,370.8 499.4,370.3 512.6,369.7 525.8,369.0 529.6,364.1 515.8,364.8 502.0,365.4 488.2,365.8 474.4,366.1 460.6,366.3 446.7,366.4 432.8,366.3 418.9,366.1 404.9,365.7 390.9,365.2 376.9,364.6 362.9,363.8" fill="#3df747"/>
<polygon points="368.9,372.6 381.9,373.3 394.8,373.9 407.7,374.3 420.6,374.7 433.5,374.9 446.3,375.0 459.2,374.9 472.0,374.7 484.8,374.4 497.5,374.0 510.3,373.4 523.1,372.7 526.8,367.7 513.5,368.4 500.1,369.0 486.8,369.5 473.4,369.8 460.0,370.0 446.5,370.0 433.1,369.9 419.6,369.7 406.1,369.4 392.6,368.9 379.0,368.3 365.4,367.5" fill="#38f74b"/>
<polygon points="371.4,376.4 384.0,377.0 396.5,377.6 408.9,378.1 421.4,378.4 433.8,378.6 446.2,378.7 458.6,378.6 471.0,378.4 483.3,378.1 495.6,377.7 508.0,377.2 520.3,376.5 524.0,371.4 511.1,372.1 498.2,372.7 485.3,373.1 472.4,373.4 459.4,373.6 446.4,373.6 433.4,373.6 420.4,373.4 407.3,373.0 394.2,372.6 381.1,372.0 368.0,371.3" fill="#36f754"/>
<polygon points="374.0,380.2 386.1,380.8 398.1,381.4 410.1,381.8 422.1,382.1 434.1,382.3 446.1,382.4 458.0,382.4 469.9,382.2 481.8,381.9 493.7,381.5 505.6,381.0 517.5,380.3 521.3,375.1 508.8,375.8 496.3,376.4 483.8,376.8 471.3,377.1 458.8,377.3 446.3,377.3 433.7,377.2 421.1,377.0 408.5,376.7 395.9,376.3 383.2,375.7 370.5,375.0" fill="#33f75c"/>
<polygon points="376.6,384.0 388.2,384.7 399.8,385.2 411.3,385.6 422.9,385.9 434.4,386.1 445.9,386.2 457.4,386.2 468.9,386.0 480.4,385.8 491.8,385.4 503.3,384.9 514.7,384.2 518.5,378.9 506.5,379.6 494.4,380.1 482.4,380.5 470.3,380.8 458.2,381.0 446.1,381.1 434.0,381.0 421.9,380.8 409.7,380.5 397.5,380.0 385.3,379.5 373.1,378.8" fill="#31f766"/>
<polygon points="379.1,387.9 390.3,388.5 401.4,389.1 412.6,389.5 423.7,389.8 434.7,390.0 445.8,390.1 456.9,390.1 467.9,389.9 478.9,389.7 489.9,389.3 501.0,388.9 511.9,388.3 515.7,382.8 504.1,383.5 492.5,384.0 480.9,384.4 469.3,384.6 457.6,384.8 446.0,384.8 434.3,384.8 422.6,384.6 410.9,384.2 399.2,383.8 387.4,383.3 375.6,382.6" fill="#2ef770"/>
<polygon points="381.7,391.9 392.4,392.5 403.1,393.0 413.8,393.4 424.4,393.7 435.1,393.9 445.7,394.0 456.3,394.0 466.9,393.9 477.5,393.7 488.1,393.4 498.6,393.0 509.2,392.5 512.9,386.8 501.8,387.4 490.6,387.9 479.5,388.3 468.3,388.5 457.1,388.6 445.9,388.7 434.6,388.6 423.4,388.4 412.1,388.1 400.8,387.7 389.5,387.1 378.2,386.5" fill="#2cf77a"/>
<polygon points="384.3,395.9 394.5,396.5 404.8,397.0 415.0,397.4 425.2,397.7 435.4,397.9 445.6,398.0 455.7,398.1 465.9,398.0 476.0,397.8 486.2,397.6 496.3,397.2 506.4,396.8 510.2,390.9 499.5,391.5 488.7,391.9 478.0,392.2 467.3,392.5 456.5,392.6 445.7,392.6 435.0,392.5 424.2,392.3 413.3,392.0 402.5,391.6 391.6,391.1 380.8,390.5" fill="#29f785"/>
<polygon points="386.8,400.0 396.6,400.6 406.4,401.0 416.2,401.4 426.0,401.8 435.7,402.0 445.5,402.1 455.2,402.2 464.9,402.2 474.6,402.1 484.3,401.9 494.0,401.6 503.6,401.2 507.4,395.2 497.1,395.7 486.8,396.0 476.6,396.3 466.3,396.5 455.9,396.6 445.6,396.6 435.3,396.5 424.9,396.2 414.5,395.9 404.2,395.5 393.8,395.0 383.3,394.5" fill="#27f791"/>
<polygon points="389.4,404.2 398.8,404.8 408.1,405.2 417.4,405.6 426.8,406.0 436.1,406.2 445.3,406.4 454.6,406.6 463.9,406.6 473.1,406.6 482.4,406.5 491.6,406.4 500.8,406.2 504.6,399.6 494.8,400.0 485.0,400.3 475.1,400.5 465.3,400.6 455.4,400.7 445.5,400.6 435.6,400.5 425.7,400.3 415.8,400.0 405.8,399.6 395.9,399.1 385.9,398.5" fill="#27f79c"/>
<polygon points="392.0,408.6 400.9,409.1 409.8,409.5 418.7,410.0 427.5,410.3 436.4,410.6 445.2,410.9 454.1,411.1 462.9,411.3 471.7,411.4 480.5,411.5 489.3,411.5 498.1,411.5 501.8,404.3 492.5,404.6 483.1,404.8 473.7,404.9 464.3,405.0 454.8,405.0 445.4,404.9 435.9,404.7 426.5,404.4 417.0,404.1 407.5,403.7 398.0,403.2 388.5,402.7" fill="#26f7a7"/>
<polygon points="394.6,413.0 403.0,413.5 411.5,413.9 419.9,414.3 428.3,414.7 436.7,415.1 445.1,415.4 453.5,415.7 461.9,415.9 470.3,416.1 478.6,416.3 487.0,416.5 495.3,416.6 499.1,409.5 490.1,409.6 481.2,409.7 472.2,409.7 463.3,409.6 454.3,409.5 445.3,409.3 436.3,409.0 427.3,408.7 418.2,408.4 409.2,408.0 400.1,407.5 391.1,407.0" fill="#26f7b4"/>
<polygon points="397.2,417.4 405.2,417.9 413.2,418.3 421.2,418.7 429.1,419.1 437.1,419.5 445.0,419.8 453.0,420.1 460.9,420.4 468.8,420.7 476.7,420.9 484.6,421.2 492.5,421.4 496.3,414.8 487.8,414.7 479.3,414.6 470.8,414.4 462.3,414.3 453.7,414.0 445.2,413.8 436.6,413.5 428.1,413.1 419.5,412.8 410.9,412.3 402.3,411.9 393.7,411.4" fill="#25f7c0"/>
<polygon points="399.8,421.8 407.3,422.2 414.9,422.7 422.4,423.1 429.9,423.4 437.4,423.8 445.0,424.1 452.4,424.4 459.9,424.7 467.4,425.0 474.9,425.3 482.3,425.5 489.8,425.8 493.5,419.8 485.5,419.6 477.4,419.3 469.4,419.1 461.3,418.8 453.2,418.5 445.1,418.2 437.0,417.9 428.8,417.5 420.7,417.2 412.6,416.7 404.4,416.3 396.2,415.8" fill="#25f7cb"/>
<polygon points="402.4,426.2 409.5,426.7 416.6,427.1 423.6,427.4 430.7,427.8 437.8,428.1 444.9,428.4 451.9,428.7 459.0,429.0 466.0,429.3 473.0,429.5 480.0,429.8 487.1,430.0 490.8,424.2 483.2,424.0 475.6,423.7 467.9,423.5 460.3,423.2 452.6,422.9 445.0,422.6 437.3,422.2 429.6,421.9 422.0,421.5 414.3,421.1 406.6,420.7 398.8,420.2" fill="#24f7d6"/>
<polygon points="405.0,430.7 411.6,431.1 418.3,431.4 424.9,431.8 431.5,432.1 438.2,432.4 444.8,432.7 451.4,433.0 458.0,433.3 464.6,433.5 471.2,433.7 477.8,434.0 484.3,434.2 488.0,428.5 480.9,428.3 473.7,428.0 466.5,427.7 459.3,427.5 452.1,427.2 444.9,426.9 437.7,426.6 430.4,426.2 423.2,425.9 416.0,425.5 408.7,425.1 401.4,424.6" fill="#24f7e1"/>
<polygon points="407.5,435.1 413.8,435.5 420.0,435.8 426.1,436.2 432.3,436.5 438.5,436.8 444.7,437.0 450.9,437.3 457.0,437.5 463.2,437.7 469.3,437.9 475.5,438.1 481.6,438.3 485.3,432.7 478.6,432.4 471.8,432.2 465.1,432.0 458.3,431.7 451.6,431.5 444.8,431.2 438.0,430.9 431.2,430.6 424.4,430.2 417.6,429.9 410.8,429.5 404.0,429.1" fill="#24f7ec"/>
<polygon points="410.1,439.4 415.9,439.8 421.7,440.1 427.4,440.4 433.1,440.7 438.9,441.0 444.6,441.2 450.3,441.5 456.1,441.7 461.8,441.9 467.5,442.1 473.2,442.2 478.9,442.4 482.6,436.9 476.3,436.7 470.0,436.4 463.7,436.2 457.4,436.0 451.0,435.8 444.7,435.5 438.4,435.2 432.0,434.9 425.7,434.6 419.3,434.2 413.0,433.9 406.6,433.5" fill="#23f7f7"/>
<polygon points="412.7,443.7 418.0,444.1 423.3,444.4 428.7,444.7 434.0,445.0 439.2,445.2 444.5,445.4 449.8,445.7 455.1,445.9 460.4,446.1 465.6,446.3 470.9,446.4 476.2,446.6 479.9,440.9 474.0,440.8 468.1,440.6 462.3,440.4 456.4,440.2 450.5,440.0 444.6,439.7 438.7,439.5 432.9,439.2 426.9,438.9 421.0,438.6 415.1,438.2 409.2,437.9" fill="#23eff7"/>
<polygon points="415.3,448.1 420.2,448.4 425.1,448.7 429.9,449.0 434.8,449.3 439.6,449.5 444.5,449.8 449.3,450.0 454.1,450.2 459.0,450.4 463.8,450.6 468.6,450.8 473.5,451.0 477.1,445.1 471.7,444.9 466.3,444.7 460.9,444.6 455.4,444.4 450.0,444.1 444.6,443.9 439.1,443.7 433.7,443.4 428.2,443.1 422.7,442.8 417.3,442.5 411.8,442.2" fill="#22e7f7"/>
<polygon points="417.9,452.7 422.3,453.0 426.8,453.3 431.2,453.6 435.6,453.8 440.0,454.1 444.4,454.4 448.8,454.6 453.2,454.9 457.6,455.2 462.0,455.4 466.4,455.7 470.7,456.0 474.4,449.4 469.5,449.2 464.5,449.0 459.5,448.8 454.5,448.6 449.5,448.4 444.5,448.2 439.5,448.0 434.5,447.7 429.5,447.4 424.4,447.2 419.4,446.9 414.4,446.5" fill="#22def7"/>
<polygon points="420.5,457.5 424.5,457.7 428.5,458.0 432.4,458.3 436.4,458.5 440.4,458.8 444.3,459.1 448.3,459.4 452.2,459.7 456.2,460.0 460.1,460.3 464.1,460.7 468.0,461.1 471.7,454.2 467.2,453.9 462.6,453.7 458.1,453.4 453.5,453.2 449.0,452.9 444.4,452.7 439.9,452.4 435.3,452.2 430.7,451.9 426.1,451.6 421.6,451.3 417.0,451.0" fill="#21cdf7"/>
<polygon points="423.1,462.2 426.7,462.5 430.2,462.7 433.7,463.0 437.2,463.2 440.8,463.5 444.3,463.8 447.8,464.0 451.3,464.3 454.8,464.7 458.3,465.0 461.8,465.3 465.3,465.7 469.0,459.3 464.9,458.9 460.8,458.6 456.7,458.3 452.6,458.0 448.5,457.7 444.4,457.4 440.2,457.1 436.1,456.8 432.0,456.6 427.9,456.3 423.7,456.0 419.6,455.7" fill="#21baf7"/>
<polygon points="425.7,466.8 428.8,467.1 431.9,467.3 435.0,467.5 438.1,467.7 441.1,467.9 444.2,468.2 447.3,468.4 450.4,468.7 453.4,468.9 456.5,469.2 459.6,469.5 462.6,469.8 466.3,464.1 462.6,463.7 459.0,463.4 455.3,463.0 451.6,462.7 448.0,462.4 444.3,462.1 440.6,461.8 436.9,461.6 433.3,461.3 429.6,461.0 425.9,460.8 422.2,460.5" fill="#20aaf7"/>
<polygon points="428.3,471.3 431.0,471.5 433.6,471.6 436.2,471.8 438.9,472.0 441.5,472.2 444.2,472.4 446.8,472.6 449.4,472.8 452.1,473.0 454.7,473.3 457.3,473.5 459.9,473.7 463.6,468.3 460.4,468.0 457.2,467.7 453.9,467.4 450.7,467.1 447.5,466.9 444.2,466.6 441.0,466.4 437.8,466.1 434.5,465.9 431.3,465.7 428.0,465.5 424.8,465.2" fill="#209cf7"/>
<polygon points="430.9,475.9 433.1,476.1 435.3,476.2 437.5,476.4 439.7,476.6 441.9,476.7 444.1,476.9 446.3,477.1 448.5,477.2 450.7,477.4 452.9,477.6 455.1,477.8 457.3,478.0 460.9,472.3 458.1,472.0 455.3,471.8 452.6,471.5 449.8,471.3 447.0,471.1 444.2,470.9 441.4,470.7 438.6,470.5 435.8,470.3 433.0,470.1 430.2,469.9 427.4,469.7" fill="#208ef7"/>
<polygon points="433.5,480.9 435.3,481.1 437.0,481.2 438.8,481.3 440.6,481.5 442.3,481.6 444.1,481.7 445.8,481.9 447.6,482.0 449.3,482.1 451.1,482.2 452.8,482.3 454.6,482.5 458.2,476.4 455.9,476.2 453.5,476.0 451.2,475.8 448.8,475.6 446.5,475.4 444.1,475.2 441.8,475.1 439.4,474.9 437.1,474.7 434.7,474.5 432.3,474.4 430.0,474.2" fill="#1f7ef7"/>
<polygon points="436.1,486.5 437.4,486.6 438.8,486.7 440.1,486.8 441.4,486.9 442.7,487.0 444.0,487.0 445.3,487.1 446.7,487.2 448.0,487.2 449.3,487.2 450.6,487.3 451.9,487.3 455.5,480.8 453.6,480.7 451.7,480.5 449.8,480.4 447.9,480.2 446.0,480.1 444.1,479.9 442.2,479.8 440.2,479.7 438.3,479.5 436.4,479.4 434.5,479.2 432.6,479.1" fill="#1f6cf7"/>
<polygon points="438.7,493.0 439.6,493.0 440.5,493.1 441.4,493.2 442.2,493.2 443.1,493.2 444.0,493.2 444.9,493.1 445.7,493.1 446.6,493.0 447.5,492.9 448.4,492.8 449.2,492.6 452.9,485.5 451.4,485.4 449.9,485.4 448.5,485.3 447.0,485.2 445.5,485.1 444.0,485.1 442.6,485.0 441.1,484.9 439.6,484.8 438.1,484.6 436.7,484.5 435.2,484.4" fill="#1e5bf7"/>
<polygon points="441.4,503.5 441.8,503.5 442.3,503.5 442.7,503.4 443.1,503.3 443.6,503.1 444.0,502.8 444.4,502.5 444.9,502.0 445.3,501.5 445.7,501.0 446.2,500.3 446.6,499.5 450.2,490.6 449.2,490.6 448.1,490.7 447.1,490.7 446.1,490.8 445.0,490.8 444.0,490.8 443.0,490.7 441.9,490.7 440.9,490.7 439.9,490.6 438.8,490.5 437.8,490.4" fill="#1e42f6"/>
<polygon points="444.0,511.0 444.0,511.0 444.0,511.0 444.0,511.0 444.0,511.0 444.0,511.0 444.0,511.0 444.0,511.0 444.0,511.0 444.0,511.0 444.0,511.0 444.0,511.0 444.0,511.0 447.5,496.8 447.0,497.3 446.4,497.8 445.8,498.2 445.2,498.5 444.6,498.8 444.0,499.1 443.4,499.2 442.8,499.4 442.2,499.4 441.6,499.5 441.0,499.5 440.4,499.4" fill="#1d28f0"/>
<path d="M444.0 511.0 L441.1 502.2L438.1 491.1L435.1 484.3L432.2 478.4L429.3 472.9L426.4 467.9L423.4 462.8L420.5 457.5L417.6 452.1L414.7 447.0L411.8 442.1L408.8 437.3L405.9 432.3L403.0 427.3L400.1 422.3L397.2 417.4L394.3 412.4L391.3 407.5L388.4 402.6L385.5 398.0L382.6 393.4L379.8 388.9L376.9 384.5L374.0 380.2M444.0 511.0 L447.0 498.3L450.0 490.9L453.1 485.1L456.2 479.8L459.2 474.8L462.3 470.2L465.4 465.6L468.4 460.3L471.5 454.5L474.6 449.1L477.7 444.3L480.7 439.7L483.8 435.0L486.9 430.3L489.9 425.6L493.0 420.7L496.1 415.2L499.2 409.4L502.2 403.6L505.3 398.5L508.4 393.7L511.5 389.0L514.5 384.5L517.6 380.2M447.0 498.3 L444.1 491.3L441.1 484.6L438.2 478.7L435.3 473.3L432.4 468.3L429.4 463.1L426.5 457.8L423.6 452.4L420.7 447.3L417.7 442.4L414.8 437.5L411.9 432.6L409.0 427.6L406.1 422.6L403.2 417.6L400.3 412.7L397.3 407.7L394.4 402.9L391.5 398.2L388.6 393.6L385.7 389.2L382.9 384.7L380.0 380.4M441.1 502.2 L444.1 491.3L447.1 484.9L450.2 479.4L453.3 474.4L456.3 469.7L459.4 465.1L462.5 459.8L465.5 454.2L468.6 448.9L471.7 444.1L474.7 439.5L477.8 434.8L480.9 430.1L483.9 425.4L487.0 420.5L490.1 415.1L493.2 409.4L496.2 403.8L499.3 398.7L502.4 393.9L505.5 389.3L508.5 384.8L511.6 380.5M450.0 490.9 L447.1 484.9L444.2 479.0L441.3 473.6L438.4 468.6L435.4 463.4L432.5 458.0L429.6 452.7L426.7 447.5L423.7 442.6L420.8 437.8L417.9 432.8L415.0 427.8L412.1 422.8L409.2 417.9L406.2 412.9L403.3 407.9L400.4 403.1L397.5 398.4L394.6 393.9L391.7 389.4L388.8 385.0L385.9 380.6M438.1 491.1 L441.1 484.6L444.2 479.0L447.3 474.0L450.3 469.3L453.4 464.6L456.5 459.4L459.5 454.0L462.6 448.8L465.7 444.0L468.7 439.3L471.8 434.6L474.9 429.9L477.9 425.2L481.0 420.3L484.1 415.0L487.2 409.4L490.2 403.9L493.3 398.8L496.4 394.1L499.5 389.5L502.5 385.0L505.6 380.7M453.1 485.1 L450.2 479.4L447.3 474.0L444.3 468.9L441.4 463.8L438.5 458.3L435.6 452.9L432.7 447.8L429.7 442.8L426.8 438.0L423.9 433.0L421.0 428.0L418.1 423.1L415.1 418.1L412.2 413.1L409.3 408.1L406.4 403.3L403.5 398.6L400.6 394.1L397.7 389.6L394.8 385.2L391.9 380.8M435.1 484.3 L438.2 478.7L441.3 473.6L444.3 468.9L447.4 464.2L450.5 459.0L453.5 453.7L456.6 448.6L459.7 443.8L462.8 439.1L465.8 434.4L468.9 429.7L472.0 425.0L475.0 420.1L478.1 414.9L481.2 409.4L484.2 404.0L487.3 399.0L490.4 394.3L493.5 389.7L496.5 385.2L499.6 380.9M456.2 479.8 L453.3 474.4L450.3 469.3L447.4 464.2L444.5 458.7L441.6 453.2L438.6 448.0L435.7 443.1L432.8 438.2L429.9 433.3L427.0 428.3L424.1 423.3L421.1 418.3L418.2 413.3L415.3 408.3L412.4 403.5L409.5 398.8L406.6 394.2L403.7 389.8L400.8 385.4L397.9 381.0M432.2 478.4 L435.3 473.3L438.4 468.6L441.4 463.8L444.5 458.7L447.6 453.4L450.6 448.4L453.7 443.6L456.8 439.0L459.8 434.3L462.9 429.5L466.0 424.8L469.0 419.9L472.1 414.8L475.2 409.4L478.3 404.0L481.3 399.1L484.4 394.4L487.5 389.8L490.5 385.4L493.6 381.1M459.2 474.8 L456.3 469.7L453.4 464.6L450.5 459.0L447.6 453.4L444.6 448.2L441.7 443.3L438.8 438.4L435.9 433.5L433.0 428.5L430.0 423.5L427.1 418.5L424.2 413.5L421.3 408.5L418.4 403.6L415.5 398.9L412.6 394.4L409.7 389.9L406.8 385.5L403.9 381.2M429.3 472.9 L432.4 468.3L435.4 463.4L438.5 458.3L441.6 453.2L444.6 448.2L447.7 443.5L450.8 438.8L453.8 434.1L456.9 429.3L460.0 424.6L463.0 419.7L466.1 414.6L469.2 409.3L472.3 404.1L475.3 399.2L478.4 394.5L481.5 390.0L484.5 385.6L487.6 381.2M462.3 470.2 L459.4 465.1L456.5 459.4L453.5 453.7L450.6 448.4L447.7 443.5L444.8 438.6L441.9 433.7L438.9 428.7L436.0 423.7L433.1 418.7L430.2 413.7L427.3 408.7L424.4 403.8L421.4 399.1L418.5 394.5L415.6 390.0L412.7 385.6L409.8 381.3M426.4 467.9 L429.4 463.1L432.5 458.0L435.6 452.9L438.6 448.0L441.7 443.3L444.8 438.6L447.9 433.9L450.9 429.1L454.0 424.3L457.1 419.5L460.1 414.5L463.2 409.3L466.3 404.1L469.3 399.3L472.4 394.6L475.5 390.1L478.5 385.7L481.6 381.4M465.4 465.6 L462.5 459.8L459.5 454.0L456.6 448.6L453.7 443.6L450.8 438.8L447.9 433.9L444.9 428.9L442.0 423.9L439.1 418.9L436.2 413.9L433.3 408.8L430.3 403.9L427.4 399.2L424.5 394.6L421.6 390.2L418.7 385.8L415.8 381.4M423.4 462.8 L426.5 457.8L429.6 452.7L432.7 447.8L435.7 443.1L438.8 438.4L441.9 433.7L444.9 428.9L448.0 424.1L451.1 419.3L454.1 414.4L457.2 409.2L460.3 404.1L463.3 399.4L466.4 394.7L469.5 390.2L472.5 385.8L475.6 381.5M468.4 460.3 L465.5 454.2L462.6 448.8L459.7 443.8L456.8 439.0L453.8 434.1L450.9 429.1L448.0 424.1L445.1 419.1L442.2 414.0L439.2 408.9L436.3 404.0L433.4 399.3L430.5 394.7L427.6 390.2L424.7 385.9L421.8 381.5M420.5 457.5 L423.6 452.4L426.7 447.5L429.7 442.8L432.8 438.2L435.9 433.5L438.9 428.7L442.0 423.9L445.1 419.1L448.2 414.2L451.2 409.1L454.3 404.1L457.4 399.4L460.4 394.8L463.5 390.3L466.6 385.9L469.6 381.6M471.5 454.5 L468.6 448.9L465.7 444.0L462.8 439.1L459.8 434.3L456.9 429.3L454.0 424.3L451.1 419.3L448.2 414.2L445.2 409.0L442.3 404.1L439.4 399.3L436.5 394.8L433.6 390.3L430.7 385.9L427.8 381.6M417.6 452.1 L420.7 447.3L423.7 442.6L426.8 438.0L429.9 433.3L433.0 428.5L436.0 423.7L439.1 418.9L442.2 414.0L445.2 409.0L448.3 404.1L451.4 399.4L454.4 394.8L457.5 390.3L460.6 386.0L463.6 381.7M474.6 449.1 L471.7 444.1L468.7 439.3L465.8 434.4L462.9 429.5L460.0 424.6L457.1 419.5L454.1 414.4L451.2 409.1L448.3 404.1L445.4 399.4L442.5 394.8L439.6 390.4L436.6 386.0L433.7 381.7M414.7 447.0 L417.7 442.4L420.8 437.8L423.9 433.0L427.0 428.3L430.0 423.5L433.1 418.7L436.2 413.9L439.2 408.9L442.3 404.1L445.4 399.4L448.5 394.8L451.5 390.4L454.6 386.0L457.7 381.7M477.7 444.3 L474.7 439.5L471.8 434.6L468.9 429.7L466.0 424.8L463.0 419.7L460.1 414.5L457.2 409.2L454.3 404.1L451.4 399.4L448.5 394.8L445.5 390.4L442.6 386.0L439.7 381.7M411.8 442.1 L414.8 437.5L417.9 432.8L421.0 428.0L424.1 423.3L427.1 418.5L430.2 413.7L433.3 408.8L436.3 404.0L439.4 399.3L442.5 394.8L445.5 390.4L448.6 386.0L451.7 381.7M480.7 439.7 L477.8 434.8L474.9 429.9L472.0 425.0L469.0 419.9L466.1 414.6L463.2 409.3L460.3 404.1L457.4 399.4L454.4 394.8L451.5 390.4L448.6 386.0L445.7 381.7M408.8 437.3 L411.9 432.6L415.0 427.8L418.1 423.1L421.1 418.3L424.2 413.5L427.3 408.7L430.3 403.9L433.4 399.3L436.5 394.8L439.6 390.4L442.6 386.0L445.7 381.7M483.8 435.0 L480.9 430.1L477.9 425.2L475.0 420.1L472.1 414.8L469.2 409.3L466.3 404.1L463.3 399.4L460.4 394.8L457.5 390.3L454.6 386.0L451.7 381.7M405.9 432.3 L409.0 427.6L412.1 422.8L415.1 418.1L418.2 413.3L421.3 408.5L424.4 403.8L427.4 399.2L430.5 394.7L433.6 390.3L436.6 386.0L439.7 381.7M486.9 430.3 L483.9 425.4L481.0 420.3L478.1 414.9L475.2 409.4L472.3 404.1L469.3 399.3L466.4 394.7L463.5 390.3L460.6 386.0L457.7 381.7M403.0 427.3 L406.1 422.6L409.2 417.9L412.2 413.1L415.3 408.3L418.4 403.6L421.4 399.1L424.5 394.6L427.6 390.2L430.7 385.9L433.7 381.7M489.9 425.6 L487.0 420.5L484.1 415.0L481.2 409.4L478.3 404.0L475.3 399.2L472.4 394.6L469.5 390.2L466.6 385.9L463.6 381.7M400.1 422.3 L403.2 417.6L406.2 412.9L409.3 408.1L412.4 403.5L415.5 398.9L418.5 394.5L421.6 390.2L424.7 385.9L427.8 381.6M493.0 420.7 L490.1 415.1L487.2 409.4L484.2 404.0L481.3 399.1L478.4 394.5L475.5 390.1L472.5 385.8L469.6 381.6M397.2 417.4 L400.3 412.7L403.3 407.9L406.4 403.3L409.5 398.8L412.6 394.4L415.6 390.0L418.7 385.8L421.8 381.5M496.1 415.2 L493.2 409.4L490.2 403.9L487.3 399.0L484.4 394.4L481.5 390.0L478.5 385.7L475.6 381.5M394.3 412.4 L397.3 407.7L400.4 403.1L403.5 398.6L406.6 394.2L409.7 389.9L412.7 385.6L415.8 381.4M499.2 409.4 L496.2 403.8L493.3 398.8L490.4 394.3L487.5 389.8L484.5 385.6L481.6 381.4M391.3 407.5 L394.4 402.9L397.5 398.4L400.6 394.1L403.7 389.8L406.8 385.5L409.8 381.3M502.2 403.6 L499.3 398.7L496.4 394.1L493.5 389.7L490.5 385.4L487.6 381.2M388.4 402.6 L391.5 398.2L394.6 393.9L397.7 389.6L400.8 385.4L403.9 381.2M505.3 398.5 L502.4 393.9L499.5 389.5L496.5 385.2L493.6 381.1M385.5 398.0 L388.6 393.6L391.7 389.4L394.8 385.2L397.9 381.0M508.4 393.7 L505.5 389.3L502.5 385.0L499.6 380.9M382.6 393.4 L385.7 389.2L388.8 385.0L391.9 380.8M511.5 389.0 L508.5 384.8L505.6 380.7M379.8 388.9 L382.9 384.7L385.9 380.6M514.5 384.5 L511.6 380.5M376.9 384.5 L380.0 380.4" stroke="#000" stroke-opacity="0.8" stroke-width="1.1" fill="none"/>
<path d="M374.0 380.2 L371.1 375.9L368.3 371.7L365.4 367.5L362.5 363.3L359.7 359.2L356.8 355.1L354.0 351.1L351.2 347.3M517.6 380.2 L520.6 376.0L523.7 371.9L526.7 367.9L529.7 363.9L532.8 360.0L535.8 356.1L538.8 352.3L541.8 348.5M380.0 380.4 L377.1 376.1L374.2 371.9L371.4 367.7L368.5 363.6L365.6 359.4L362.8 355.4L359.9 351.4L357.1 347.5M511.6 380.5 L514.6 376.2L517.7 372.1L520.7 368.1L523.7 364.1L526.8 360.2L529.8 356.3L532.8 352.5L535.8 348.7M385.9 380.6 L383.1 376.4L380.2 372.1L377.3 367.9L374.5 363.8L371.6 359.6L368.7 355.6L365.9 351.6L363.0 347.7M505.6 380.7 L508.6 376.5L511.7 372.4L514.7 368.3L517.7 364.3L520.8 360.4L523.8 356.5L526.8 352.6L529.8 348.8M391.9 380.8 L389.0 376.6L386.2 372.3L383.3 368.2L380.4 364.0L377.6 359.9L374.7 355.8L371.8 351.8L369.0 348.0M499.6 380.9 L502.6 376.7L505.7 372.6L508.7 368.5L511.7 364.5L514.8 360.5L517.8 356.6L520.8 352.8L523.9 349.0M397.9 381.0 L395.0 376.7L392.1 372.5L389.3 368.3L386.4 364.2L383.5 360.1L380.6 356.0L377.8 352.0L374.9 348.2M493.6 381.1 L496.6 376.9L499.7 372.7L502.7 368.7L505.8 364.6L508.8 360.7L511.8 356.7L514.9 352.9L517.9 349.1M403.9 381.2 L401.0 376.9L398.1 372.7L395.2 368.5L392.3 364.4L389.5 360.2L386.6 356.2L383.7 352.2L380.9 348.4M487.6 381.2 L490.6 377.0L493.7 372.9L496.7 368.8L499.8 364.8L502.8 360.8L505.9 356.9L508.9 353.0L511.9 349.2M409.8 381.3 L407.0 377.1L404.1 372.8L401.2 368.7L398.3 364.5L395.4 360.4L392.6 356.3L389.7 352.4L386.8 348.5M481.6 381.4 L484.6 377.2L487.7 373.0L490.7 368.9L493.8 364.9L496.8 360.9L499.9 357.0L502.9 353.1L505.9 349.3M415.8 381.4 L412.9 377.2L410.0 373.0L407.1 368.8L404.3 364.7L401.4 360.6L398.5 356.5L395.6 352.5L392.8 348.7M475.6 381.5 L478.7 377.3L481.7 373.1L484.8 369.1L487.8 365.0L490.9 361.0L493.9 357.1L496.9 353.2L500.0 349.4M421.8 381.5 L418.9 377.3L416.0 373.1L413.1 368.9L410.2 364.8L407.3 360.7L404.5 356.6L401.6 352.7L398.7 348.8M469.6 381.6 L472.7 377.4L475.7 373.2L478.8 369.1L481.8 365.1L484.9 361.1L487.9 357.1L491.0 353.3L494.0 349.5M427.8 381.6 L424.9 377.4L422.0 373.2L419.1 369.0L416.2 364.9L413.3 360.8L410.4 356.8L407.6 352.8L404.7 349.0M463.6 381.7 L466.7 377.4L469.8 373.3L472.8 369.2L475.9 365.2L478.9 361.2L482.0 357.2L485.0 353.3L488.0 349.6M433.7 381.7 L430.8 377.5L427.9 373.3L425.0 369.1L422.2 365.0L419.3 360.9L416.4 356.9L413.5 352.9L410.6 349.1M457.7 381.7 L460.7 377.5L463.8 373.4L466.8 369.3L469.9 365.2L472.9 361.2L476.0 357.3L479.0 353.4L482.1 349.6M439.7 381.7 L436.8 377.5L433.9 373.3L431.0 369.2L428.1 365.1L425.2 361.0L422.3 357.0L419.5 353.1L416.6 349.2M451.7 381.7 L454.7 377.5L457.8 373.4L460.9 369.3L463.9 365.2L467.0 361.2L470.0 357.3L473.1 353.4L476.1 349.6M445.7 381.7 L442.8 377.5L439.9 373.4L437.0 369.3L434.1 365.2L431.2 361.1L428.3 357.1L425.4 353.2L422.5 349.3M445.7 381.7 L448.8 377.5L451.8 373.4L454.9 369.3L457.9 365.3L461.0 361.2L464.1 357.3L467.1 353.4L470.2 349.7M451.7 381.7 L448.8 377.5L445.9 373.4L442.9 369.3L440.0 365.2L437.1 361.2L434.3 357.2L431.4 353.2L428.5 349.4M439.7 381.7 L442.8 377.5L445.9 373.4L448.9 369.3L452.0 365.3L455.0 361.2L458.1 357.3L461.1 353.4L464.2 349.7M457.7 381.7 L454.7 377.5L451.8 373.4L448.9 369.3L446.0 365.2L443.1 361.2L440.2 357.2L437.3 353.3L434.4 349.5M433.7 381.7 L436.8 377.5L439.9 373.4L442.9 369.3L446.0 365.2L449.1 361.2L452.1 357.3L455.2 353.4L458.2 349.7M463.6 381.7 L460.7 377.5L457.8 373.4L454.9 369.3L452.0 365.3L449.1 361.2L446.2 357.3L443.3 353.4L440.4 349.6M427.8 381.6 L430.8 377.5L433.9 373.3L437.0 369.3L440.0 365.2L443.1 361.2L446.2 357.3L449.2 353.4L452.3 349.6M469.6 381.6 L466.7 377.4L463.8 373.4L460.9 369.3L457.9 365.3L455.0 361.2L452.1 357.3L449.2 353.4L446.3 349.6M421.8 381.5 L424.9 377.4L427.9 373.3L431.0 369.2L434.1 365.2L437.1 361.2L440.2 357.2L443.3 353.4L446.3 349.6M475.6 381.5 L472.7 377.4L469.8 373.3L466.8 369.3L463.9 365.2L461.0 361.2L458.1 357.3L455.2 353.4L452.3 349.6M415.8 381.4 L418.9 377.3L422.0 373.2L425.0 369.1L428.1 365.1L431.2 361.1L434.3 357.2L437.3 353.3L440.4 349.6M481.6 381.4 L478.7 377.3L475.7 373.2L472.8 369.2L469.9 365.2L467.0 361.2L464.1 357.3L461.1 353.4L458.2 349.7M409.8 381.3 L412.9 377.2L416.0 373.1L419.1 369.0L422.2 365.0L425.2 361.0L428.3 357.1L431.4 353.2L434.4 349.5M487.6 381.2 L484.6 377.2L481.7 373.1L478.8 369.1L475.9 365.2L472.9 361.2L470.0 357.3L467.1 353.4L464.2 349.7M403.9 381.2 L407.0 377.1L410.0 373.0L413.1 368.9L416.2 364.9L419.3 360.9L422.3 357.0L425.4 353.2L428.5 349.4M493.6 381.1 L490.6 377.0L487.7 373.0L484.8 369.1L481.8 365.1L478.9 361.2L476.0 357.3L473.1 353.4L470.2 349.7M397.9 381.0 L401.0 376.9L404.1 372.8L407.1 368.8L410.2 364.8L413.3 360.8L416.4 356.9L419.5 353.1L422.5 349.3M499.6 380.9 L496.6 376.9L493.7 372.9L490.7 368.9L487.8 365.0L484.9 361.1L482.0 357.2L479.0 353.4L476.1 349.6M391.9 380.8 L395.0 376.7L398.1 372.7L401.2 368.7L404.3 364.7L407.3 360.7L410.4 356.8L413.5 352.9L416.6 349.2M505.6 380.7 L502.6 376.7L499.7 372.7L496.7 368.8L493.8 364.9L490.9 361.0L487.9 357.1L485.0 353.3L482.1 349.6M385.9 380.6 L389.0 376.6L392.1 372.5L395.2 368.5L398.3 364.5L401.4 360.6L404.5 356.6L407.6 352.8L410.6 349.1M511.6 380.5 L508.6 376.5L505.7 372.6L502.7 368.7L499.8 364.8L496.8 360.9L493.9 357.1L491.0 353.3L488.0 349.6M380.0 380.4 L383.1 376.4L386.2 372.3L389.3 368.3L392.3 364.4L395.4 360.4L398.5 356.5L401.6 352.7L404.7 349.0M517.6 380.2 L514.6 376.2L511.7 372.4L508.7 368.5L505.8 364.6L502.8 360.8L499.9 357.0L496.9 353.2L494.0 349.5M374.0 380.2 L377.1 376.1L380.2 372.1L383.3 368.2L386.4 364.2L389.5 360.2L392.6 356.3L395.6 352.5L398.7 348.8M520.6 376.0 L517.7 372.1L514.7 368.3L511.7 364.5L508.8 360.7L505.9 356.9L502.9 353.1L500.0 349.4M371.1 375.9 L374.2 371.9L377.3 367.9L380.4 364.0L383.5 360.1L386.6 356.2L389.7 352.4L392.8 348.7M523.7 371.9 L520.7 368.1L517.7 364.3L514.8 360.5L511.8 356.7L508.9 353.0L505.9 349.3M368.3 371.7 L371.4 367.7L374.5 363.8L377.6 359.9L380.6 356.0L383.7 352.2L386.8 348.5M526.7 367.9 L523.7 364.1L520.8 360.4L517.8 356.6L514.9 352.9L511.9 349.2M365.4 367.5 L368.5 363.6L371.6 359.6L374.7 355.8L377.8 352.0L380.9 348.4M529.7 363.9 L526.8 360.2L523.8 356.5L520.8 352.8L517.9 349.1M362.5 363.3 L365.6 359.4L368.7 355.6L371.8 351.8L374.9 348.2M532.8 360.0 L529.8 356.3L526.8 352.6L523.9 349.0M359.7 359.2 L362.8 355.4L365.9 351.6L369.0 348.0M535.8 356.1 L532.8 352.5L529.8 348.8M356.8 355.1 L359.9 351.4L363.0 347.7M538.8 352.3 L535.8 348.7M354.0 351.1 L357.1 347.5" stroke="#000" stroke-opacity="0.72" stroke-width="1.05" fill="none"/>
<path d="M351.2 347.3 L348.3 343.6L345.5 339.9L342.7 336.2L339.9 332.7L337.1 329.2L334.4 325.9L331.6 322.9L328.9 320.1M541.8 348.5 L544.8 344.8L547.8 341.2L550.8 337.7L553.8 334.2L556.8 330.8L559.7 327.5L562.7 324.3L565.6 321.2L568.6 318.2M357.1 347.5 L354.3 343.8L351.5 340.1L348.6 336.5L345.8 332.9L343.1 329.4L340.3 326.2L337.5 323.1L334.8 320.3M535.8 348.7 L538.8 345.0L541.8 341.4L544.8 337.8L547.8 334.4L550.8 331.0L553.8 327.7L556.7 324.5L559.7 321.4L562.6 318.4M363.0 347.7 L360.2 344.0L357.4 340.4L354.6 336.7L351.8 333.1L349.0 329.7L346.2 326.4L343.4 323.4L340.7 320.6M529.8 348.8 L532.8 345.2L535.9 341.5L538.9 338.0L541.8 334.5L544.8 331.1L547.8 327.8L550.8 324.7L553.7 321.6L556.7 318.6M369.0 348.0 L366.2 344.2L363.3 340.6L360.5 336.9L357.7 333.3L354.9 329.9L352.1 326.6L349.3 323.6L346.6 320.8M523.9 349.0 L526.9 345.3L529.9 341.7L532.9 338.1L535.9 334.6L538.9 331.3L541.8 328.0L544.8 324.8L547.8 321.7M374.9 348.2 L372.1 344.4L369.3 340.8L366.5 337.1L363.6 333.6L360.8 330.1L358.0 326.8L355.3 323.8L352.5 321.0M517.9 349.1 L520.9 345.4L523.9 341.8L526.9 338.3L529.9 334.8L532.9 331.4L535.9 328.1L538.9 324.9L541.8 321.9M380.9 348.4 L378.1 344.6L375.2 341.0L372.4 337.3L369.6 333.7L366.8 330.3L364.0 327.0L361.2 324.0L358.4 321.2M511.9 349.2 L514.9 345.5L517.9 341.9L520.9 338.4L523.9 334.9L526.9 331.5L529.9 328.2L532.9 325.1L535.9 322.0M386.8 348.5 L384.0 344.8L381.2 341.2L378.3 337.5L375.5 333.9L372.7 330.5L369.9 327.2L367.1 324.2L364.3 321.4M505.9 349.3 L509.0 345.7L512.0 342.0L515.0 338.5L518.0 335.0L521.0 331.6L524.0 328.3L527.0 325.2L529.9 322.2M392.8 348.7 L389.9 345.0L387.1 341.3L384.3 337.7L381.4 334.1L378.6 330.7L375.8 327.4L373.0 324.4L370.2 321.6M500.0 349.4 L503.0 345.7L506.0 342.1L509.0 338.6L512.0 335.1L515.0 331.7L518.0 328.4L521.0 325.3L524.0 322.3M398.7 348.8 L395.9 345.1L393.0 341.5L390.2 337.8L387.3 334.3L384.5 330.8L381.7 327.6L378.9 324.5L376.1 321.7M494.0 349.5 L497.0 345.8L500.1 342.2L503.1 338.6L506.1 335.2L509.1 331.8L512.1 328.5L515.1 325.4L518.1 322.4M404.7 349.0 L401.8 345.3L399.0 341.6L396.1 338.0L393.3 334.4L390.4 331.0L387.6 327.7L384.8 324.7L382.0 321.9M488.0 349.6 L491.1 345.9L494.1 342.3L497.1 338.7L500.1 335.2L503.1 331.8L506.1 328.6L509.1 325.5L512.1 322.5M410.6 349.1 L407.8 345.4L404.9 341.8L402.1 338.1L399.2 334.6L396.4 331.1L393.5 327.9L390.7 324.8L387.9 322.1M482.1 349.6 L485.1 345.9L488.1 342.3L491.2 338.8L494.2 335.3L497.2 331.9L500.2 328.6L503.2 325.5L506.2 322.6M416.6 349.2 L413.7 345.5L410.8 341.9L408.0 338.3L405.1 334.7L402.3 331.3L399.5 328.0L396.6 325.0L393.8 322.2M476.1 349.6 L479.1 346.0L482.2 342.4L485.2 338.8L488.2 335.3L491.3 331.9L494.3 328.7L497.3 325.6L500.3 322.7M422.5 349.3 L419.7 345.6L416.8 342.0L413.9 338.4L411.1 334.8L408.2 331.4L405.4 328.1L402.5 325.1L399.7 322.3M470.2 349.7 L473.2 346.0L476.2 342.4L479.3 338.8L482.3 335.4L485.3 332.0L488.3 328.7L491.3 325.7L494.3 322.7M428.5 349.4 L425.6 345.7L422.7 342.1L419.9 338.5L417.0 334.9L414.1 331.5L411.3 328.3L408.5 325.2L405.6 322.4M464.2 349.7 L467.2 346.0L470.3 342.4L473.3 338.9L476.3 335.4L479.4 332.0L482.4 328.8L485.4 325.7L488.4 322.8M434.4 349.5 L431.5 345.8L428.7 342.2L425.8 338.6L422.9 335.0L420.1 331.6L417.2 328.4L414.4 325.3L411.5 322.5M458.2 349.7 L461.3 346.0L464.3 342.4L467.4 338.9L470.4 335.4L473.4 332.0L476.5 328.8L479.5 325.7L482.5 322.8M440.4 349.6 L437.5 345.9L434.6 342.2L431.7 338.6L428.9 335.1L426.0 331.7L423.1 328.4L420.3 325.4L417.4 322.6M452.3 349.6 L455.3 346.0L458.4 342.4L461.4 338.9L464.5 335.4L467.5 332.0L470.5 328.8L473.6 325.7L476.6 322.9M446.3 349.6 L443.4 345.9L440.6 342.3L437.7 338.7L434.8 335.2L431.9 331.8L429.1 328.5L426.2 325.5L423.4 322.7M446.3 349.6 L449.4 346.0L452.4 342.4L455.5 338.8L458.5 335.4L461.6 332.0L464.6 328.8L467.6 325.8L470.6 322.9M452.3 349.6 L449.4 346.0L446.5 342.4L443.6 338.8L440.7 335.2L437.8 331.8L435.0 328.6L432.1 325.6L429.3 322.8M440.4 349.6 L443.4 345.9L446.5 342.4L449.5 338.8L452.6 335.3L455.6 332.0L458.7 328.8L461.7 325.8L464.7 322.9M458.2 349.7 L455.3 346.0L452.4 342.4L449.5 338.8L446.7 335.3L443.8 331.9L440.9 328.7L438.0 325.6L435.2 322.8M434.4 349.5 L437.5 345.9L440.6 342.3L443.6 338.8L446.7 335.3L449.7 331.9L452.7 328.7L455.8 325.7L458.8 322.9M464.2 349.7 L461.3 346.0L458.4 342.4L455.5 338.8L452.6 335.3L449.7 331.9L446.8 328.7L443.9 325.7L441.1 322.9M428.5 349.4 L431.5 345.8L434.6 342.2L437.7 338.7L440.7 335.2L443.8 331.9L446.8 328.7L449.9 325.7L452.9 322.9M470.2 349.7 L467.2 346.0L464.3 342.4L461.4 338.9L458.5 335.4L455.6 332.0L452.7 328.7L449.9 325.7L447.0 322.9M422.5 349.3 L425.6 345.7L428.7 342.2L431.7 338.6L434.8 335.2L437.8 331.8L440.9 328.7L443.9 325.7L447.0 322.9M476.1 349.6 L473.2 346.0L470.3 342.4L467.4 338.9L464.5 335.4L461.6 332.0L458.7 328.8L455.8 325.7L452.9 322.9M416.6 349.2 L419.7 345.6L422.7 342.1L425.8 338.6L428.9 335.1L431.9 331.8L435.0 328.6L438.0 325.6L441.1 322.9M482.1 349.6 L479.1 346.0L476.2 342.4L473.3 338.9L470.4 335.4L467.5 332.0L464.6 328.8L461.7 325.8L458.8 322.9M410.6 349.1 L413.7 345.5L416.8 342.0L419.9 338.5L422.9 335.0L426.0 331.7L429.1 328.5L432.1 325.6L435.2 322.8M488.0 349.6 L485.1 345.9L482.2 342.4L479.3 338.8L476.3 335.4L473.4 332.0L470.5 328.8L467.6 325.8L464.7 322.9M404.7 349.0 L407.8 345.4L410.8 341.9L413.9 338.4L417.0 334.9L420.1 331.6L423.1 328.4L426.2 325.5L429.3 322.8M494.0 349.5 L491.1 345.9L488.1 342.3L485.2 338.8L482.3 335.4L479.4 332.0L476.5 328.8L473.6 325.7L470.6 322.9M398.7 348.8 L401.8 345.3L404.9 341.8L408.0 338.3L411.1 334.8L414.1 331.5L417.2 328.4L420.3 325.4L423.4 322.7M500.0 349.4 L497.0 345.8L494.1 342.3L491.2 338.8L488.2 335.3L485.3 332.0L482.4 328.8L479.5 325.7L476.6 322.9M392.8 348.7 L395.9 345.1L399.0 341.6L402.1 338.1L405.1 334.7L408.2 331.4L411.3 328.3L414.4 325.3L417.4 322.6M505.9 349.3 L503.0 345.7L500.1 342.2L497.1 338.7L494.2 335.3L491.3 331.9L488.3 328.7L485.4 325.7L482.5 322.8M386.8 348.5 L389.9 345.0L393.0 341.5L396.1 338.0L399.2 334.6L402.3 331.3L405.4 328.1L408.5 325.2L411.5 322.5M511.9 349.2 L509.0 345.7L506.0 342.1L503.1 338.6L500.1 335.2L497.2 331.9L494.3 328.7L491.3 325.7L488.4 322.8M380.9 348.4 L384.0 344.8L387.1 341.3L390.2 337.8L393.3 334.4L396.4 331.1L399.5 328.0L402.5 325.1L405.6 322.4M517.9 349.1 L514.9 345.5L512.0 342.0L509.0 338.6L506.1 335.2L503.1 331.8L500.2 328.6L497.3 325.6L494.3 322.7M374.9 348.2 L378.1 344.6L381.2 341.2L384.3 337.7L387.3 334.3L390.4 331.0L393.5 327.9L396.6 325.0L399.7 322.3M523.9 349.0 L520.9 345.4L517.9 341.9L515.0 338.5L512.0 335.1L509.1 331.8L506.1 328.6L503.2 325.5L500.3 322.7M369.0 348.0 L372.1 344.4L375.2 341.0L378.3 337.5L381.4 334.1L384.5 330.8L387.6 327.7L390.7 324.8L393.8 322.2M529.8 348.8 L526.9 345.3L523.9 341.8L520.9 338.4L518.0 335.0L515.0 331.7L512.1 328.5L509.1 325.5L506.2 322.6M363.0 347.7 L366.2 344.2L369.3 340.8L372.4 337.3L375.5 333.9L378.6 330.7L381.7 327.6L384.8 324.7L387.9 322.1M535.8 348.7 L532.8 345.2L529.9 341.7L526.9 338.3L523.9 334.9L521.0 331.6L518.0 328.4L515.1 325.4L512.1 322.5M357.1 347.5 L360.2 344.0L363.3 340.6L366.5 337.1L369.6 333.7L372.7 330.5L375.8 327.4L378.9 324.5L382.0 321.9M541.8 348.5 L538.8 345.0L535.9 341.5L532.9 338.1L529.9 334.8L526.9 331.5L524.0 328.3L521.0 325.3L518.1 322.4M351.2 347.3 L354.3 343.8L357.4 340.4L360.5 336.9L363.6 333.6L366.8 330.3L369.9 327.2L373.0 324.4L376.1 321.7M544.8 344.8 L541.8 341.4L538.9 338.0L535.9 334.6L532.9 331.4L529.9 328.2L527.0 325.2L524.0 322.3M348.3 343.6 L351.5 340.1L354.6 336.7L357.7 333.3L360.8 330.1L364.0 327.0L367.1 324.2L370.2 321.6M547.8 341.2 L544.8 337.8L541.8 334.5L538.9 331.3L535.9 328.1L532.9 325.1L529.9 322.2M345.5 339.9 L348.6 336.5L351.8 333.1L354.9 329.9L358.0 326.8L361.2 324.0L364.3 321.4M550.8 337.7 L547.8 334.4L544.8 331.1L541.8 328.0L538.9 324.9L535.9 322.0M342.7 336.2 L345.8 332.9L349.0 329.7L352.1 326.6L355.3 323.8L358.4 321.2M553.8 334.2 L550.8 331.0L547.8 327.8L544.8 324.8L541.8 321.9M339.9 332.7 L343.1 329.4L346.2 326.4L349.3 323.6L352.5 321.0M556.8 330.8 L553.8 327.7L550.8 324.7L547.8 321.7M337.1 329.2 L340.3 326.2L343.4 323.4L346.6 320.8M559.7 327.5 L556.7 324.5L553.7 321.6M334.4 325.9 L337.5 323.1L340.7 320.6M562.7 324.3 L559.7 321.4L556.7 318.6M331.6 322.9 L334.8 320.3M565.6 321.2 L562.6 318.4" stroke="#000" stroke-opacity="0.62" stroke-width="1.0" fill="none"/>
<path d="M328.9 320.1 L326.2 317.4L323.5 314.8L320.8 312.2L318.1 309.7L315.4 307.2L312.8 304.8L310.1 302.4L307.5 300.1L304.8 297.8L302.2 295.6L299.6 293.4L297.0 291.2L294.4 289.0L291.8 286.9L289.2 284.7L286.7 282.6L284.1 280.6L281.6 278.5L279.0 276.5L276.5 274.6L274.1 273.4L271.7 272.7L269.4 272.5M568.6 318.2 L571.5 315.1L574.4 312.2L577.3 309.2L580.2 306.4L583.1 303.6L586.0 300.9L588.9 298.3L591.7 295.8L594.6 293.3L597.4 290.9L600.2 288.5L603.1 286.1L605.9 283.8L608.7 281.5L611.5 279.3L614.2 277.2L617.0 275.1L619.7 273.2L622.5 271.4L625.1 270.0L627.8 268.9L630.4 268.0L633.0 267.3L635.5 266.8L638.0 266.5L640.5 266.2L643.0 266.0L645.5 265.8L648.0 265.7M334.8 320.3 L332.1 317.6L329.4 315.0L326.7 312.4L324.0 309.9L321.3 307.4L318.6 305.0L315.9 302.6L313.3 300.3L310.7 298.1L308.0 295.8L305.4 293.6L302.8 291.4L300.2 289.3L297.6 287.1L295.0 285.0L292.5 282.9L289.9 280.8L287.3 278.7L284.8 276.7L282.3 274.8L279.8 273.6L277.4 273.0L275.1 272.8M562.6 318.4 L565.5 315.4L568.5 312.4L571.4 309.5L574.3 306.7L577.2 303.9L580.1 301.2L582.9 298.6L585.8 296.1L588.7 293.7L591.5 291.2L594.3 288.9L597.2 286.5L600.0 284.2L602.8 281.9L605.6 279.7L608.4 277.5L611.1 275.5L613.9 273.5L616.6 271.8L619.3 270.4L621.9 269.2L624.6 268.4L627.2 267.7L629.7 267.2L632.3 266.9L634.8 266.7L637.3 266.5L639.8 266.3L642.2 266.1M340.7 320.6 L338.0 317.9L335.2 315.2L332.5 312.7L329.8 310.1L327.1 307.7L324.5 305.2L321.8 302.9L319.1 300.6L316.5 298.3L313.9 296.1L311.2 293.8L308.6 291.6L306.0 289.5L303.4 287.3L300.8 285.2L298.2 283.1L295.6 281.0L293.1 279.0L290.5 277.0L288.0 275.1L285.5 273.8L283.1 273.2L280.8 273.0M556.7 318.6 L559.6 315.6L562.5 312.6L565.4 309.7L568.4 306.9L571.3 304.2L574.1 301.5L577.0 298.9L579.9 296.4L582.8 294.0L585.6 291.6L588.4 289.2L591.3 286.8L594.1 284.5L596.9 282.2L599.7 280.0L602.5 277.9L605.3 275.8L608.0 273.9L610.8 272.2L613.5 270.7L616.1 269.6L618.8 268.7L621.4 268.1L623.9 267.6L626.5 267.3L629.0 267.1L631.5 266.9L634.0 266.7L636.5 266.6M346.6 320.8 L343.9 318.1L341.1 315.5L338.4 312.9L335.7 310.3L333.0 307.9L330.3 305.5L327.6 303.1L325.0 300.8L322.3 298.5L319.7 296.3L317.0 294.1L314.4 291.9L311.8 289.7L309.2 287.5L306.6 285.4L304.0 283.3L301.4 281.2L298.8 279.1L296.3 277.1L293.7 275.3L291.2 274.0L288.8 273.4L286.5 273.2M547.8 321.7 L550.7 318.7L553.7 315.8L556.6 312.8L559.5 310.0L562.4 307.2L565.3 304.4L568.2 301.8L571.1 299.2L574.0 296.7L576.8 294.3L579.7 291.9L582.5 289.5L585.4 287.1L588.2 284.8L591.0 282.5L593.8 280.3L596.6 278.2L599.4 276.2L602.2 274.2L604.9 272.5L607.6 271.1L610.3 270.0L612.9 269.1L615.6 268.5L618.1 268.0L620.7 267.7L623.2 267.5L625.8 267.3L628.3 267.2L630.8 267.1M352.5 321.0 L349.8 318.3L347.0 315.7L344.3 313.1L341.6 310.6L338.9 308.1L336.2 305.7L333.5 303.3L330.8 301.0L328.2 298.7L325.5 296.5L322.9 294.3L320.2 292.0L317.6 289.9L315.0 287.7L312.4 285.6L309.8 283.5L307.2 281.4L304.6 279.3L302.0 277.3L299.5 275.5L297.0 274.2L294.5 273.6L292.2 273.5M541.8 321.9 L544.8 318.9L547.7 315.9L550.7 313.0L553.6 310.2L556.5 307.4L559.4 304.7L562.3 302.0L565.2 299.5L568.1 297.0L570.9 294.6L573.8 292.2L576.7 289.8L579.5 287.4L582.3 285.1L585.2 282.9L588.0 280.7L590.8 278.5L593.6 276.5L596.3 274.6L599.1 272.9L601.8 271.4L604.5 270.3L607.1 269.4L609.8 268.8L612.4 268.4L614.9 268.1L617.5 267.9L620.0 267.7L622.5 267.6L625.0 267.5M358.4 321.2 L355.7 318.5L352.9 315.9L350.2 313.3L347.5 310.7L344.7 308.3L342.0 305.8L339.3 303.5L336.7 301.2L334.0 298.9L331.3 296.7L328.7 294.4L326.0 292.2L323.4 290.0L320.8 287.9L318.1 285.7L315.5 283.6L312.9 281.6L310.3 279.5L307.8 277.5L305.2 275.6L302.7 274.4L300.3 273.8L297.9 273.7M535.9 322.0 L538.8 319.1L541.8 316.1L544.7 313.2L547.7 310.4L550.6 307.6L553.5 304.9L556.4 302.3L559.3 299.7L562.2 297.3L565.1 294.9L567.9 292.5L570.8 290.1L573.6 287.7L576.5 285.4L579.3 283.2L582.1 281.0L584.9 278.9L587.7 276.8L590.5 274.9L593.3 273.2L596.0 271.8L598.7 270.6L601.3 269.8L604.0 269.2L606.6 268.8L609.2 268.5L611.7 268.3L614.3 268.1L616.8 268.0L619.3 268.0M364.3 321.4 L361.5 318.7L358.8 316.1L356.1 313.5L353.3 310.9L350.6 308.5L347.9 306.0L345.2 303.7L342.5 301.3L339.8 299.1L337.2 296.8L334.5 294.6L331.8 292.4L329.2 290.2L326.6 288.1L323.9 285.9L321.3 283.8L318.7 281.7L316.1 279.7L313.5 277.7L310.9 275.8L308.4 274.6L306.0 274.0L303.6 273.9M529.9 322.2 L532.9 319.2L535.8 316.3L538.8 313.4L541.7 310.6L544.7 307.8L547.6 305.1L550.5 302.5L553.4 300.0L556.3 297.5L559.2 295.1L562.0 292.7L564.9 290.4L567.8 288.0L570.6 285.7L573.4 283.5L576.3 281.3L579.1 279.2L581.9 277.1L584.7 275.2L587.4 273.5L590.2 272.1L592.9 271.0L595.5 270.1L598.2 269.5L600.8 269.2L603.4 268.9L606.0 268.7L608.5 268.5L611.1 268.4M370.2 321.6 L367.4 318.9L364.7 316.2L361.9 313.6L359.2 311.1L356.5 308.6L353.8 306.2L351.0 303.8L348.3 301.5L345.7 299.2L343.0 297.0L340.3 294.8L337.6 292.6L335.0 290.4L332.3 288.2L329.7 286.1L327.1 284.0L324.5 281.9L321.9 279.9L319.3 277.9L316.7 276.0L314.2 274.8L311.7 274.2L309.3 274.0M524.0 322.3 L527.0 319.3L529.9 316.4L532.9 313.6L535.8 310.8L538.7 308.0L541.7 305.4L544.6 302.8L547.5 300.2L550.4 297.8L553.3 295.4L556.2 293.0L559.0 290.6L561.9 288.3L564.7 286.0L567.6 283.8L570.4 281.6L573.2 279.4L576.1 277.4L578.8 275.5L581.6 273.8L584.4 272.4L587.1 271.3L589.8 270.4L592.4 269.9L595.0 269.5L597.6 269.3L600.2 269.1L602.8 268.9L605.4 268.8M376.1 321.7 L373.3 319.0L370.6 316.4L367.8 313.8L365.1 311.3L362.3 308.8L359.6 306.4L356.9 304.0L354.2 301.7L351.5 299.4L348.8 297.2L346.1 294.9L343.4 292.7L340.8 290.5L338.1 288.4L335.5 286.2L332.8 284.1L330.2 282.0L327.6 280.0L325.0 278.0L322.4 276.2L319.9 275.0L317.4 274.4L315.0 274.2M518.1 322.4 L521.0 319.5L524.0 316.6L526.9 313.8L529.9 311.0L532.8 308.2L535.8 305.6L538.7 303.0L541.6 300.5L544.5 298.0L547.4 295.6L550.3 293.3L553.2 290.9L556.0 288.6L558.9 286.3L561.7 284.0L564.6 281.8L567.4 279.7L570.2 277.7L573.0 275.8L575.8 274.1L578.6 272.7L581.3 271.6L584.0 270.7L586.6 270.2L589.3 269.9L591.9 269.6L594.5 269.5L597.1 269.3L599.6 269.2M382.0 321.9 L379.2 319.2L376.5 316.5L373.7 314.0L370.9 311.4L368.2 308.9L365.5 306.5L362.7 304.1L360.0 301.8L357.3 299.5L354.6 297.3L351.9 295.1L349.3 292.9L346.6 290.7L343.9 288.5L341.3 286.4L338.6 284.3L336.0 282.2L333.4 280.2L330.7 278.2L328.1 276.3L325.6 275.1L323.1 274.6L320.7 274.4M512.1 322.5 L515.1 319.6L518.1 316.7L521.0 313.9L524.0 311.1L526.9 308.4L529.9 305.8L532.8 303.2L535.7 300.7L538.6 298.3L541.5 295.9L544.4 293.5L547.3 291.1L550.2 288.8L553.0 286.5L555.9 284.3L558.7 282.1L561.6 280.0L564.4 278.0L567.2 276.1L570.0 274.4L572.8 273.0L575.5 271.8L578.2 271.0L580.9 270.5L583.5 270.2L586.1 270.0L588.7 269.8L591.3 269.7L593.9 269.6M387.9 322.1 L385.1 319.3L382.4 316.7L379.6 314.1L376.8 311.6L374.1 309.1L371.3 306.6L368.6 304.3L365.9 301.9L363.1 299.7L360.4 297.4L357.7 295.2L355.1 293.0L352.4 290.8L349.7 288.6L347.0 286.5L344.4 284.4L341.7 282.3L339.1 280.3L336.5 278.3L333.9 276.5L331.3 275.3L328.8 274.7L326.4 274.5M506.2 322.6 L509.2 319.7L512.1 316.8L515.1 314.0L518.1 311.3L521.0 308.6L524.0 306.0L526.9 303.4L529.8 300.9L532.7 298.5L535.6 296.1L538.5 293.7L541.4 291.4L544.3 289.1L547.2 286.8L550.0 284.5L552.9 282.4L555.7 280.3L558.6 278.2L561.4 276.3L564.2 274.7L567.0 273.2L569.7 272.1L572.4 271.3L575.1 270.8L577.8 270.5L580.4 270.3L583.0 270.2L585.6 270.0M393.8 322.2 L391.0 319.5L388.2 316.8L385.5 314.2L382.7 311.7L379.9 309.2L377.2 306.8L374.4 304.4L371.7 302.1L369.0 299.8L366.3 297.6L363.6 295.3L360.9 293.1L358.2 290.9L355.5 288.8L352.8 286.6L350.2 284.5L347.5 282.5L344.9 280.4L342.2 278.4L339.6 276.6L337.1 275.4L334.5 274.8L332.1 274.7M500.3 322.7 L503.2 319.8L506.2 317.0L509.2 314.2L512.2 311.4L515.1 308.8L518.1 306.1L521.0 303.6L523.9 301.1L526.9 298.7L529.8 296.3L532.7 294.0L535.6 291.6L538.5 289.3L541.3 287.0L544.2 284.8L547.1 282.6L549.9 280.5L552.8 278.5L555.6 276.6L558.4 274.9L561.2 273.5L563.9 272.4L566.6 271.6L569.3 271.1L572.0 270.8L574.7 270.7L577.3 270.5L579.9 270.4M399.7 322.3 L396.9 319.6L394.1 316.9L391.3 314.3L388.6 311.8L385.8 309.3L383.0 306.9L380.3 304.5L377.5 302.2L374.8 299.9L372.1 297.7L369.4 295.4L366.7 293.2L364.0 291.1L361.3 288.9L358.6 286.7L355.9 284.6L353.3 282.6L350.6 280.5L348.0 278.6L345.4 276.7L342.8 275.6L340.2 275.0L337.7 274.8M494.3 322.7 L497.3 319.9L500.3 317.1L503.3 314.3L506.3 311.6L509.2 308.9L512.2 306.3L515.1 303.8L518.1 301.3L521.0 298.9L523.9 296.5L526.8 294.2L529.7 291.8L532.6 289.5L535.5 287.2L538.4 285.0L541.2 282.8L544.1 280.7L546.9 278.7L549.8 276.8L552.6 275.2L555.4 273.7L558.1 272.6L560.9 271.9L563.6 271.4L566.3 271.2L568.9 271.0L571.6 270.8L574.2 270.7M405.6 322.4 L402.8 319.7L400.0 317.0L397.2 314.4L394.4 311.9L391.7 309.4L388.9 307.0L386.1 304.6L383.4 302.3L380.6 300.0L377.9 297.8L375.2 295.5L372.5 293.3L369.8 291.2L367.1 289.0L364.4 286.9L361.7 284.7L359.0 282.7L356.4 280.7L353.7 278.7L351.1 276.8L348.5 275.7L346.0 275.1L343.4 274.9M488.4 322.8 L491.4 320.0L494.4 317.2L497.4 314.4L500.4 311.7L503.3 309.0L506.3 306.5L509.2 303.9L512.2 301.5L515.1 299.1L518.0 296.7L520.9 294.4L523.9 292.0L526.8 289.7L529.7 287.5L532.5 285.2L535.4 283.1L538.3 281.0L541.1 278.9L544.0 277.1L546.8 275.4L549.6 273.9L552.4 272.9L555.1 272.2L557.8 271.7L560.5 271.5L563.2 271.3L565.8 271.1L568.5 271.1M411.5 322.5 L408.7 319.8L405.9 317.1L403.1 314.5L400.3 312.0L397.5 309.5L394.7 307.1L392.0 304.7L389.2 302.4L386.5 300.1L383.7 297.9L381.0 295.6L378.3 293.4L375.6 291.2L372.9 289.1L370.2 286.9L367.5 284.8L364.8 282.8L362.1 280.8L359.5 278.8L356.8 277.0L354.2 275.8L351.7 275.2L349.1 275.1M482.5 322.8 L485.5 320.0L488.5 317.2L491.5 314.5L494.5 311.8L497.4 309.2L500.4 306.6L503.3 304.1L506.3 301.6L509.2 299.2L512.2 296.9L515.1 294.5L518.0 292.2L520.9 289.9L523.8 287.7L526.7 285.4L529.6 283.3L532.5 281.2L535.3 279.2L538.2 277.3L541.0 275.6L543.8 274.2L546.6 273.1L549.3 272.4L552.1 272.0L554.8 271.7L557.5 271.6L560.1 271.4M417.4 322.6 L414.6 319.9L411.8 317.2L409.0 314.6L406.2 312.1L403.4 309.6L400.6 307.1L397.8 304.8L395.1 302.4L392.3 300.2L389.6 297.9L386.8 295.7L384.1 293.5L381.4 291.3L378.6 289.2L375.9 287.0L373.2 284.9L370.6 282.9L367.9 280.8L365.2 278.9L362.6 277.1L359.9 275.9L357.4 275.3L354.8 275.2M476.6 322.9 L479.6 320.1L482.6 317.3L485.6 314.6L488.6 311.9L491.5 309.3L494.5 306.7L497.5 304.2L500.4 301.8L503.4 299.4L506.3 297.0L509.2 294.7L512.2 292.4L515.1 290.1L518.0 287.9L520.9 285.6L523.8 283.5L526.6 281.4L529.5 279.4L532.4 277.5L535.2 275.8L538.0 274.4L540.8 273.3L543.6 272.7L546.3 272.3L549.0 272.0L551.7 271.9L554.4 271.7M423.4 322.7 L420.5 320.0L417.7 317.3L414.9 314.7L412.1 312.1L409.3 309.6L406.5 307.2L403.7 304.8L400.9 302.5L398.1 300.2L395.4 298.0L392.6 295.8L389.9 293.6L387.2 291.4L384.4 289.2L381.7 287.1L379.0 285.0L376.3 282.9L373.6 280.9L371.0 279.0L368.3 277.2L365.7 276.0L363.1 275.4L360.5 275.2M470.6 322.9 L473.7 320.1L476.7 317.4L479.7 314.7L482.7 312.0L485.6 309.4L488.6 306.8L491.6 304.3L494.6 301.9L497.5 299.5L500.4 297.2L503.4 294.9L506.3 292.6L509.2 290.3L512.1 288.0L515.1 285.8L517.9 283.7L520.8 281.6L523.7 279.6L526.6 277.7L529.4 276.0L532.2 274.6L535.0 273.5L537.8 272.9L540.6 272.5L543.3 272.3L546.0 272.2L548.7 272.0M429.3 322.8 L426.4 320.0L423.6 317.4L420.8 314.7L417.9 312.2L415.1 309.7L412.3 307.3L409.5 304.9L406.7 302.6L404.0 300.3L401.2 298.1L398.4 295.8L395.7 293.6L393.0 291.5L390.2 289.3L387.5 287.2L384.8 285.1L382.1 283.0L379.4 281.0L376.7 279.1L374.0 277.2L371.4 276.1L368.8 275.5L366.2 275.3M464.7 322.9 L467.8 320.1L470.8 317.4L473.8 314.7L476.8 312.1L479.8 309.5L482.7 306.9L485.7 304.5L488.7 302.0L491.6 299.7L494.6 297.3L497.5 295.0L500.5 292.7L503.4 290.5L506.3 288.2L509.2 286.0L512.1 283.9L515.0 281.8L517.9 279.7L520.8 277.9L523.6 276.2L526.5 274.8L529.3 273.7L532.1 273.1L534.8 272.8L537.6 272.6L540.3 272.4L543.0 272.3M435.2 322.8 L432.3 320.1L429.5 317.4L426.6 314.8L423.8 312.2L421.0 309.7L418.2 307.3L415.4 304.9L412.6 302.6L409.8 300.3L407.0 298.1L404.3 295.9L401.5 293.7L398.8 291.5L396.0 289.3L393.3 287.2L390.6 285.1L387.8 283.1L385.1 281.1L382.5 279.1L379.8 277.3L377.1 276.2L374.5 275.6L371.9 275.4M458.8 322.9 L461.8 320.2L464.9 317.4L467.9 314.8L470.9 312.1L473.9 309.6L476.9 307.0L479.8 304.6L482.8 302.2L485.8 299.8L488.7 297.5L491.7 295.2L494.6 292.9L497.6 290.6L500.5 288.4L503.4 286.2L506.3 284.0L509.2 281.9L512.1 279.9L515.0 278.1L517.9 276.4L520.7 274.9L523.5 273.9L526.3 273.3L529.1 273.0L531.8 272.8L534.6 272.7L537.3 272.6M441.1 322.9 L438.2 320.1L435.4 317.4L432.5 314.8L429.7 312.3L426.9 309.8L424.0 307.3L421.2 305.0L418.4 302.6L415.6 300.4L412.9 298.1L410.1 295.9L407.3 293.7L404.6 291.5L401.8 289.4L399.1 287.3L396.3 285.2L393.6 283.1L390.9 281.1L388.2 279.2L385.5 277.4L382.9 276.2L380.2 275.6L377.6 275.5M452.9 322.9 L455.9 320.2L459.0 317.5L462.0 314.8L465.0 312.2L468.0 309.6L471.0 307.1L474.0 304.7L477.0 302.3L479.9 299.9L482.9 297.6L485.9 295.3L488.8 293.0L491.7 290.7L494.7 288.5L497.6 286.3L500.5 284.2L503.4 282.1L506.3 280.1L509.2 278.2L512.1 276.5L514.9 275.1L517.8 274.1L520.6 273.5L523.4 273.2L526.1 273.1L528.9 272.9L531.6 272.8M447.0 322.9 L444.1 320.1L441.3 317.5L438.4 314.8L435.6 312.3L432.7 309.8L429.9 307.3L427.1 305.0L424.3 302.7L421.5 300.4L418.7 298.2L415.9 295.9L413.1 293.7L410.4 291.6L407.6 289.4L404.9 287.3L402.1 285.2L399.4 283.2L396.7 281.2L393.9 279.2L391.2 277.5L388.6 276.3L385.9 275.7L383.3 275.5M447.0 322.9 L450.0 320.2L453.1 317.5L456.1 314.8L459.1 312.2L462.1 309.7L465.1 307.2L468.1 304.7L471.1 302.4L474.1 300.0L477.0 297.7L480.0 295.4L483.0 293.1L485.9 290.9L488.9 288.7L491.8 286.5L494.7 284.3L497.6 282.2L500.5 280.2L503.4 278.4L506.3 276.7L509.2 275.2L512.0 274.3L514.8 273.7L517.6 273.4L520.4 273.3L523.2 273.2L525.9 273.1M452.9 322.9 L450.0 320.2L447.2 317.5L444.3 314.9L441.5 312.3L438.6 309.8L435.8 307.4L432.9 305.0L430.1 302.7L427.3 300.4L424.5 298.2L421.7 296.0L418.9 293.8L416.2 291.6L413.4 289.4L410.6 287.3L407.9 285.2L405.1 283.2L402.4 281.2L399.7 279.3L397.0 277.5L394.3 276.3L391.7 275.7L389.0 275.5M441.1 322.9 L444.1 320.1L447.2 317.5L450.2 314.9L453.2 312.3L456.2 309.7L459.2 307.2L462.2 304.8L465.2 302.4L468.2 300.1L471.2 297.8L474.2 295.5L477.1 293.3L480.1 291.0L483.0 288.8L486.0 286.6L488.9 284.5L491.8 282.4L494.7 280.4L497.6 278.5L500.5 276.8L503.4 275.4L506.3 274.5L509.1 273.9L511.9 273.6L514.7 273.5L517.5 273.4L520.2 273.3M458.8 322.9 L455.9 320.2L453.1 317.5L450.2 314.9L447.3 312.3L444.5 309.8L441.6 307.3L438.8 305.0L436.0 302.6L433.2 300.4L430.3 298.2L427.5 295.9L424.8 293.8L422.0 291.6L419.2 289.4L416.4 287.3L413.7 285.2L410.9 283.2L408.2 281.2L405.4 279.3L402.7 277.5L400.0 276.4L397.4 275.8L394.7 275.6M435.2 322.8 L438.2 320.1L441.3 317.5L444.3 314.9L447.3 312.3L450.4 309.8L453.4 307.3L456.4 304.9L459.4 302.5L462.4 300.2L465.4 297.9L468.3 295.6L471.3 293.4L474.3 291.1L477.2 288.9L480.2 286.7L483.1 284.6L486.0 282.5L489.0 280.5L491.9 278.6L494.8 276.9L497.6 275.5L500.5 274.6L503.3 274.1L506.2 273.8L509.0 273.7L511.8 273.6L514.5 273.6M464.7 322.9 L461.8 320.2L459.0 317.5L456.1 314.8L453.2 312.3L450.4 309.8L447.5 307.3L444.7 304.9L441.8 302.6L439.0 300.4L436.2 298.1L433.4 295.9L430.6 293.7L427.8 291.6L425.0 289.4L422.2 287.3L419.4 285.2L416.7 283.2L413.9 281.2L411.2 279.3L408.5 277.6L405.8 276.4L403.1 275.8L400.4 275.6M429.3 322.8 L432.3 320.1L435.4 317.4L438.4 314.8L441.5 312.3L444.5 309.8L447.5 307.3L450.5 304.9L453.5 302.6L456.5 300.2L459.5 298.0L462.5 295.7L465.5 293.4L468.5 291.2L471.4 289.0L474.4 286.8L477.3 284.7L480.2 282.6L483.2 280.6L486.1 278.8L489.0 277.1L491.9 275.7L494.8 274.8L497.6 274.3L500.4 274.0L503.3 273.9L506.1 273.8M470.6 322.9 L467.8 320.1L464.9 317.4L462.0 314.8L459.1 312.2L456.2 309.7L453.4 307.3L450.5 304.9L447.7 302.6L444.8 300.3L442.0 298.1L439.2 295.9L436.4 293.7L433.6 291.6L430.8 289.4L428.0 287.3L425.2 285.2L422.5 283.2L419.7 281.2L416.9 279.4L414.2 277.6L411.5 276.4L408.8 275.8L406.1 275.6M423.4 322.7 L426.4 320.0L429.5 317.4L432.5 314.8L435.6 312.3L438.6 309.8L441.6 307.3L444.7 304.9L447.7 302.6L450.7 300.3L453.7 298.0L456.7 295.8L459.7 293.5L462.6 291.3L465.6 289.1L468.6 286.9L471.5 284.8L474.5 282.7L477.4 280.7L480.3 278.9L483.2 277.2L486.1 275.8L489.0 274.9L491.9 274.4L494.7 274.2L497.6 274.1L500.4 274.0M476.6 322.9 L473.7 320.1L470.8 317.4L467.9 314.8L465.0 312.2L462.1 309.7L459.2 307.2L456.4 304.9L453.5 302.6L450.7 300.3L447.8 298.1L445.0 295.9L442.2 293.7L439.4 291.5L436.6 289.4L433.8 287.3L431.0 285.2L428.2 283.2L425.5 281.2L422.7 279.4L420.0 277.6L417.2 276.4L414.5 275.8L411.8 275.6L409.2 275.6M417.4 322.6 L420.5 320.0L423.6 317.4L426.6 314.8L429.7 312.3L432.7 309.8L435.8 307.4L438.8 305.0L441.8 302.6L444.8 300.3L447.8 298.1L450.8 295.8L453.8 293.6L456.8 291.4L459.8 289.2L462.8 287.0L465.7 284.9L468.7 282.8L471.6 280.8L474.5 279.0L477.5 277.2L480.4 275.9L483.3 275.0L486.1 274.6L489.0 274.4L491.8 274.3L494.7 274.2M482.5 322.8 L479.6 320.1L476.7 317.4L473.8 314.7L470.9 312.1L468.0 309.6L465.1 307.2L462.2 304.8L459.4 302.5L456.5 300.2L453.7 298.0L450.8 295.8L448.0 293.6L445.2 291.5L442.4 289.4L439.6 287.3L436.8 285.2L434.0 283.2L431.2 281.2L428.5 279.4L425.7 277.6L423.0 276.4L420.2 275.8L417.6 275.6L414.9 275.6M411.5 322.5 L414.6 319.9L417.7 317.3L420.8 314.7L423.8 312.2L426.9 309.8L429.9 307.3L432.9 305.0L436.0 302.6L439.0 300.4L442.0 298.1L445.0 295.9L448.0 293.6L451.0 291.4L454.0 289.2L457.0 287.1L459.9 285.0L462.9 282.9L465.8 280.9L468.8 279.1L471.7 277.3L474.6 276.0L477.5 275.2L480.4 274.7L483.3 274.5L486.1 274.4L489.0 274.4M488.4 322.8 L485.5 320.0L482.6 317.3L479.7 314.7L476.8 312.1L473.9 309.6L471.0 307.1L468.1 304.7L465.2 302.4L462.4 300.2L459.5 298.0L456.7 295.8L453.8 293.6L451.0 291.4L448.2 289.3L445.4 287.2L442.6 285.2L439.8 283.1L437.0 281.2L434.2 279.4L431.4 277.6L428.7 276.4L426.0 275.8L423.3 275.5L420.6 275.5M405.6 322.4 L408.7 319.8L411.8 317.2L414.9 314.7L417.9 312.2L421.0 309.7L424.0 307.3L427.1 305.0L430.1 302.7L433.2 300.4L436.2 298.1L439.2 295.9L442.2 293.7L445.2 291.5L448.2 289.3L451.2 287.2L454.1 285.0L457.1 283.0L460.1 281.0L463.0 279.1L466.0 277.4L468.9 276.1L471.8 275.3L474.7 274.8L477.6 274.7L480.4 274.6L483.3 274.5M494.3 322.7 L491.4 320.0L488.5 317.2L485.6 314.6L482.7 312.0L479.8 309.5L476.9 307.0L474.0 304.7L471.1 302.4L468.2 300.1L465.4 297.9L462.5 295.7L459.7 293.5L456.8 291.4L454.0 289.2L451.2 287.2L448.4 285.1L445.6 283.1L442.8 281.2L440.0 279.3L437.2 277.6L434.4 276.4L431.7 275.7L429.0 275.5L426.3 275.5M399.7 322.3 L402.8 319.7L405.9 317.1L409.0 314.6L412.1 312.1L415.1 309.7L418.2 307.3L421.2 305.0L424.3 302.7L427.3 300.4L430.3 298.2L433.4 295.9L436.4 293.7L439.4 291.5L442.4 289.4L445.4 287.2L448.4 285.1L451.3 283.1L454.3 281.1L457.3 279.2L460.2 277.5L463.1 276.1L466.1 275.4L469.0 275.0L471.9 274.8L474.7 274.7M500.3 322.7 L497.3 319.9L494.4 317.2L491.5 314.5L488.6 311.9L485.6 309.4L482.7 306.9L479.8 304.6L477.0 302.3L474.1 300.0L471.2 297.8L468.3 295.6L465.5 293.4L462.6 291.3L459.8 289.2L457.0 287.1L454.1 285.0L451.3 283.1L448.5 281.1L445.7 279.3L442.9 277.6L440.2 276.4L437.4 275.7L434.7 275.5L432.0 275.5M393.8 322.2 L396.9 319.6L400.0 317.0L403.1 314.5L406.2 312.1L409.3 309.6L412.3 307.3L415.4 304.9L418.4 302.6L421.5 300.4L424.5 298.2L427.5 295.9L430.6 293.7L433.6 291.6L436.6 289.4L439.6 287.3L442.6 285.2L445.6 283.1L448.5 281.1L451.5 279.3L454.4 277.5L457.4 276.2L460.3 275.4L463.3 275.1L466.2 274.9M506.2 322.6 L503.2 319.8L500.3 317.1L497.4 314.4L494.5 311.8L491.5 309.3L488.6 306.8L485.7 304.5L482.8 302.2L479.9 299.9L477.0 297.7L474.2 295.5L471.3 293.4L468.5 291.2L465.6 289.1L462.8 287.0L459.9 285.0L457.1 283.0L454.3 281.1L451.5 279.3L448.7 277.5L445.9 276.3L443.1 275.7L440.4 275.4L437.7 275.4M387.9 322.1 L391.0 319.5L394.1 316.9L397.2 314.4L400.3 312.0L403.4 309.6L406.5 307.2L409.5 304.9L412.6 302.6L415.6 300.4L418.7 298.2L421.7 296.0L424.8 293.8L427.8 291.6L430.8 289.4L433.8 287.3L436.8 285.2L439.8 283.1L442.8 281.2L445.7 279.3L448.7 277.5L451.7 276.3L454.6 275.5L457.5 275.2L460.5 275.0M512.1 322.5 L509.2 319.7L506.2 317.0L503.3 314.3L500.4 311.7L497.4 309.2L494.5 306.7L491.6 304.3L488.7 302.0L485.8 299.8L482.9 297.6L480.0 295.4L477.1 293.3L474.3 291.1L471.4 289.0L468.6 286.9L465.7 284.9L462.9 282.9L460.1 281.0L457.3 279.2L454.4 277.5L451.7 276.3L448.9 275.6L446.1 275.3L443.4 275.3M382.0 321.9 L385.1 319.3L388.2 316.8L391.3 314.3L394.4 311.9L397.5 309.5L400.6 307.1L403.7 304.8L406.7 302.6L409.8 300.3L412.9 298.1L415.9 295.9L418.9 293.8L422.0 291.6L425.0 289.4L428.0 287.3L431.0 285.2L434.0 283.2L437.0 281.2L440.0 279.3L442.9 277.6L445.9 276.3L448.9 275.6L451.8 275.3L454.8 275.1M518.1 322.4 L515.1 319.6L512.1 316.8L509.2 314.2L506.3 311.6L503.3 309.0L500.4 306.6L497.5 304.2L494.6 301.9L491.6 299.7L488.7 297.5L485.9 295.3L483.0 293.1L480.1 291.0L477.2 288.9L474.4 286.8L471.5 284.8L468.7 282.8L465.8 280.9L463.0 279.1L460.2 277.5L457.4 276.2L454.6 275.5L451.8 275.3L449.1 275.2M376.1 321.7 L379.2 319.2L382.4 316.7L385.5 314.2L388.6 311.8L391.7 309.4L394.7 307.1L397.8 304.8L400.9 302.5L404.0 300.3L407.0 298.1L410.1 295.9L413.1 293.7L416.2 291.6L419.2 289.4L422.2 287.3L425.2 285.2L428.2 283.2L431.2 281.2L434.2 279.4L437.2 277.6L440.2 276.4L443.1 275.7L446.1 275.3L449.1 275.2M524.0 322.3 L521.0 319.5L518.1 316.7L515.1 314.0L512.2 311.4L509.2 308.9L506.3 306.5L503.3 304.1L500.4 301.8L497.5 299.5L494.6 297.3L491.7 295.2L488.8 293.0L485.9 290.9L483.0 288.8L480.2 286.7L477.3 284.7L474.5 282.7L471.6 280.8L468.8 279.1L466.0 277.4L463.1 276.1L460.3 275.4L457.5 275.2L454.8 275.1M370.2 321.6 L373.3 319.0L376.5 316.5L379.6 314.1L382.7 311.7L385.8 309.3L388.9 307.0L392.0 304.7L395.1 302.4L398.1 300.2L401.2 298.1L404.3 295.9L407.3 293.7L410.4 291.6L413.4 289.4L416.4 287.3L419.4 285.2L422.5 283.2L425.5 281.2L428.5 279.4L431.4 277.6L434.4 276.4L437.4 275.7L440.4 275.4L443.4 275.3M529.9 322.2 L527.0 319.3L524.0 316.6L521.0 313.9L518.1 311.3L515.1 308.8L512.2 306.3L509.2 303.9L506.3 301.6L503.4 299.4L500.4 297.2L497.5 295.0L494.6 292.9L491.7 290.7L488.9 288.7L486.0 286.6L483.1 284.6L480.2 282.6L477.4 280.7L474.5 279.0L471.7 277.3L468.9 276.1L466.1 275.4L463.3 275.1L460.5 275.0M364.3 321.4 L367.4 318.9L370.6 316.4L373.7 314.0L376.8 311.6L379.9 309.2L383.0 306.9L386.1 304.6L389.2 302.4L392.3 300.2L395.4 298.0L398.4 295.8L401.5 293.7L404.6 291.5L407.6 289.4L410.6 287.3L413.7 285.2L416.7 283.2L419.7 281.2L422.7 279.4L425.7 277.6L428.7 276.4L431.7 275.7L434.7 275.5L437.7 275.4M535.9 322.0 L532.9 319.2L529.9 316.4L526.9 313.8L524.0 311.1L521.0 308.6L518.1 306.1L515.1 303.8L512.2 301.5L509.2 299.2L506.3 297.0L503.4 294.9L500.5 292.7L497.6 290.6L494.7 288.5L491.8 286.5L488.9 284.5L486.0 282.5L483.2 280.6L480.3 278.9L477.5 277.2L474.6 276.0L471.8 275.3L469.0 275.0L466.2 274.9M358.4 321.2 L361.5 318.7L364.7 316.2L367.8 313.8L370.9 311.4L374.1 309.1L377.2 306.8L380.3 304.5L383.4 302.3L386.5 300.1L389.6 297.9L392.6 295.8L395.7 293.6L398.8 291.5L401.8 289.4L404.9 287.3L407.9 285.2L410.9 283.2L413.9 281.2L416.9 279.4L420.0 277.6L423.0 276.4L426.0 275.8L429.0 275.5L432.0 275.5M541.8 321.9 L538.8 319.1L535.8 316.3L532.9 313.6L529.9 311.0L526.9 308.4L524.0 306.0L521.0 303.6L518.1 301.3L515.1 299.1L512.2 296.9L509.2 294.7L506.3 292.6L503.4 290.5L500.5 288.4L497.6 286.3L494.7 284.3L491.8 282.4L489.0 280.5L486.1 278.8L483.2 277.2L480.4 275.9L477.5 275.2L474.7 274.8L471.9 274.8L469.1 274.9M352.5 321.0 L355.7 318.5L358.8 316.1L361.9 313.6L365.1 311.3L368.2 308.9L371.3 306.6L374.4 304.4L377.5 302.2L380.6 300.0L383.7 297.9L386.8 295.7L389.9 293.6L393.0 291.5L396.0 289.3L399.1 287.3L402.1 285.2L405.1 283.2L408.2 281.2L411.2 279.3L414.2 277.6L417.2 276.4L420.2 275.8L423.3 275.5L426.3 275.5M547.8 321.7 L544.8 318.9L541.8 316.1L538.8 313.4L535.8 310.8L532.8 308.2L529.9 305.8L526.9 303.4L523.9 301.1L521.0 298.9L518.0 296.7L515.1 294.5L512.2 292.4L509.2 290.3L506.3 288.2L503.4 286.2L500.5 284.2L497.6 282.2L494.7 280.4L491.9 278.6L489.0 277.1L486.1 275.8L483.3 275.0L480.4 274.7L477.6 274.7L474.7 274.7M346.6 320.8 L349.8 318.3L352.9 315.9L356.1 313.5L359.2 311.1L362.3 308.8L365.5 306.5L368.6 304.3L371.7 302.1L374.8 299.9L377.9 297.8L381.0 295.6L384.1 293.5L387.2 291.4L390.2 289.3L393.3 287.2L396.3 285.2L399.4 283.2L402.4 281.2L405.4 279.3L408.5 277.6L411.5 276.4L414.5 275.8L417.6 275.6L420.6 275.5M553.7 321.6 L550.7 318.7L547.7 315.9L544.7 313.2L541.7 310.6L538.7 308.0L535.8 305.6L532.8 303.2L529.8 300.9L526.9 298.7L523.9 296.5L520.9 294.4L518.0 292.2L515.1 290.1L512.1 288.0L509.2 286.0L506.3 284.0L503.4 282.1L500.5 280.2L497.6 278.5L494.8 276.9L491.9 275.7L489.0 274.9L486.1 274.6L483.3 274.5L480.4 274.6M340.7 320.6 L343.9 318.1L347.0 315.7L350.2 313.3L353.3 310.9L356.5 308.6L359.6 306.4L362.7 304.1L365.9 301.9L369.0 299.8L372.1 297.7L375.2 295.5L378.3 293.4L381.4 291.3L384.4 289.2L387.5 287.2L390.6 285.1L393.6 283.1L396.7 281.2L399.7 279.3L402.7 277.5L405.8 276.4L408.8 275.8L411.8 275.6L414.9 275.6M556.7 318.6 L553.7 315.8L550.7 313.0L547.7 310.4L544.7 307.8L541.7 305.4L538.7 303.0L535.7 300.7L532.7 298.5L529.8 296.3L526.8 294.2L523.9 292.0L520.9 289.9L518.0 287.9L515.1 285.8L512.1 283.9L509.2 281.9L506.3 280.1L503.4 278.4L500.5 276.8L497.6 275.5L494.8 274.8L491.9 274.4L489.0 274.4L486.1 274.4L483.3 274.5M334.8 320.3 L338.0 317.9L341.1 315.5L344.3 313.1L347.5 310.7L350.6 308.5L353.8 306.2L356.9 304.0L360.0 301.8L363.1 299.7L366.3 297.6L369.4 295.4L372.5 293.3L375.6 291.2L378.6 289.2L381.7 287.1L384.8 285.1L387.8 283.1L390.9 281.1L393.9 279.2L397.0 277.5L400.0 276.4L403.1 275.8L406.1 275.6M562.6 318.4 L559.6 315.6L556.6 312.8L553.6 310.2L550.6 307.6L547.6 305.1L544.6 302.8L541.6 300.5L538.6 298.3L535.6 296.1L532.7 294.0L529.7 291.8L526.8 289.7L523.8 287.7L520.9 285.6L517.9 283.7L515.0 281.8L512.1 279.9L509.2 278.2L506.3 276.7L503.4 275.4L500.5 274.6L497.6 274.3L494.7 274.2L491.8 274.3L489.0 274.4M328.9 320.1 L332.1 317.6L335.2 315.2L338.4 312.9L341.6 310.6L344.7 308.3L347.9 306.0L351.0 303.8L354.2 301.7L357.3 299.5L360.4 297.4L363.6 295.3L366.7 293.2L369.8 291.2L372.9 289.1L375.9 287.0L379.0 285.0L382.1 283.0L385.1 281.1L388.2 279.2L391.2 277.5L394.3 276.3L397.4 275.8L400.4 275.6M568.6 318.2 L565.5 315.4L562.5 312.6L559.5 310.0L556.5 307.4L553.5 304.9L550.5 302.5L547.5 300.2L544.5 298.0L541.5 295.9L538.5 293.7L535.6 291.6L532.6 289.5L529.7 287.5L526.7 285.4L523.8 283.5L520.8 281.6L517.9 279.7L515.0 278.1L512.1 276.5L509.2 275.2L506.3 274.5L503.3 274.1L500.4 274.0L497.6 274.1L494.7 274.2M326.2 317.4 L329.4 315.0L332.5 312.7L335.7 310.3L338.9 308.1L342.0 305.8L345.2 303.7L348.3 301.5L351.5 299.4L354.6 297.3L357.7 295.2L360.9 293.1L364.0 291.1L367.1 289.0L370.2 286.9L373.2 284.9L376.3 282.9L379.4 281.0L382.5 279.1L385.5 277.4L388.6 276.3L391.7 275.7L394.7 275.6M571.5 315.1 L568.5 312.4L565.4 309.7L562.4 307.2L559.4 304.7L556.4 302.3L553.4 300.0L550.4 297.8L547.4 295.6L544.4 293.5L541.4 291.4L538.5 289.3L535.5 287.2L532.5 285.2L529.6 283.3L526.6 281.4L523.7 279.6L520.8 277.9L517.9 276.4L514.9 275.1L512.0 274.3L509.1 273.9L506.2 273.8L503.3 273.9L500.4 274.0M323.5 314.8 L326.7 312.4L329.8 310.1L333.0 307.9L336.2 305.7L339.3 303.5L342.5 301.3L345.7 299.2L348.8 297.2L351.9 295.1L355.1 293.0L358.2 290.9L361.3 288.9L364.4 286.9L367.5 284.8L370.6 282.9L373.6 280.9L376.7 279.1L379.8 277.3L382.9 276.2L385.9 275.7L389.0 275.5M574.4 312.2 L571.4 309.5L568.4 306.9L565.3 304.4L562.3 302.0L559.3 299.7L556.3 297.5L553.3 295.4L550.3 293.3L547.3 291.1L544.3 289.1L541.3 287.0L538.4 285.0L535.4 283.1L532.5 281.2L529.5 279.4L526.6 277.7L523.6 276.2L520.7 274.9L517.8 274.1L514.8 273.7L511.9 273.6L509.0 273.7L506.1 273.8M320.8 312.2 L324.0 309.9L327.1 307.7L330.3 305.5L333.5 303.3L336.7 301.2L339.8 299.1L343.0 297.0L346.1 294.9L349.3 292.9L352.4 290.8L355.5 288.8L358.6 286.7L361.7 284.7L364.8 282.8L367.9 280.8L371.0 279.0L374.0 277.2L377.1 276.2L380.2 275.6L383.3 275.5M577.3 309.2 L574.3 306.7L571.3 304.2L568.2 301.8L565.2 299.5L562.2 297.3L559.2 295.1L556.2 293.0L553.2 290.9L550.2 288.8L547.2 286.8L544.2 284.8L541.2 282.8L538.3 281.0L535.3 279.2L532.4 277.5L529.4 276.0L526.5 274.8L523.5 273.9L520.6 273.5L517.6 273.4L514.7 273.5L511.8 273.6M318.1 309.7 L321.3 307.4L324.5 305.2L327.6 303.1L330.8 301.0L334.0 298.9L337.2 296.8L340.3 294.8L343.4 292.7L346.6 290.7L349.7 288.6L352.8 286.6L355.9 284.6L359.0 282.7L362.1 280.8L365.2 278.9L368.3 277.2L371.4 276.1L374.5 275.6L377.6 275.5M580.2 306.4 L577.2 303.9L574.1 301.5L571.1 299.2L568.1 297.0L565.1 294.9L562.0 292.7L559.0 290.6L556.0 288.6L553.0 286.5L550.0 284.5L547.1 282.6L544.1 280.7L541.1 278.9L538.2 277.3L535.2 275.8L532.2 274.6L529.3 273.7L526.3 273.3L523.4 273.2L520.4 273.3L517.5 273.4L514.5 273.6M315.4 307.2 L318.6 305.0L321.8 302.9L325.0 300.8L328.2 298.7L331.3 296.7L334.5 294.6L337.6 292.6L340.8 290.5L343.9 288.5L347.0 286.5L350.2 284.5L353.3 282.6L356.4 280.7L359.5 278.8L362.6 277.1L365.7 276.0L368.8 275.5L371.9 275.4M583.1 303.6 L580.1 301.2L577.0 298.9L574.0 296.7L570.9 294.6L567.9 292.5L564.9 290.4L561.9 288.3L558.9 286.3L555.9 284.3L552.9 282.4L549.9 280.5L546.9 278.7L544.0 277.1L541.0 275.6L538.0 274.4L535.0 273.5L532.1 273.1L529.1 273.0L526.1 273.1L523.2 273.2L520.2 273.3M312.8 304.8 L315.9 302.6L319.1 300.6L322.3 298.5L325.5 296.5L328.7 294.4L331.8 292.4L335.0 290.4L338.1 288.4L341.3 286.4L344.4 284.4L347.5 282.5L350.6 280.5L353.7 278.7L356.8 277.0L359.9 275.9L363.1 275.4L366.2 275.3M586.0 300.9 L582.9 298.6L579.9 296.4L576.8 294.3L573.8 292.2L570.8 290.1L567.8 288.0L564.7 286.0L561.7 284.0L558.7 282.1L555.7 280.3L552.8 278.5L549.8 276.8L546.8 275.4L543.8 274.2L540.8 273.3L537.8 272.9L534.8 272.8L531.8 272.8L528.9 272.9L525.9 273.1M310.1 302.4 L313.3 300.3L316.5 298.3L319.7 296.3L322.9 294.3L326.0 292.2L329.2 290.2L332.3 288.2L335.5 286.2L338.6 284.3L341.7 282.3L344.9 280.4L348.0 278.6L351.1 276.8L354.2 275.8L357.4 275.3L360.5 275.2M588.9 298.3 L585.8 296.1L582.8 294.0L579.7 291.9L576.7 289.8L573.6 287.7L570.6 285.7L567.6 283.8L564.6 281.8L561.6 280.0L558.6 278.2L555.6 276.6L552.6 275.2L549.6 273.9L546.6 273.1L543.6 272.7L540.6 272.5L537.6 272.6L534.6 272.7L531.6 272.8M307.5 300.1 L310.7 298.1L313.9 296.1L317.0 294.1L320.2 292.0L323.4 290.0L326.6 288.1L329.7 286.1L332.8 284.1L336.0 282.2L339.1 280.3L342.2 278.4L345.4 276.7L348.5 275.7L351.7 275.2L354.8 275.2M591.7 295.8 L588.7 293.7L585.6 291.6L582.5 289.5L579.5 287.4L576.5 285.4L573.4 283.5L570.4 281.6L567.4 279.7L564.4 278.0L561.4 276.3L558.4 274.9L555.4 273.7L552.4 272.9L549.3 272.4L546.3 272.3L543.3 272.3L540.3 272.4L537.3 272.6M304.8 297.8 L308.0 295.8L311.2 293.8L314.4 291.9L317.6 289.9L320.8 287.9L323.9 285.9L327.1 284.0L330.2 282.0L333.4 280.2L336.5 278.3L339.6 276.6L342.8 275.6L346.0 275.1L349.1 275.1M594.6 293.3 L591.5 291.2L588.4 289.2L585.4 287.1L582.3 285.1L579.3 283.2L576.3 281.3L573.2 279.4L570.2 277.7L567.2 276.1L564.2 274.7L561.2 273.5L558.1 272.6L555.1 272.2L552.1 272.0L549.0 272.0L546.0 272.2L543.0 272.3M302.2 295.6 L305.4 293.6L308.6 291.6L311.8 289.7L315.0 287.7L318.1 285.7L321.3 283.8L324.5 281.9L327.6 280.0L330.7 278.2L333.9 276.5L337.1 275.4L340.2 275.0L343.4 274.9M597.4 290.9 L594.3 288.9L591.3 286.8L588.2 284.8L585.2 282.9L582.1 281.0L579.1 279.2L576.1 277.4L573.0 275.8L570.0 274.4L567.0 273.2L563.9 272.4L560.9 271.9L557.8 271.7L554.8 271.7L551.7 271.9L548.7 272.0M299.6 293.4 L302.8 291.4L306.0 289.5L309.2 287.5L312.4 285.6L315.5 283.6L318.7 281.7L321.9 279.9L325.0 278.0L328.1 276.3L331.3 275.3L334.5 274.8L337.7 274.8M600.2 288.5 L597.2 286.5L594.1 284.5L591.0 282.5L588.0 280.7L584.9 278.9L581.9 277.1L578.8 275.5L575.8 274.1L572.8 273.0L569.7 272.1L566.6 271.6L563.6 271.4L560.5 271.5L557.5 271.6L554.4 271.7M297.0 291.2 L300.2 289.3L303.4 287.3L306.6 285.4L309.8 283.5L312.9 281.6L316.1 279.7L319.3 277.9L322.4 276.2L325.6 275.1L328.8 274.7L332.1 274.7M603.1 286.1 L600.0 284.2L596.9 282.2L593.8 280.3L590.8 278.5L587.7 276.8L584.7 275.2L581.6 273.8L578.6 272.7L575.5 271.8L572.4 271.3L569.3 271.1L566.3 271.2L563.2 271.3L560.1 271.4M294.4 289.0 L297.6 287.1L300.8 285.2L304.0 283.3L307.2 281.4L310.3 279.5L313.5 277.7L316.7 276.0L319.9 275.0L323.1 274.6L326.4 274.5M605.9 283.8 L602.8 281.9L599.7 280.0L596.6 278.2L593.6 276.5L590.5 274.9L587.4 273.5L584.4 272.4L581.3 271.6L578.2 271.0L575.1 270.8L572.0 270.8L568.9 271.0L565.8 271.1L562.8 271.4M291.8 286.9 L295.0 285.0L298.2 283.1L301.4 281.2L304.6 279.3L307.8 277.5L310.9 275.8L314.2 274.8L317.4 274.4L320.7 274.4M608.7 281.5 L605.6 279.7L602.5 277.9L599.4 276.2L596.3 274.6L593.3 273.2L590.2 272.1L587.1 271.3L584.0 270.7L580.9 270.5L577.8 270.5L574.7 270.7L571.6 270.8L568.5 271.1M289.2 284.7 L292.5 282.9L295.6 281.0L298.8 279.1L302.0 277.3L305.2 275.6L308.4 274.6L311.7 274.2L315.0 274.2M611.5 279.3 L608.4 277.5L605.3 275.8L602.2 274.2L599.1 272.9L596.0 271.8L592.9 271.0L589.8 270.4L586.6 270.2L583.5 270.2L580.4 270.3L577.3 270.5L574.2 270.7M286.7 282.6 L289.9 280.8L293.1 279.0L296.3 277.1L299.5 275.5L302.7 274.4L306.0 274.0L309.3 274.0M614.2 277.2 L611.1 275.5L608.0 273.9L604.9 272.5L601.8 271.4L598.7 270.6L595.5 270.1L592.4 269.9L589.3 269.9L586.1 270.0L583.0 270.2L579.9 270.4M284.1 280.6 L287.3 278.7L290.5 277.0L293.7 275.3L297.0 274.2L300.3 273.8L303.6 273.9M617.0 275.1 L613.9 273.5L610.8 272.2L607.6 271.1L604.5 270.3L601.3 269.8L598.2 269.5L595.0 269.5L591.9 269.6L588.7 269.8L585.6 270.0M281.6 278.5 L284.8 276.7L288.0 275.1L291.2 274.0L294.5 273.6L297.9 273.7M619.7 273.2 L616.6 271.8L613.5 270.7L610.3 270.0L607.1 269.4L604.0 269.2L600.8 269.2L597.6 269.3L594.5 269.5L591.3 269.7L588.2 270.0M279.0 276.5 L282.3 274.8L285.5 273.8L288.8 273.4L292.2 273.5M622.5 271.4 L619.3 270.4L616.1 269.6L612.9 269.1L609.8 268.8L606.6 268.8L603.4 268.9L600.2 269.1L597.1 269.3L593.9 269.6M276.5 274.6 L279.8 273.6L283.1 273.2L286.5 273.2M625.1 270.0 L621.9 269.2L618.8 268.7L615.6 268.5L612.4 268.4L609.2 268.5L606.0 268.7L602.8 268.9L599.6 269.2M274.1 273.4 L277.4 273.0L280.8 273.0M627.8 268.9 L624.6 268.4L621.4 268.1L618.1 268.0L614.9 268.1L611.7 268.3L608.5 268.5L605.4 268.8M271.7 272.7 L275.1 272.8M630.4 268.0 L627.2 267.7L623.9 267.6L620.7 267.7L617.5 267.9L614.3 268.1L611.1 268.4M633.0 267.3 L629.7 267.2L626.5 267.3L623.2 267.5L620.0 267.7L616.8 268.0L613.6 268.4M635.5 266.8 L632.3 266.9L629.0 267.1L625.8 267.3L622.5 267.6L619.3 268.0M638.0 266.5 L634.8 266.7L631.5 266.9L628.3 267.2L625.0 267.5M640.5 266.2 L637.3 266.5L634.0 266.7L630.8 267.1M643.0 266.0 L639.8 266.3L636.5 266.6M645.5 265.8 L642.2 266.1" stroke="#000" stroke-opacity="0.52" stroke-width="0.95" fill="none"/>
<polyline points="269.4,272.5 284.3,273.2 299.3,273.7 314.2,274.2 329.2,274.6 344.2,275.0 359.1,275.2 373.9,275.4 388.9,275.5 403.8,275.6 418.9,275.5 433.9,275.4 449.0,275.2 464.3,275.0 480.5,274.6 496.2,274.1 512.1,273.6 528.1,273.0 544.4,272.2 561.0,271.4 578.0,270.5 595.7,269.5 613.3,268.3 631.2,267.0 649.4,265.6" stroke="#000" stroke-opacity="0.85" stroke-width="1.8" fill="none"/>
<ellipse cx="444.0" cy="511.0" rx="3.8" ry="3.4" fill="#d60404" stroke="#4a0000" stroke-width="0.9"/>
<ellipse cx="386.3" cy="399.6" rx="3.8" ry="3.4" fill="#d60404" stroke="#4a0000" stroke-width="0.9"/>
<ellipse cx="504.3" cy="401.2" rx="3.8" ry="3.4" fill="#d60404" stroke="#4a0000" stroke-width="0.9"/>
<ellipse cx="447.0" cy="323.0" rx="3.8" ry="3.4" fill="#d60404" stroke="#4a0000" stroke-width="0.9"/>
<ellipse cx="329.8" cy="321.0" rx="3.8" ry="3.4" fill="#d60404" stroke="#4a0000" stroke-width="0.9"/>
<ellipse cx="564.0" cy="322.8" rx="3.8" ry="3.4" fill="#d60404" stroke="#4a0000" stroke-width="0.9"/>
<ellipse cx="277.3" cy="275.2" rx="3.8" ry="3.4" fill="#d60404" stroke="#4a0000" stroke-width="0.9"/>
<ellipse cx="620.6" cy="272.3" rx="3.8" ry="3.4" fill="#d60404" stroke="#4a0000" stroke-width="0.9"/>
<ellipse cx="240.0" cy="345.4" rx="3.8" ry="3.4" fill="#d60404" stroke="#4a0000" stroke-width="0.9"/>
<ellipse cx="670.2" cy="280.0" rx="3.8" ry="3.4" fill="#d60404" stroke="#4a0000" stroke-width="0.9"/>
<defs><linearGradient id="lg" x1="0" y1="0" x2="0" y2="1"><stop offset="0" stop-color="#ff0000"/><stop offset="0.5" stop-color="#00ff00"/><stop offset="1" stop-color="#0000ff"/></linearGradient></defs><rect x="7.5" y="42.3" width="10.6" height="54" fill="url(#lg)" stroke="#222" stroke-width="1.4"/>
<rect x="589.4" y="181.8" width="31" height="16" fill="#fff" stroke="#3a3a3a" stroke-width="1.1"/>
<text x="2.55" y="14.80" font-size="18.41" textLength="150.73" lengthAdjust="spacingAndGlyphs" fill="#1c1c1c">Factor Coding: Actual</text>
<text x="2.74" y="35.10" font-size="18.26" textLength="77.16" lengthAdjust="spacingAndGlyphs" fill="#1c1c1c">Desirability</text>
<text x="22.31" y="55.40" font-size="17.14" textLength="39.87" lengthAdjust="spacingAndGlyphs" fill="#ff0828">1.000</text>
<text x="22.95" y="96.10" font-size="17.29" textLength="39.22" lengthAdjust="spacingAndGlyphs" fill="#3418ff">0.000</text>
<text x="2.59" y="136.70" font-size="18.55" textLength="79.32" lengthAdjust="spacingAndGlyphs" fill="#1c1c1c">X1 = A: MK</text>
<text x="2.58" y="156.70" font-size="18.41" textLength="89.67" lengthAdjust="spacingAndGlyphs" fill="#1c1c1c">X2 = B: CBA</text>
<text x="172.75" y="165.40" font-size="16.29" textLength="38.30" lengthAdjust="spacingAndGlyphs" fill="#1c1c1c">1.000</text>
<text x="177.27" y="200.90" font-size="16.29" textLength="37.67" lengthAdjust="spacingAndGlyphs" fill="#1c1c1c">0.800</text>
<text x="181.37" y="236.20" font-size="16.29" textLength="37.67" lengthAdjust="spacingAndGlyphs" fill="#1c1c1c">0.600</text>
<text x="185.67" y="271.70" font-size="16.29" textLength="37.67" lengthAdjust="spacingAndGlyphs" fill="#1c1c1c">0.400</text>
<text x="189.77" y="307.20" font-size="16.29" textLength="37.67" lengthAdjust="spacingAndGlyphs" fill="#1c1c1c">0.200</text>
<text x="193.57" y="342.70" font-size="16.29" textLength="37.67" lengthAdjust="spacingAndGlyphs" fill="#1c1c1c">0.000</text>
<text x="220.89" y="411.90" font-size="16.14" textLength="17.99" lengthAdjust="spacingAndGlyphs" fill="#1c1c1c">20</text>
<text x="271.76" y="453.60" font-size="16.00" textLength="15.41" lengthAdjust="spacingAndGlyphs" fill="#1c1c1c">15</text>
<text x="320.58" y="495.00" font-size="16.14" textLength="16.55" lengthAdjust="spacingAndGlyphs" fill="#1c1c1c">10</text>
<text x="378.58" y="536.00" font-size="16.00" textLength="8.66" lengthAdjust="spacingAndGlyphs" fill="#1c1c1c">5</text>
<text x="427.64" y="577.20" font-size="16.00" textLength="8.83" lengthAdjust="spacingAndGlyphs" fill="#1c1c1c">0</text>
<text x="661.89" y="420.30" font-size="16.14" textLength="18.10" lengthAdjust="spacingAndGlyphs" fill="#1c1c1c">20</text>
<text x="611.28" y="460.10" font-size="16.14" textLength="16.64" lengthAdjust="spacingAndGlyphs" fill="#1c1c1c">15</text>
<text x="559.18" y="499.10" font-size="16.14" textLength="16.55" lengthAdjust="spacingAndGlyphs" fill="#1c1c1c">10</text>
<text x="503.88" y="537.60" font-size="16.14" textLength="8.66" lengthAdjust="spacingAndGlyphs" fill="#1c1c1c">5</text>
<text x="452.64" y="577.30" font-size="16.14" textLength="8.83" lengthAdjust="spacingAndGlyphs" fill="#1c1c1c">0</text>
<text x="217.76" y="542.90" font-size="20.72" textLength="105.04" lengthAdjust="spacingAndGlyphs" fill="#1c1c1c">B: CBA (%)</text>
<text x="577.00" y="550.50" font-size="20.72" textLength="90.55" lengthAdjust="spacingAndGlyphs" fill="#1c1c1c">A: MK (%)</text>
<text transform="translate(166.90,338.60) rotate(-90)" x="-1.61" y="0" font-size="20.14" textLength="98.21" lengthAdjust="spacingAndGlyphs" fill="#1c1c1c">Desirability</text>
<text x="590.41" y="193.60" font-size="11.86" textLength="28.09" lengthAdjust="spacingAndGlyphs" fill="#50505a">0.684</text>
</svg>
</body></html>
